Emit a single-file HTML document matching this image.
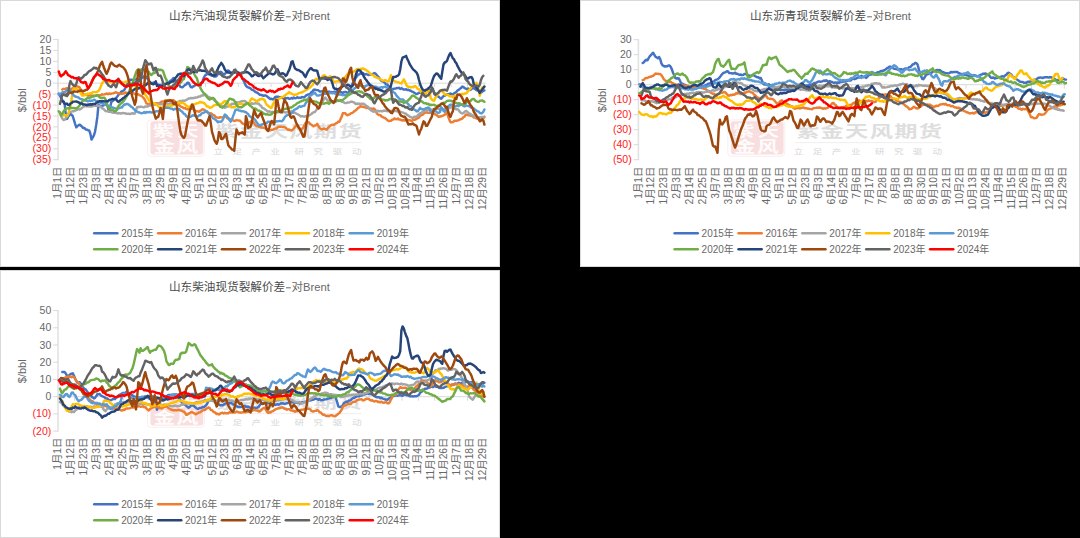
<!DOCTYPE html>
<html><head><meta charset="utf-8"><style>html,body{margin:0;padding:0;background:#000;}svg{display:block}body{font-family:"Liberation Sans",sans-serif;}text{font-family:"Liberation Sans","Noto Sans CJK SC",sans-serif;}</style></head><body>
<svg width="1080" height="538" viewBox="0 0 1080 538">
<rect width="1080" height="538" fill="#000"/>
<g transform="translate(0,0)">
<rect x="0.5" y="0.5" width="499" height="266" fill="#fff" stroke="#D9D9D9" stroke-width="1"/>
<rect x="150.4" y="121.3" width="52.8" height="33.2" rx="3" fill="#F8DEDE"/><rect x="147.4" y="119.9" width="57" height="36.4" rx="3.5" fill="none" stroke="#FAE9E9" stroke-width="0.8"/>
<g fill="#fff" opacity="0.9" font-size="15" font-weight="bold"><text transform="translate(152.4,135.6) scale(1.45,1)">紫</text><text transform="translate(177,135.6) scale(1.45,1)">天</text><text transform="translate(153.5,151.8) scale(1.45,1)">金</text><text transform="translate(176.5,151.8) scale(1.45,1)">风</text></g>
<text transform="translate(215.5,136.5) scale(1.5,1)" font-size="15.5" font-weight="bold" letter-spacing="0.9" fill="#DEDEDE">紫金天风期货</text>
<rect x="214.5" y="142.4" width="147" height="0.7" fill="#E6E6E6"/>
<text transform="translate(0,154) scale(1.45,1)" x="147.2 160.3 173.4 186.6 203.1 216.2 229.3 242.8" y="0" font-size="6.6" fill="#D6D6D6">立足产业研究驱动</text>
<text x="168.9" y="20.3" font-size="11.64" fill="#4a4a4a">山东汽油现货裂解价差</text>
<rect x="286.0" y="16.3" width="4.8" height="1" fill="#686868"/>
<text x="291.4" y="20.2" font-size="11.5" fill="#686868">对</text>
<text x="303.1" y="20.1" font-size="11.2" fill="#686868">Brent</text>
<path d="M58.0,39.0V160.2" stroke="#E2E2E2" stroke-width="1.6" fill="none"/>
<g font-size="10.5" text-anchor="end" fill="#686868"><text x="51.3" y="43.06">20</text><text x="51.3" y="54">15</text><text x="51.3" y="64.93">10</text><text x="51.3" y="75.86">5</text><text x="51.3" y="86.8">0</text></g>
<g font-size="10.5" text-anchor="end" fill="#FF2020"><text x="51.3" y="97.73">(5)</text><text x="51.3" y="108.67">(10)</text><text x="51.3" y="119.6">(15)</text><text x="51.3" y="130.54">(20)</text><text x="51.3" y="141.47">(25)</text><text x="51.3" y="152.41">(30)</text><text x="51.3" y="163.34">(35)</text></g>
<path d="M53.2,39.5H58.2M53.2,50.4H58.2M53.2,61.3H58.2M53.2,72.3H58.2M53.2,83.2H58.2M53.2,94.1H58.2M53.2,105.1H58.2M53.2,116.0H58.2M53.2,126.9H58.2M53.2,137.9H58.2M53.2,148.8H58.2M53.2,159.7H58.2M58.2,83.2H486.2M58.2,83.2V87.2M74.6,83.2V87.2M90.9,83.2V87.2M107.3,83.2V87.2M123.7,83.2V87.2M140.1,83.2V87.2M156.4,83.2V87.2M172.8,83.2V87.2M189.2,83.2V87.2M205.5,83.2V87.2M221.9,83.2V87.2M238.3,83.2V87.2M254.7,83.2V87.2M271.0,83.2V87.2M287.4,83.2V87.2M303.8,83.2V87.2M320.1,83.2V87.2M336.5,83.2V87.2M352.9,83.2V87.2M369.3,83.2V87.2M385.6,83.2V87.2M402.0,83.2V87.2M418.4,83.2V87.2M434.7,83.2V87.2M451.1,83.2V87.2M467.5,83.2V87.2M483.9,83.2V87.2" stroke="#D9D9D9" stroke-width="1" fill="none"/>
<text transform="translate(25.6,100.3) rotate(-90)" font-size="11" text-anchor="middle" fill="#686868">$/bbl</text>
<g font-size="10.3" text-anchor="end" fill="#686868">
<text transform="translate(61.18,166.6) rotate(-90)">1月1日</text>
<text transform="translate(74.05,166.6) rotate(-90)">1月12日</text>
<text transform="translate(86.91,166.6) rotate(-90)">1月23日</text>
<text transform="translate(99.77,166.6) rotate(-90)">2月3日</text>
<text transform="translate(112.64,166.6) rotate(-90)">2月14日</text>
<text transform="translate(125.50,166.6) rotate(-90)">2月25日</text>
<text transform="translate(138.37,166.6) rotate(-90)">3月7日</text>
<text transform="translate(151.23,166.6) rotate(-90)">3月18日</text>
<text transform="translate(164.09,166.6) rotate(-90)">3月29日</text>
<text transform="translate(176.96,166.6) rotate(-90)">4月9日</text>
<text transform="translate(189.82,166.6) rotate(-90)">4月20日</text>
<text transform="translate(202.68,166.6) rotate(-90)">5月1日</text>
<text transform="translate(215.55,166.6) rotate(-90)">5月12日</text>
<text transform="translate(228.41,166.6) rotate(-90)">5月23日</text>
<text transform="translate(241.27,166.6) rotate(-90)">6月3日</text>
<text transform="translate(254.14,166.6) rotate(-90)">6月14日</text>
<text transform="translate(267.00,166.6) rotate(-90)">6月25日</text>
<text transform="translate(279.86,166.6) rotate(-90)">7月6日</text>
<text transform="translate(292.73,166.6) rotate(-90)">7月17日</text>
<text transform="translate(305.59,166.6) rotate(-90)">7月28日</text>
<text transform="translate(318.45,166.6) rotate(-90)">8月8日</text>
<text transform="translate(331.32,166.6) rotate(-90)">8月19日</text>
<text transform="translate(344.18,166.6) rotate(-90)">8月30日</text>
<text transform="translate(357.04,166.6) rotate(-90)">9月10日</text>
<text transform="translate(369.91,166.6) rotate(-90)">9月21日</text>
<text transform="translate(382.77,166.6) rotate(-90)">10月2日</text>
<text transform="translate(395.63,166.6) rotate(-90)">10月13日</text>
<text transform="translate(408.50,166.6) rotate(-90)">10月24日</text>
<text transform="translate(421.36,166.6) rotate(-90)">11月4日</text>
<text transform="translate(434.22,166.6) rotate(-90)">11月15日</text>
<text transform="translate(447.09,166.6) rotate(-90)">11月26日</text>
<text transform="translate(459.95,166.6) rotate(-90)">12月7日</text>
<text transform="translate(472.81,166.6) rotate(-90)">12月18日</text>
<text transform="translate(485.68,166.6) rotate(-90)">12月29日</text>
</g>
<g fill="none" stroke-width="2.45" stroke-linejoin="round" stroke-linecap="round">
<path d="M58.8,93.6 60.0,95.7 61.1,98.1 62.3,100.1 63.5,102.1 64.6,103.9 65.8,114.3 67.0,118.9 68.1,116.6 69.3,115.3 70.5,114.2 71.6,114.6 72.8,116.3 74.0,120.2 75.2,124.1 76.3,127.3 77.5,126.0 78.7,125.2 79.8,124.7 81.0,125.7 82.2,126.9 83.3,128.1 84.5,127.9 85.7,129.5 86.9,129.6 88.0,130.2 89.2,130.4 90.4,133.9 91.5,139.5 92.7,137.5 93.9,135.4 95.0,131.8 96.2,124.9 97.4,116.4 98.5,104.6 99.7,105.8 100.9,106.3 102.1,106.1 103.2,105.5 104.4,104.9 105.6,104.5 106.7,103.6 107.9,107.6 109.1,111.6 110.2,107.1 111.4,101.8 112.6,101.1 113.7,100.1 114.9,99.0 116.1,98.1 117.3,96.5 118.4,94.8 119.6,93.8 120.8,92.1 121.9,91.4 123.1,90.7 124.3,89.9 125.4,88.0 126.6,85.7 127.8,83.2 128.9,81.8 130.1,79.8 131.3,79.6 132.5,79.9 133.6,79.8 134.8,79.6 136.0,79.6 137.1,78.9 138.3,79.4 139.5,79.3 140.6,78.0 141.8,78.1 143.0,77.4 144.2,76.2 145.3,75.8 146.5,77.9 147.7,78.9 148.8,80.5 150.0,82.3 151.2,83.7 152.3,83.2 153.5,82.4 154.7,82.4 155.8,83.3 157.0,84.5 158.2,84.7 159.4,85.0 160.5,85.3 161.7,84.7 162.9,84.9 164.0,85.0 165.2,83.8 166.4,83.6 167.5,82.9 168.7,82.3 169.9,81.3 171.0,80.4 172.2,79.6 173.4,78.0 174.6,79.5 175.7,80.5 176.9,80.9 178.1,83.0 179.2,85.0 180.4,86.8 181.6,87.2 182.7,87.2 183.9,86.0 185.1,84.8 186.2,84.6 187.4,82.8 188.6,82.7 189.8,85.0 190.9,87.1 192.1,87.4 193.3,86.3 194.4,86.0 195.6,84.8 196.8,84.8 197.9,85.1 199.1,85.5 200.3,86.0 201.5,83.1 202.6,81.0 203.8,77.8 205.0,75.5 206.1,74.7 207.3,72.9 208.5,74.4 209.6,74.5 210.8,75.1 212.0,75.8 213.1,75.9 214.3,76.6 215.5,76.6 216.7,75.9 217.8,74.3 219.0,72.9 220.2,71.8 221.3,71.9 222.5,73.5 223.7,74.6 224.8,74.0 226.0,72.7 227.2,71.1 228.3,70.4 229.5,71.4 230.7,72.8 231.9,72.6 233.0,73.2 234.2,71.9 235.4,72.2 236.5,71.6 237.7,72.5 238.9,72.9 240.0,74.9 241.2,75.7 242.4,78.2 243.5,80.4 244.7,83.1 245.9,85.6 247.1,86.9 248.2,87.5 249.4,87.8 250.6,88.4 251.7,89.7 252.9,90.1 254.1,90.6 255.2,91.8 256.4,92.5 257.6,92.8 258.8,94.0 259.9,94.8 261.1,95.0 262.3,95.2 263.4,95.8 264.6,95.5 265.8,95.4 266.9,96.3 268.1,97.2 269.3,98.2 270.4,99.1 271.6,98.8 272.8,99.4 274.0,98.7 275.1,97.1 276.3,96.6 277.5,96.7 278.6,96.8 279.8,97.5 281.0,97.1 282.1,97.8 283.3,98.3 284.5,97.5 285.6,98.3 286.8,98.3 288.0,97.9 289.2,98.9 290.3,98.6 291.5,98.0 292.7,98.5 293.8,97.5 295.0,98.2 296.2,98.1 297.3,97.2 298.5,97.9 299.7,97.7 300.9,97.7 302.0,96.9 303.2,97.3 304.4,97.1 305.5,96.0 306.7,95.1 307.9,94.5 309.0,94.4 310.2,93.8 311.4,92.2 312.5,91.6 313.7,89.8 314.9,89.6 316.1,90.0 317.2,90.1 318.4,90.3 319.6,91.5 320.7,91.5 321.9,91.4 323.1,90.9 324.2,91.5 325.4,92.1 326.6,92.0 327.7,92.1 328.9,91.5 330.1,92.2 331.3,91.9 332.4,92.8 333.6,91.9 334.8,91.8 335.9,92.2 337.1,90.9 338.3,90.8 339.4,91.1 340.6,92.2 341.8,92.3 342.9,92.9 344.1,92.1 345.3,92.0 346.5,92.3 347.6,92.7 348.8,92.4 350.0,90.1 351.1,87.3 352.3,84.0 353.5,81.7 354.6,79.6 355.8,77.7 357.0,76.2 358.2,74.4 359.3,74.4 360.5,73.2 361.7,73.8 362.8,72.9 364.0,74.0 365.2,74.5 366.3,74.0 367.5,74.7 368.7,75.1 369.8,74.1 371.0,74.6 372.2,74.1 373.4,73.6 374.5,73.0 375.7,73.7 376.9,75.2 378.0,76.5 379.2,77.9 380.4,79.7 381.5,81.0 382.7,81.4 383.9,82.0 385.0,83.1 386.2,84.5 387.4,84.5 388.6,86.2 389.7,86.7 390.9,88.2 392.1,89.1 393.2,89.2 394.4,88.6 395.6,88.6 396.7,88.0 397.9,88.1 399.1,87.8 400.2,88.9 401.4,88.2 402.6,88.9 403.8,89.6 404.9,89.5 406.1,89.2 407.3,90.1 408.4,89.7 409.6,90.5 410.8,90.8 411.9,91.6 413.1,91.9 414.3,92.8 415.5,93.5 416.6,94.1 417.8,93.6 419.0,92.7 420.1,92.8 421.3,92.3 422.5,91.6 423.6,91.6 424.8,90.9 426.0,90.7 427.1,90.3 428.3,90.0 429.5,90.3 430.7,90.2 431.8,89.9 433.0,90.2 434.2,92.6 435.3,93.5 436.5,95.4 437.7,96.2 438.8,96.9 440.0,97.9 441.2,98.8 442.3,97.4 443.5,96.0 444.7,95.6 445.9,95.1 447.0,94.3 448.2,94.6 449.4,93.8 450.5,93.4 451.7,94.5 452.9,94.4 454.0,93.3 455.2,92.7 456.4,91.9 457.5,90.4 458.7,90.0 459.9,88.7 461.1,87.9 462.2,86.6 463.4,87.0 464.6,88.1 465.7,88.5 466.9,89.2 468.1,88.5 469.2,89.4 470.4,89.9 471.6,88.8 472.8,88.1 473.9,88.1 475.1,89.1 476.3,90.0 477.4,90.6 478.6,90.9 479.8,91.9 480.9,92.8 482.1,91.8 483.3,90.7 484.4,90.4" stroke="#4472C4"/>
<path d="M62.3,89.6 63.5,88.8 64.6,89.2 65.8,88.7 67.0,88.2 68.1,88.8 69.3,88.7 70.5,89.1 71.6,88.7 72.8,88.4 74.0,87.1 75.2,87.1 76.3,86.2 77.5,86.5 78.7,86.6 79.8,87.8 81.0,89.9 82.2,92.7 83.3,94.0 84.5,94.7 85.7,94.8 86.9,95.0 88.0,95.4 89.2,95.2 90.4,95.0 91.5,95.8 92.7,95.6 93.9,95.6 95.0,95.8 96.2,95.3 97.4,95.3 98.5,95.3 99.7,95.2 100.9,95.3 102.1,94.3 103.2,94.6 104.4,94.4 105.6,94.0 106.7,93.4 107.9,94.2 109.1,93.4 110.2,94.0 111.4,93.6 112.6,93.4 113.7,93.2 114.9,92.6 116.1,92.3 117.3,92.8 118.4,93.2 119.6,93.2 120.8,93.9 121.9,93.7 123.1,93.4 124.3,93.4 125.4,92.4 126.6,92.9 127.8,92.9 128.9,93.0 130.1,92.3 131.3,92.5 132.5,92.6 133.6,93.1 134.8,94.1 136.0,94.4 137.1,94.6 138.3,94.2 139.5,95.2 140.6,95.6 141.8,95.9 143.0,97.4 144.2,98.7 145.3,100.7 146.5,103.4 147.7,103.8 148.8,104.2 150.0,103.9 151.2,104.5 152.3,103.6 153.5,104.4 154.7,104.2 155.8,103.5 157.0,103.1 158.2,103.5 159.4,103.3 160.5,102.4 161.7,101.6 162.9,101.4 164.0,101.5 165.2,100.3 166.4,100.9 167.5,100.1 168.7,100.1 169.9,100.0 171.0,100.9 172.2,100.9 173.4,100.2 174.6,101.1 175.7,102.9 176.9,104.1 178.1,104.0 179.2,105.4 180.4,106.4 181.6,106.7 182.7,107.4 183.9,108.2 185.1,108.2 186.2,108.8 187.4,109.3 188.6,108.8 189.8,108.4 190.9,107.8 192.1,108.9 193.3,108.9 194.4,110.2 195.6,111.2 196.8,111.2 197.9,111.4 199.1,111.7 200.3,110.8 201.5,110.1 202.6,109.3 203.8,109.6 205.0,110.4 206.1,111.3 207.3,112.4 208.5,112.8 209.6,113.2 210.8,113.3 212.0,114.0 213.1,114.9 214.3,115.4 215.5,116.8 216.7,117.3 217.8,117.7 219.0,117.8 220.2,117.2 221.3,117.4 222.5,117.2 223.7,116.8 224.8,116.3 226.0,116.6 227.2,118.3 228.3,118.6 229.5,118.8 230.7,119.5 231.9,119.4 233.0,120.3 234.2,121.0 235.4,120.6 236.5,120.1 237.7,120.4 238.9,120.4 240.0,120.6 241.2,122.2 242.4,123.4 243.5,124.0 244.7,124.3 245.9,123.8 247.1,124.5 248.2,124.1 249.4,122.2 250.6,121.9 251.7,120.5 252.9,121.6 254.1,123.1 255.2,124.7 256.4,125.9 257.6,125.9 258.8,126.7 259.9,126.4 261.1,127.5 262.3,127.5 263.4,127.7 264.6,128.1 265.8,128.5 266.9,129.7 268.1,129.6 269.3,130.3 270.4,130.3 271.6,129.7 272.8,129.7 274.0,129.0 275.1,128.6 276.3,128.5 277.5,127.6 278.6,126.7 279.8,126.7 281.0,126.8 282.1,126.9 283.3,126.9 284.5,127.2 285.6,127.7 286.8,128.9 288.0,129.9 289.2,129.5 290.3,130.3 291.5,130.5 292.7,129.8 293.8,128.5 295.0,126.9 296.2,125.7 297.3,125.9 298.5,127.7 299.7,128.9 300.9,130.4 302.0,128.9 303.2,127.6 304.4,125.2 305.5,123.1 306.7,122.4 307.9,122.1 309.0,122.5 310.2,124.2 311.4,124.6 312.5,125.7 313.7,126.3 314.9,125.4 316.1,125.0 317.2,123.9 318.4,126.0 319.6,127.8 320.7,129.0 321.9,129.3 323.1,128.8 324.2,128.6 325.4,129.1 326.6,129.7 327.7,128.2 328.9,127.0 330.1,125.9 331.3,125.1 332.4,124.8 333.6,124.8 334.8,124.2 335.9,123.4 337.1,122.8 338.3,121.6 339.4,121.7 340.6,118.9 341.8,116.4 342.9,113.1 344.1,113.2 345.3,113.3 346.5,114.8 347.6,115.3 348.8,114.6 350.0,114.1 351.1,113.2 352.3,112.9 353.5,112.1 354.6,110.8 355.8,110.3 357.0,109.3 358.2,107.6 359.3,107.5 360.5,106.1 361.7,106.7 362.8,106.6 364.0,107.3 365.2,106.6 366.3,108.1 367.5,107.7 368.7,108.3 369.8,108.7 371.0,108.5 372.2,109.1 373.4,108.5 374.5,108.9 375.7,110.5 376.9,113.4 378.0,114.5 379.2,115.1 380.4,115.1 381.5,116.5 382.7,117.0 383.9,117.7 385.0,118.1 386.2,119.0 387.4,120.2 388.6,120.9 389.7,120.9 390.9,120.8 392.1,119.6 393.2,119.5 394.4,118.5 395.6,119.0 396.7,119.2 397.9,118.5 399.1,119.6 400.2,119.5 401.4,120.3 402.6,120.6 403.8,119.9 404.9,120.6 406.1,119.6 407.3,119.5 408.4,120.2 409.6,120.2 410.8,120.6 411.9,121.2 413.1,119.9 414.3,119.8 415.5,119.6 416.6,118.6 417.8,118.3 419.0,117.5 420.1,116.0 421.3,115.1 422.5,114.9 423.6,113.8 424.8,112.7 426.0,112.5 427.1,112.3 428.3,112.8 429.5,112.6 430.7,112.8 431.8,113.2 433.0,112.4 434.2,113.7 435.3,114.5 436.5,114.9 437.7,116.1 438.8,116.9 440.0,116.5 441.2,116.3 442.3,115.8 443.5,115.3 444.7,114.7 445.9,113.8 447.0,112.4 448.2,116.5 449.4,119.9 450.5,122.2 451.7,122.2 452.9,122.1 454.0,121.0 455.2,120.7 456.4,120.9 457.5,120.5 458.7,120.1 459.9,119.5 461.1,119.0 462.2,118.6 463.4,117.2 464.6,116.7 465.7,114.7 466.9,114.4 468.1,115.3 469.2,114.9 470.4,115.7 471.6,115.9 472.8,116.4 473.9,117.6 475.1,117.2 476.3,118.3 477.4,118.7 478.6,118.0 479.8,118.7 480.9,118.1 482.1,118.3 483.3,117.8 484.4,117.3" stroke="#ED7D31"/>
<path d="M60.0,112.6 61.1,116.1 62.3,118.5 63.5,120.0 64.6,119.9 65.8,118.1 67.0,116.4 68.1,114.4 69.3,111.8 70.5,112.0 71.6,111.7 72.8,111.2 74.0,111.2 75.2,110.7 76.3,110.0 77.5,109.6 78.7,109.2 79.8,109.6 81.0,108.7 82.2,107.8 83.3,106.9 84.5,106.4 85.7,106.1 86.9,106.4 88.0,106.0 89.2,106.5 90.4,106.5 91.5,106.5 92.7,106.0 93.9,105.7 95.0,105.8 96.2,106.1 97.4,105.8 98.5,105.9 99.7,106.0 100.9,106.9 102.1,108.3 103.2,108.7 104.4,109.9 105.6,111.0 106.7,111.2 107.9,111.2 109.1,111.6 110.2,111.6 111.4,112.1 112.6,112.6 113.7,112.8 114.9,112.8 116.1,112.8 117.3,113.5 118.4,113.0 119.6,113.2 120.8,113.5 121.9,113.3 123.1,112.9 124.3,113.3 125.4,113.3 126.6,113.9 127.8,113.8 128.9,113.8 130.1,114.1 131.3,113.5 132.5,113.2 133.6,113.7 134.8,113.5 136.0,110.0 137.1,107.2 138.3,106.8 139.5,107.1 140.6,106.7 141.8,106.8 143.0,107.2 144.2,107.3 145.3,106.4 146.5,106.5 147.7,106.6 148.8,105.8 150.0,105.6 151.2,105.0 152.3,104.9 153.5,104.5 154.7,104.3 155.8,104.5 157.0,104.2 158.2,104.1 159.4,104.0 160.5,104.2 161.7,104.0 162.9,104.4 164.0,104.0 165.2,103.7 166.4,103.5 167.5,103.6 168.7,104.0 169.9,103.3 171.0,103.5 172.2,103.8 173.4,103.7 174.6,103.0 175.7,103.1 176.9,102.5 178.1,101.8 179.2,101.3 180.4,101.0 181.6,101.4 182.7,100.6 183.9,100.8 185.1,100.5 186.2,100.1 187.4,99.3 188.6,98.4 189.8,98.4 190.9,98.0 192.1,98.2 193.3,98.0 194.4,98.0 195.6,97.5 196.8,97.6 197.9,97.0 199.1,96.5 200.3,96.5 201.5,95.4 202.6,95.5 203.8,95.0 205.0,95.1 206.1,95.0 207.3,96.0 208.5,97.6 209.6,97.3 210.8,98.0 212.0,98.6 213.1,98.8 214.3,100.3 215.5,101.5 216.7,102.0 217.8,103.0 219.0,105.0 220.2,105.6 221.3,106.3 222.5,106.5 223.7,106.8 224.8,107.8 226.0,107.1 227.2,106.6 228.3,106.3 229.5,105.0 230.7,105.1 231.9,103.7 233.0,104.1 234.2,103.7 235.4,103.6 236.5,102.3 237.7,102.5 238.9,102.3 240.0,102.0 241.2,101.5 242.4,100.9 243.5,101.2 244.7,100.9 245.9,101.7 247.1,103.0 248.2,103.5 249.4,103.6 250.6,104.1 251.7,103.2 252.9,103.8 254.1,103.6 255.2,103.3 256.4,103.4 257.6,103.4 258.8,103.7 259.9,105.2 261.1,105.8 262.3,108.0 263.4,108.1 264.6,109.1 265.8,110.0 266.9,110.7 268.1,111.7 269.3,111.3 270.4,112.0 271.6,112.0 272.8,111.9 274.0,112.5 275.1,112.1 276.3,112.3 277.5,112.5 278.6,111.9 279.8,111.8 281.0,112.5 282.1,112.8 283.3,111.7 284.5,112.1 285.6,112.6 286.8,112.3 288.0,112.4 289.2,111.8 290.3,112.2 291.5,111.1 292.7,111.8 293.8,112.8 295.0,112.8 296.2,113.5 297.3,114.1 298.5,114.6 299.7,115.6 300.9,116.4 302.0,116.2 303.2,116.4 304.4,116.7 305.5,116.3 306.7,116.1 307.9,115.6 309.0,115.5 310.2,114.8 311.4,114.0 312.5,113.0 313.7,112.2 314.9,112.1 316.1,110.4 317.2,108.6 318.4,106.7 319.6,106.0 320.7,105.1 321.9,103.1 323.1,100.6 324.2,98.4 325.4,97.6 326.6,99.3 327.7,100.6 328.9,101.0 330.1,101.2 331.3,101.8 332.4,102.1 333.6,101.8 334.8,102.1 335.9,101.6 337.1,100.8 338.3,100.9 339.4,100.1 340.6,100.7 341.8,101.8 342.9,101.5 344.1,102.6 345.3,103.1 346.5,103.0 347.6,102.4 348.8,102.6 350.0,102.1 351.1,101.6 352.3,101.8 353.5,102.2 354.6,102.9 355.8,104.1 357.0,103.5 358.2,104.0 359.3,103.6 360.5,103.9 361.7,103.7 362.8,103.7 364.0,104.0 365.2,104.7 366.3,106.0 367.5,106.4 368.7,107.6 369.8,109.3 371.0,110.3 372.2,110.9 373.4,111.7 374.5,111.2 375.7,111.9 376.9,111.1 378.0,110.8 379.2,111.3 380.4,110.9 381.5,111.2 382.7,111.3 383.9,110.4 385.0,110.8 386.2,110.7 387.4,111.3 388.6,111.2 389.7,111.2 390.9,111.1 392.1,110.7 393.2,111.1 394.4,111.1 395.6,111.0 396.7,111.1 397.9,111.6 399.1,112.0 400.2,111.6 401.4,112.1 402.6,112.4 403.8,113.0 404.9,113.5 406.1,113.8 407.3,115.1 408.4,115.5 409.6,116.7 410.8,116.9 411.9,117.7 413.1,117.7 414.3,116.7 415.5,116.7 416.6,116.7 417.8,115.2 419.0,114.2 420.1,113.2 421.3,113.0 422.5,111.7 423.6,111.5 424.8,110.4 426.0,109.2 427.1,109.9 428.3,109.8 429.5,109.6 430.7,109.4 431.8,109.6 433.0,109.7 434.2,108.7 435.3,108.5 436.5,108.9 437.7,108.6 438.8,109.3 440.0,109.3 441.2,109.1 442.3,108.8 443.5,109.4 444.7,109.3 445.9,108.9 447.0,108.8 448.2,108.1 449.4,108.2 450.5,107.5 451.7,106.8 452.9,108.0 454.0,107.7 455.2,108.9 456.4,109.4 457.5,109.1 458.7,110.2 459.9,112.0 461.1,112.9 462.2,113.5 463.4,113.1 464.6,111.9 465.7,110.9 466.9,111.3 468.1,112.6 469.2,113.7 470.4,113.7 471.6,115.2 472.8,115.3 473.9,116.6 475.1,116.5 476.3,116.5 477.4,116.9 478.6,117.3 479.8,117.2 480.9,117.6 482.1,116.9 483.3,117.2 484.4,116.5" stroke="#A5A5A5"/>
<path d="M60.0,113.7 61.1,113.9 62.3,114.9 63.5,115.6 64.6,115.2 65.8,115.2 67.0,116.0 68.1,114.5 69.3,110.5 70.5,105.8 71.6,98.9 72.8,91.5 74.0,88.2 75.2,88.4 76.3,89.1 77.5,89.1 78.7,90.8 79.8,92.1 81.0,93.6 82.2,95.5 83.3,95.5 84.5,95.2 85.7,94.9 86.9,94.3 88.0,93.6 89.2,93.8 90.4,93.2 91.5,93.2 92.7,92.3 93.9,92.1 95.0,92.1 96.2,92.2 97.4,91.5 98.5,91.1 99.7,89.1 100.9,86.2 102.1,83.2 103.2,82.1 104.4,80.3 105.6,80.8 106.7,80.9 107.9,81.6 109.1,81.6 110.2,82.0 111.4,81.7 112.6,82.0 113.7,81.8 114.9,81.6 116.1,82.5 117.3,81.6 118.4,82.4 119.6,82.3 120.8,81.6 121.9,82.0 123.1,82.6 124.3,82.6 125.4,81.8 126.6,81.8 127.8,81.8 128.9,82.1 130.1,83.1 131.3,83.9 132.5,84.4 133.6,85.5 134.8,85.7 136.0,86.6 137.1,86.5 138.3,87.5 139.5,87.6 140.6,88.9 141.8,89.7 143.0,90.8 144.2,92.8 145.3,94.8 146.5,96.3 147.7,98.1 148.8,99.9 150.0,101.5 151.2,102.7 152.3,102.9 153.5,102.9 154.7,103.5 155.8,104.3 157.0,104.7 158.2,106.2 159.4,107.5 160.5,107.8 161.7,108.0 162.9,106.9 164.0,107.3 165.2,106.2 166.4,106.1 167.5,106.4 168.7,105.3 169.9,105.7 171.0,105.8 172.2,105.6 173.4,105.1 174.6,104.3 175.7,103.8 176.9,103.7 178.1,102.7 179.2,102.2 180.4,103.2 181.6,103.1 182.7,102.8 183.9,103.4 185.1,104.2 186.2,105.8 187.4,106.1 188.6,107.2 189.8,106.6 190.9,105.6 192.1,104.9 193.3,104.7 194.4,104.1 195.6,103.9 196.8,103.2 197.9,103.2 199.1,102.5 200.3,102.0 201.5,102.5 202.6,102.4 203.8,102.8 205.0,103.9 206.1,105.4 207.3,106.5 208.5,106.4 209.6,107.9 210.8,107.7 212.0,107.1 213.1,106.0 214.3,105.3 215.5,105.0 216.7,105.0 217.8,104.2 219.0,103.8 220.2,104.8 221.3,104.1 222.5,103.1 223.7,101.9 224.8,101.1 226.0,101.4 227.2,101.3 228.3,104.0 229.5,106.2 230.7,106.9 231.9,107.4 233.0,107.2 234.2,107.6 235.4,106.6 236.5,105.8 237.7,104.7 238.9,103.7 240.0,103.8 241.2,104.0 242.4,104.0 243.5,104.8 244.7,105.0 245.9,104.2 247.1,103.9 248.2,103.6 249.4,102.6 250.6,100.0 251.7,98.4 252.9,98.9 254.1,99.7 255.2,100.1 256.4,101.6 257.6,100.6 258.8,100.3 259.9,99.1 261.1,99.2 262.3,98.7 263.4,99.3 264.6,100.3 265.8,103.1 266.9,105.0 268.1,105.7 269.3,106.7 270.4,107.7 271.6,107.7 272.8,104.6 274.0,102.3 275.1,100.6 276.3,100.1 277.5,99.8 278.6,98.8 279.8,98.4 281.0,97.6 282.1,97.1 283.3,96.9 284.5,95.6 285.6,95.1 286.8,93.8 288.0,93.4 289.2,92.1 290.3,93.4 291.5,93.5 292.7,94.3 293.8,94.7 295.0,94.8 296.2,94.5 297.3,94.2 298.5,93.2 299.7,92.8 300.9,92.9 302.0,91.9 303.2,91.9 304.4,90.9 305.5,90.4 306.7,89.5 307.9,89.0 309.0,87.8 310.2,87.4 311.4,86.0 312.5,85.1 313.7,83.0 314.9,80.5 316.1,78.8 317.2,79.4 318.4,79.6 319.6,79.3 320.7,78.4 321.9,77.2 323.1,75.6 324.2,75.2 325.4,76.1 326.6,77.3 327.7,77.8 328.9,77.4 330.1,76.2 331.3,77.1 332.4,78.9 333.6,81.4 334.8,82.4 335.9,81.5 337.1,81.4 338.3,81.2 339.4,81.7 340.6,80.8 341.8,79.7 342.9,79.0 344.1,77.6 345.3,77.0 346.5,75.7 347.6,74.0 348.8,72.8 350.0,72.8 351.1,72.3 352.3,72.3 353.5,71.7 354.6,71.1 355.8,70.1 357.0,69.0 358.2,68.9 359.3,69.2 360.5,68.8 361.7,68.9 362.8,68.5 364.0,68.8 365.2,69.6 366.3,70.1 367.5,71.1 368.7,72.0 369.8,73.3 371.0,73.9 372.2,74.8 373.4,75.6 374.5,76.6 375.7,77.3 376.9,77.6 378.0,78.2 379.2,78.6 380.4,79.5 381.5,80.0 382.7,80.5 383.9,80.6 385.0,80.1 386.2,80.5 387.4,81.6 388.6,81.4 389.7,78.8 390.9,75.2 392.1,78.3 393.2,80.3 394.4,81.2 395.6,81.5 396.7,82.1 397.9,82.1 399.1,82.4 400.2,83.2 401.4,83.3 402.6,81.3 403.8,79.4 404.9,81.1 406.1,84.4 407.3,86.4 408.4,86.9 409.6,86.8 410.8,87.5 411.9,86.9 413.1,87.2 414.3,86.2 415.5,86.2 416.6,87.6 417.8,88.8 419.0,89.4 420.1,90.5 421.3,92.5 422.5,92.8 423.6,92.7 424.8,94.2 426.0,93.4 427.1,91.7 428.3,90.6 429.5,90.9 430.7,98.2 431.8,99.4 433.0,100.6 434.2,100.7 435.3,97.9 436.5,96.1 437.7,94.3 438.8,93.0 440.0,90.6 441.2,90.0 442.3,91.6 443.5,92.7 444.7,94.6 445.9,94.5 447.0,94.6 448.2,95.0 449.4,96.2 450.5,96.4 451.7,96.2 452.9,97.3 454.0,95.9 455.2,96.0 456.4,95.4 457.5,95.1 458.7,94.9 459.9,94.5 461.1,94.5 462.2,93.9 463.4,94.2 464.6,93.4 465.7,93.6 466.9,92.8 468.1,91.0 469.2,90.0 470.4,88.7 471.6,86.9 472.8,86.3 473.9,85.2 475.1,84.3 476.3,82.7 477.4,85.7 478.6,90.3 479.8,95.7 480.9,91.3 482.1,87.4 483.3,87.3 484.4,86.9" stroke="#FFC000"/>
<path d="M58.8,94.4 60.0,94.0 61.1,93.5 62.3,92.5 63.5,92.2 64.6,92.1 65.8,91.6 67.0,90.1 68.1,89.7 69.3,89.9 70.5,90.6 71.6,92.7 72.8,93.9 74.0,95.7 75.2,96.5 76.3,96.8 77.5,97.2 78.7,97.7 79.8,98.6 81.0,99.0 82.2,99.3 83.3,99.8 84.5,100.4 85.7,100.5 86.9,100.9 88.0,101.3 89.2,100.5 90.4,100.8 91.5,100.8 92.7,100.6 93.9,99.8 95.0,100.0 96.2,101.2 97.4,101.1 98.5,102.4 99.7,102.1 100.9,103.3 102.1,102.9 103.2,103.9 104.4,104.5 105.6,104.6 106.7,105.1 107.9,106.0 109.1,106.7 110.2,106.4 111.4,107.3 112.6,107.4 113.7,108.1 114.9,108.3 116.1,108.7 117.3,109.4 118.4,108.4 119.6,108.1 120.8,107.5 121.9,107.6 123.1,105.8 124.3,104.5 125.4,104.5 126.6,104.0 127.8,103.9 128.9,104.7 130.1,105.7 131.3,106.8 132.5,107.4 133.6,108.9 134.8,109.8 136.0,111.0 137.1,111.7 138.3,112.2 139.5,112.5 140.6,113.0 141.8,113.2 143.0,112.9 144.2,112.1 145.3,112.9 146.5,112.0 147.7,112.3 148.8,112.3 150.0,111.9 151.2,112.4 152.3,112.4 153.5,112.4 154.7,111.9 155.8,111.3 157.0,111.3 158.2,111.4 159.4,110.6 160.5,110.4 161.7,109.0 162.9,109.3 164.0,108.3 165.2,107.8 166.4,107.7 167.5,107.8 168.7,107.9 169.9,108.3 171.0,108.6 172.2,108.8 173.4,109.7 174.6,108.9 175.7,109.0 176.9,108.8 178.1,109.3 179.2,109.0 180.4,110.4 181.6,111.2 182.7,112.4 183.9,113.8 185.1,114.4 186.2,116.2 187.4,116.9 188.6,117.2 189.8,116.8 190.9,116.7 192.1,115.6 193.3,115.3 194.4,115.5 195.6,116.1 196.8,116.9 197.9,116.4 199.1,115.3 200.3,115.2 201.5,113.5 202.6,113.0 203.8,112.6 205.0,112.0 206.1,111.0 207.3,111.6 208.5,113.4 209.6,114.4 210.8,115.2 212.0,116.7 213.1,118.4 214.3,118.7 215.5,119.8 216.7,120.7 217.8,122.3 219.0,121.6 220.2,121.8 221.3,121.6 222.5,120.2 223.7,117.7 224.8,114.5 226.0,115.2 227.2,116.6 228.3,118.2 229.5,120.2 230.7,121.6 231.9,119.7 233.0,116.4 234.2,113.4 235.4,110.0 236.5,109.5 237.7,109.8 238.9,110.6 240.0,110.6 241.2,111.2 242.4,111.2 243.5,111.2 244.7,111.9 245.9,111.9 247.1,113.4 248.2,114.0 249.4,116.1 250.6,116.6 251.7,118.0 252.9,118.0 254.1,118.8 255.2,119.8 256.4,122.0 257.6,123.5 258.8,125.0 259.9,125.6 261.1,124.8 262.3,124.5 263.4,123.9 264.6,124.3 265.8,122.9 266.9,122.9 268.1,121.6 269.3,121.8 270.4,122.3 271.6,122.0 272.8,122.0 274.0,123.1 275.1,122.1 276.3,121.2 277.5,121.4 278.6,121.1 279.8,121.0 281.0,121.1 282.1,121.3 283.3,119.8 284.5,117.6 285.6,116.1 286.8,115.4 288.0,114.9 289.2,114.7 290.3,114.4 291.5,113.0 292.7,112.4 293.8,110.2 295.0,109.5 296.2,108.9 297.3,108.4 298.5,107.1 299.7,106.3 300.9,106.8 302.0,106.3 303.2,105.9 304.4,105.8 305.5,103.5 306.7,101.9 307.9,99.9 309.0,97.0 310.2,95.4 311.4,95.2 312.5,94.2 313.7,93.3 314.9,92.7 316.1,94.5 317.2,95.6 318.4,95.6 319.6,95.1 320.7,95.0 321.9,94.3 323.1,94.0 324.2,93.8 325.4,93.6 326.6,93.9 327.7,94.0 328.9,93.2 330.1,93.0 331.3,92.8 332.4,93.3 333.6,92.9 334.8,93.4 335.9,94.2 337.1,93.8 338.3,94.5 339.4,94.5 340.6,94.5 341.8,94.9 342.9,95.2 344.1,94.7 345.3,95.5 346.5,94.8 347.6,94.5 348.8,94.9 350.0,92.8 351.1,92.4 352.3,90.8 353.5,89.2 354.6,88.3 355.8,87.7 357.0,85.4 358.2,84.9 359.3,85.0 360.5,85.8 361.7,85.6 362.8,86.6 364.0,86.3 365.2,86.7 366.3,85.5 367.5,85.3 368.7,84.8 369.8,84.6 371.0,85.1 372.2,85.9 373.4,86.3 374.5,86.8 375.7,86.6 376.9,87.3 378.0,88.0 379.2,87.6 380.4,87.6 381.5,87.2 382.7,87.7 383.9,86.9 385.0,86.7 386.2,87.3 387.4,87.4 388.6,88.2 389.7,89.3 390.9,89.5 392.1,90.8 393.2,92.3 394.4,92.6 395.6,94.1 396.7,95.8 397.9,97.1 399.1,98.6 400.2,99.4 401.4,99.4 402.6,99.4 403.8,100.1 404.9,101.6 406.1,102.0 407.3,103.2 408.4,104.3 409.6,106.0 410.8,106.1 411.9,107.2 413.1,108.6 414.3,109.6 415.5,110.1 416.6,111.3 417.8,111.2 419.0,109.5 420.1,107.8 421.3,109.1 422.5,109.3 423.6,109.5 424.8,109.0 426.0,108.2 427.1,107.9 428.3,107.5 429.5,108.5 430.7,111.9 431.8,111.6 433.0,111.2 434.2,110.9 435.3,110.9 436.5,111.9 437.7,112.9 438.8,112.8 440.0,112.0 441.2,107.2 442.3,108.8 443.5,110.8 444.7,111.7 445.9,110.4 447.0,108.0 448.2,106.5 449.4,105.3 450.5,104.6 451.7,104.6 452.9,104.9 454.0,105.5 455.2,106.4 456.4,106.1 457.5,105.5 458.7,106.0 459.9,105.1 461.1,104.7 462.2,104.8 463.4,106.0 464.6,106.4 465.7,105.3 466.9,105.7 468.1,105.9 469.2,106.1 470.4,107.2 471.6,107.8 472.8,108.1 473.9,108.6 475.1,109.8 476.3,110.6 477.4,111.4 478.6,111.5 479.8,112.8 480.9,113.3 482.1,113.2 483.3,111.8 484.4,109.4" stroke="#5B9BD5"/>
<path d="M58.8,111.2 60.0,112.7 61.1,115.5 62.3,114.0 63.5,111.4 64.6,110.0 65.8,108.9 67.0,108.4 68.1,108.3 69.3,108.5 70.5,107.5 71.6,108.1 72.8,107.9 74.0,107.9 75.2,108.3 76.3,108.4 77.5,107.6 78.7,106.6 79.8,105.2 81.0,102.7 82.2,101.8 83.3,100.2 84.5,100.0 85.7,99.3 86.9,98.4 88.0,97.5 89.2,97.8 90.4,97.6 91.5,96.9 92.7,96.0 93.9,96.5 95.0,96.0 96.2,95.6 97.4,95.1 98.5,96.2 99.7,97.4 100.9,98.0 102.1,98.0 103.2,97.7 104.4,97.8 105.6,99.4 106.7,103.5 107.9,106.2 109.1,108.6 110.2,109.8 111.4,109.7 112.6,109.9 113.7,110.8 114.9,111.4 116.1,110.9 117.3,108.4 118.4,106.1 119.6,104.8 120.8,103.6 121.9,102.8 123.1,101.8 124.3,100.2 125.4,98.5 126.6,96.4 127.8,94.0 128.9,92.3 130.1,89.0 131.3,86.8 132.5,83.1 133.6,80.2 134.8,76.2 136.0,72.6 137.1,70.2 138.3,69.4 139.5,69.6 140.6,69.9 141.8,69.3 143.0,69.8 144.2,68.9 145.3,68.8 146.5,70.7 147.7,71.2 148.8,72.0 150.0,73.9 151.2,75.0 152.3,74.0 153.5,73.0 154.7,73.0 155.8,71.5 157.0,70.4 158.2,69.2 159.4,70.1 160.5,69.8 161.7,70.0 162.9,70.7 164.0,73.9 165.2,77.5 166.4,79.7 167.5,83.1 168.7,85.6 169.9,87.2 171.0,87.2 172.2,87.8 173.4,88.4 174.6,87.2 175.7,86.2 176.9,84.8 178.1,84.1 179.2,83.8 180.4,82.8 181.6,81.4 182.7,79.7 183.9,79.1 185.1,75.2 186.2,71.2 187.4,67.1 188.6,67.7 189.8,68.5 190.9,69.7 192.1,70.6 193.3,72.6 194.4,74.2 195.6,76.5 196.8,78.1 197.9,81.5 199.1,84.5 200.3,87.9 201.5,90.0 202.6,91.6 203.8,93.3 205.0,93.8 206.1,96.0 207.3,97.4 208.5,98.7 209.6,99.6 210.8,98.8 212.0,97.9 213.1,98.0 214.3,99.0 215.5,100.8 216.7,102.7 217.8,104.5 219.0,104.9 220.2,106.7 221.3,107.0 222.5,107.7 223.7,106.3 224.8,105.7 226.0,104.1 227.2,102.5 228.3,100.4 229.5,98.8 230.7,98.7 231.9,99.4 233.0,99.4 234.2,100.5 235.4,102.7 236.5,104.7 237.7,106.3 238.9,107.4 240.0,107.2 241.2,107.4 242.4,106.8 243.5,105.9 244.7,104.7 245.9,104.1 247.1,103.2 248.2,103.4 249.4,105.1 250.6,106.1 251.7,106.8 252.9,108.2 254.1,108.6 255.2,108.4 256.4,109.3 257.6,110.4 258.8,110.6 259.9,111.2 261.1,111.6 262.3,112.3 263.4,113.7 264.6,113.7 265.8,114.5 266.9,114.1 268.1,114.6 269.3,114.7 270.4,114.5 271.6,114.2 272.8,112.8 274.0,112.2 275.1,111.9 276.3,111.5 277.5,111.7 278.6,110.6 279.8,110.5 281.0,110.6 282.1,109.6 283.3,109.3 284.5,109.1 285.6,108.8 286.8,108.7 288.0,109.1 289.2,108.1 290.3,107.4 291.5,107.5 292.7,106.7 293.8,105.6 295.0,105.0 296.2,104.2 297.3,103.2 298.5,102.7 299.7,101.9 300.9,101.4 302.0,100.7 303.2,100.6 304.4,99.6 305.5,100.2 306.7,99.5 307.9,100.4 309.0,100.7 310.2,100.8 311.4,101.8 312.5,101.4 313.7,101.3 314.9,101.6 316.1,101.6 317.2,102.3 318.4,103.0 319.6,103.3 320.7,102.8 321.9,103.6 323.1,103.5 324.2,103.7 325.4,103.0 326.6,102.9 327.7,103.0 328.9,103.8 330.1,102.6 331.3,102.1 332.4,102.1 333.6,101.2 334.8,100.9 335.9,101.3 337.1,100.1 338.3,100.7 339.4,100.8 340.6,100.4 341.8,100.3 342.9,99.9 344.1,98.9 345.3,97.9 346.5,96.8 347.6,95.6 348.8,94.3 350.0,94.4 351.1,93.5 352.3,93.0 353.5,92.6 354.6,92.6 355.8,91.9 357.0,91.6 358.2,91.4 359.3,91.3 360.5,92.1 361.7,91.8 362.8,92.8 364.0,93.5 365.2,94.2 366.3,94.8 367.5,96.5 368.7,97.2 369.8,98.4 371.0,99.3 372.2,99.7 373.4,98.9 374.5,97.3 375.7,96.8 376.9,97.1 378.0,97.4 379.2,98.4 380.4,98.6 381.5,99.4 382.7,99.6 383.9,99.6 385.0,100.5 386.2,100.2 387.4,100.3 388.6,99.8 389.7,99.0 390.9,99.0 392.1,99.4 393.2,99.2 394.4,99.3 395.6,100.2 396.7,101.0 397.9,100.9 399.1,101.8 400.2,101.6 401.4,101.6 402.6,102.0 403.8,102.8 404.9,102.6 406.1,101.8 407.3,101.2 408.4,100.0 409.6,99.0 410.8,97.6 411.9,96.0 413.1,95.6 414.3,95.9 415.5,97.1 416.6,98.0 417.8,98.6 419.0,99.6 420.1,101.0 421.3,101.2 422.5,101.8 423.6,103.0 424.8,103.3 426.0,103.2 427.1,104.1 428.3,103.7 429.5,105.0 430.7,104.7 431.8,105.0 433.0,104.9 434.2,104.8 435.3,105.6 436.5,105.9 437.7,105.7 438.8,105.3 440.0,105.0 441.2,103.5 442.3,103.8 443.5,102.6 444.7,102.9 445.9,102.0 447.0,100.9 448.2,100.7 449.4,100.6 450.5,100.6 451.7,101.2 452.9,101.3 454.0,102.1 455.2,102.7 456.4,103.0 457.5,103.5 458.7,103.2 459.9,103.5 461.1,104.3 462.2,104.5 463.4,104.3 464.6,102.8 465.7,103.4 466.9,102.1 468.1,101.7 469.2,101.6 470.4,101.2 471.6,99.6 472.8,99.0 473.9,99.0 475.1,100.4 476.3,101.3 477.4,101.7 478.6,101.9 479.8,100.8 480.9,100.6 482.1,100.4 483.3,101.1 484.4,101.8" stroke="#70AD47"/>
<path d="M61.1,100.6 62.3,101.2 63.5,101.4 64.6,103.6 65.8,104.0 67.0,103.6 68.1,104.8 69.3,105.2 70.5,103.4 71.6,103.1 72.8,101.7 74.0,101.6 75.2,101.6 76.3,101.4 77.5,102.0 78.7,102.3 79.8,103.4 81.0,103.4 82.2,103.9 83.3,104.6 84.5,104.4 85.7,104.7 86.9,105.2 88.0,104.5 89.2,104.7 90.4,104.1 91.5,104.8 92.7,103.9 93.9,103.9 95.0,104.1 96.2,103.0 97.4,102.3 98.5,101.6 99.7,101.2 100.9,101.3 102.1,101.1 103.2,101.3 104.4,101.5 105.6,101.4 106.7,101.1 107.9,101.4 109.1,100.2 110.2,99.7 111.4,99.4 112.6,98.8 113.7,99.2 114.9,98.9 116.1,99.3 117.3,101.0 118.4,101.9 119.6,101.0 120.8,100.0 121.9,99.4 123.1,98.1 124.3,97.5 125.4,96.2 126.6,95.4 127.8,94.4 128.9,93.1 130.1,91.7 131.3,91.4 132.5,90.8 133.6,89.9 134.8,89.0 136.0,88.6 137.1,88.7 138.3,88.5 139.5,87.9 140.6,87.5 141.8,86.8 143.0,86.5 144.2,85.2 145.3,85.3 146.5,84.4 147.7,82.9 148.8,82.3 150.0,82.1 151.2,83.4 152.3,84.0 153.5,84.2 154.7,83.5 155.8,81.3 157.0,86.0 158.2,85.7 159.4,85.7 160.5,86.2 161.7,86.4 162.9,85.8 164.0,85.3 165.2,84.2 166.4,83.8 167.5,83.0 168.7,83.6 169.9,82.6 171.0,82.0 172.2,81.4 173.4,81.4 174.6,79.1 175.7,77.5 176.9,76.3 178.1,74.5 179.2,74.2 180.4,73.7 181.6,73.6 182.7,75.3 183.9,76.3 185.1,74.2 186.2,71.8 187.4,69.9 188.6,69.3 189.8,70.0 190.9,70.8 192.1,71.3 193.3,71.8 194.4,72.1 195.6,71.5 196.8,71.1 197.9,70.3 199.1,70.4 200.3,70.1 201.5,70.8 202.6,70.7 203.8,70.7 205.0,71.0 206.1,71.5 207.3,71.7 208.5,72.3 209.6,73.9 210.8,73.8 212.0,75.1 213.1,75.2 214.3,75.7 215.5,74.9 216.7,71.2 217.8,69.1 219.0,66.3 220.2,64.8 221.3,62.9 222.5,64.5 223.7,66.7 224.8,69.5 226.0,71.1 227.2,72.2 228.3,72.5 229.5,72.4 230.7,73.2 231.9,72.9 233.0,72.6 234.2,72.6 235.4,71.7 236.5,71.5 237.7,72.8 238.9,72.8 240.0,73.9 241.2,73.6 242.4,73.1 243.5,72.9 244.7,71.9 245.9,72.2 247.1,72.1 248.2,72.6 249.4,73.5 250.6,74.6 251.7,76.2 252.9,76.0 254.1,74.7 255.2,74.3 256.4,74.4 257.6,75.6 258.8,76.0 259.9,75.6 261.1,74.3 262.3,76.8 263.4,78.2 264.6,77.1 265.8,75.9 266.9,75.1 268.1,73.8 269.3,73.1 270.4,73.4 271.6,73.8 272.8,74.4 274.0,74.2 275.1,73.1 276.3,70.4 277.5,69.4 278.6,71.7 279.8,74.1 281.0,73.9 282.1,73.3 283.3,73.5 284.5,74.3 285.6,75.9 286.8,75.1 288.0,72.1 289.2,69.9 290.3,66.5 291.5,61.9 292.7,61.2 293.8,65.2 295.0,68.4 296.2,69.3 297.3,70.1 298.5,70.0 299.7,70.8 300.9,71.7 302.0,72.2 303.2,73.4 304.4,75.6 305.5,77.0 306.7,74.3 307.9,71.6 309.0,70.1 310.2,68.5 311.4,68.2 312.5,69.7 313.7,70.3 314.9,70.5 316.1,70.5 317.2,70.9 318.4,75.4 319.6,79.1 320.7,78.9 321.9,78.3 323.1,78.1 324.2,78.5 325.4,78.6 326.6,79.1 327.7,80.0 328.9,79.2 330.1,79.0 331.3,80.4 332.4,83.3 333.6,87.8 334.8,88.8 335.9,88.7 337.1,89.2 338.3,89.3 339.4,88.7 340.6,87.5 341.8,87.0 342.9,86.1 344.1,85.9 345.3,85.8 346.5,85.7 347.6,84.7 348.8,85.1 350.0,86.1 351.1,86.8 352.3,86.0 353.5,84.7 354.6,80.4 355.8,75.0 357.0,71.5 358.2,70.1 359.3,70.2 360.5,70.9 361.7,72.7 362.8,74.3 364.0,76.9 365.2,78.7 366.3,80.0 367.5,81.7 368.7,83.3 369.8,84.9 371.0,86.0 372.2,86.4 373.4,88.0 374.5,87.7 375.7,88.9 376.9,88.6 378.0,89.7 379.2,89.4 380.4,90.2 381.5,90.3 382.7,91.2 383.9,91.6 385.0,91.7 386.2,90.8 387.4,89.9 388.6,89.5 389.7,88.6 390.9,85.8 392.1,80.8 393.2,76.9 394.4,77.0 395.6,76.8 396.7,76.2 397.9,75.7 399.1,74.3 400.2,69.4 401.4,61.5 402.6,57.7 403.8,57.1 404.9,56.7 406.1,55.9 407.3,59.1 408.4,61.0 409.6,64.0 410.8,65.9 411.9,67.7 413.1,69.4 414.3,70.4 415.5,71.5 416.6,72.6 417.8,75.1 419.0,80.0 420.1,84.0 421.3,87.1 422.5,89.4 423.6,90.0 424.8,90.6 426.0,89.6 427.1,89.6 428.3,88.2 429.5,87.4 430.7,86.2 431.8,82.6 433.0,78.9 434.2,75.8 435.3,74.6 436.5,73.4 437.7,73.9 438.8,75.5 440.0,77.2 441.2,78.8 442.3,71.7 443.5,64.5 444.7,62.5 445.9,62.0 447.0,60.9 448.2,57.4 449.4,54.6 450.5,53.0 451.7,55.8 452.9,58.4 454.0,59.3 455.2,61.9 456.4,63.3 457.5,65.9 458.7,68.1 459.9,70.4 461.1,72.0 462.2,73.7 463.4,74.1 464.6,74.8 465.7,76.6 466.9,78.6 468.1,78.5 469.2,77.7 470.4,77.2 471.6,77.1 472.8,79.4 473.9,85.0 475.1,85.8 476.3,87.7 477.4,88.7 478.6,90.7 479.8,92.9 480.9,91.4 482.1,89.5 483.3,88.2 484.4,86.5" stroke="#264478"/>
<path d="M63.5,94.4 64.6,94.6 65.8,94.7 67.0,94.0 68.1,93.5 69.3,93.0 70.5,92.4 71.6,93.0 72.8,92.3 74.0,91.4 75.2,91.6 76.3,91.6 77.5,91.7 78.7,90.9 79.8,90.8 81.0,90.5 82.2,90.8 83.3,91.0 84.5,90.7 85.7,89.9 86.9,89.8 88.0,88.7 89.2,87.2 90.4,85.1 91.5,82.1 92.7,79.7 93.9,77.7 95.0,76.1 96.2,74.8 97.4,72.4 98.5,69.6 99.7,65.9 100.9,63.7 102.1,61.8 103.2,65.5 104.4,68.8 105.6,71.8 106.7,73.8 107.9,71.0 109.1,67.9 110.2,64.2 111.4,62.5 112.6,63.7 113.7,65.1 114.9,65.9 116.1,66.3 117.3,66.6 118.4,65.1 119.6,64.8 120.8,66.1 121.9,66.6 123.1,67.3 124.3,68.7 125.4,70.2 126.6,73.0 127.8,76.6 128.9,81.8 130.1,87.2 131.3,92.9 132.5,97.1 133.6,100.6 134.8,104.7 136.0,100.4 137.1,82.6 138.3,69.8 139.5,70.5 140.6,80.1 141.8,90.5 143.0,93.7 144.2,87.9 145.3,70.2 146.5,65.1 147.7,71.9 148.8,81.0 150.0,91.2 151.2,99.0 152.3,105.7 153.5,110.8 154.7,115.2 155.8,118.6 157.0,117.4 158.2,116.8 159.4,113.0 160.5,107.9 161.7,112.3 162.9,119.0 164.0,107.4 165.2,101.3 166.4,101.2 167.5,100.9 168.7,100.8 169.9,100.4 171.0,100.5 172.2,100.8 173.4,103.8 174.6,104.0 175.7,102.3 176.9,106.3 178.1,115.7 179.2,123.8 180.4,131.6 181.6,135.3 182.7,136.8 183.9,138.0 185.1,135.6 186.2,129.5 187.4,123.0 188.6,117.2 189.8,110.5 190.9,108.1 192.1,104.5 193.3,106.0 194.4,110.8 195.6,115.6 196.8,118.2 197.9,120.4 199.1,120.5 200.3,120.2 201.5,120.9 202.6,122.2 203.8,123.3 205.0,125.5 206.1,125.6 207.3,121.9 208.5,119.3 209.6,115.9 210.8,123.5 212.0,131.9 213.1,135.4 214.3,139.8 215.5,142.0 216.7,143.8 217.8,140.1 219.0,131.9 220.2,133.6 221.3,138.9 222.5,138.9 223.7,137.5 224.8,135.6 226.0,133.8 227.2,140.1 228.3,145.2 229.5,146.9 230.7,147.9 231.9,149.6 233.0,149.7 234.2,150.8 235.4,139.4 236.5,129.5 237.7,132.1 238.9,134.3 240.0,132.9 241.2,133.1 242.4,132.3 243.5,133.8 244.7,134.6 245.9,116.2 247.1,119.9 248.2,128.1 249.4,127.3 250.6,126.7 251.7,123.2 252.9,116.6 254.1,110.0 255.2,112.7 256.4,115.7 257.6,117.4 258.8,115.8 259.9,114.1 261.1,112.9 262.3,116.9 263.4,119.8 264.6,123.0 265.8,126.5 266.9,130.0 268.1,131.0 269.3,127.6 270.4,123.7 271.6,121.0 272.8,121.7 274.0,124.3 275.1,114.9 276.3,99.6 277.5,100.6 278.6,106.8 279.8,112.1 281.0,111.9 282.1,111.8 283.3,104.5 284.5,99.6 285.6,101.9 286.8,103.3 288.0,107.8 289.2,111.9 290.3,116.6 291.5,117.8 292.7,116.5 293.8,116.4 295.0,119.3 296.2,122.9 297.3,124.8 298.5,126.8 299.7,128.7 300.9,131.1 302.0,133.8 303.2,136.7 304.4,136.6 305.5,129.7 306.7,121.7 307.9,113.9 309.0,105.3 310.2,98.3 311.4,100.3 312.5,102.2 313.7,103.9 314.9,104.5 316.1,104.9 317.2,107.1 318.4,108.6 319.6,107.3 320.7,103.1 321.9,99.5 323.1,93.3 324.2,88.3 325.4,87.5 326.6,91.5 327.7,94.1 328.9,96.5 330.1,99.3 331.3,100.6 332.4,101.5 333.6,102.9 334.8,101.3 335.9,97.9 337.1,95.4 338.3,92.2 339.4,90.4 340.6,89.1 341.8,85.7 342.9,78.6 344.1,78.7 345.3,82.5 346.5,81.0 347.6,77.7 348.8,73.8 350.0,69.4 351.1,67.8 352.3,77.2 353.5,81.8 354.6,83.6 355.8,84.7 357.0,86.9 358.2,87.7 359.3,82.7 360.5,80.2 361.7,84.8 362.8,87.4 364.0,88.5 365.2,91.1 366.3,90.1 367.5,89.7 368.7,89.5 369.8,87.6 371.0,87.6 372.2,86.9 373.4,90.8 374.5,94.1 375.7,95.6 376.9,94.9 378.0,95.2 379.2,97.2 380.4,99.5 381.5,100.9 382.7,103.3 383.9,104.3 385.0,106.5 386.2,107.7 387.4,109.2 388.6,110.3 389.7,111.0 390.9,112.8 392.1,113.2 393.2,110.8 394.4,108.1 395.6,108.0 396.7,108.2 397.9,108.9 399.1,111.7 400.2,114.5 401.4,115.9 402.6,116.3 403.8,116.8 404.9,116.8 406.1,118.8 407.3,122.0 408.4,124.6 409.6,124.2 410.8,124.2 411.9,124.0 413.1,123.5 414.3,125.0 415.5,125.0 416.6,126.1 417.8,130.5 419.0,134.5 420.1,131.0 421.3,128.7 422.5,124.7 423.6,121.3 424.8,122.4 426.0,125.9 427.1,125.8 428.3,123.6 429.5,121.2 430.7,118.7 431.8,116.8 433.0,111.9 434.2,109.3 435.3,109.0 436.5,107.8 437.7,106.5 438.8,106.2 440.0,105.2 441.2,104.0 442.3,103.5 443.5,103.9 444.7,105.8 445.9,107.5 447.0,106.8 448.2,111.7 449.4,115.2 450.5,116.8 451.7,113.3 452.9,111.1 454.0,101.5 455.2,98.0 456.4,99.0 457.5,94.5 458.7,94.8 459.9,94.7 461.1,96.2 462.2,98.0 463.4,100.4 464.6,103.2 465.7,101.2 466.9,98.2 468.1,100.5 469.2,102.8 470.4,104.9 471.6,106.4 472.8,108.8 473.9,112.0 475.1,113.7 476.3,115.5 477.4,117.5 478.6,118.7 479.8,121.3 480.9,120.7 482.1,119.2 483.3,120.3 484.4,124.6" stroke="#9E480E"/>
<path d="M60.0,103.9 61.1,99.7 62.3,94.6 63.5,94.6 64.6,95.1 65.8,95.6 67.0,96.0 68.1,94.3 69.3,85.4 70.5,81.1 71.6,83.1 72.8,84.8 74.0,85.8 75.2,86.0 76.3,84.0 77.5,79.2 78.7,77.2 79.8,78.1 81.0,78.7 82.2,77.8 83.3,76.7 84.5,75.0 85.7,74.7 86.9,73.8 88.0,72.3 89.2,71.2 90.4,70.6 91.5,69.9 92.7,68.8 93.9,67.6 95.0,68.2 96.2,67.9 97.4,69.0 98.5,70.1 99.7,70.8 100.9,72.6 102.1,74.5 103.2,75.5 104.4,77.7 105.6,81.0 106.7,82.8 107.9,84.7 109.1,85.9 110.2,86.5 111.4,87.0 112.6,84.9 113.7,83.9 114.9,85.5 116.1,87.3 117.3,83.6 118.4,78.7 119.6,81.1 120.8,82.6 121.9,83.9 123.1,84.4 124.3,86.0 125.4,85.8 126.6,85.9 127.8,84.9 128.9,84.9 130.1,84.6 131.3,85.0 132.5,84.1 133.6,83.0 134.8,83.0 136.0,82.1 137.1,81.6 138.3,81.7 139.5,81.2 140.6,80.6 141.8,74.4 143.0,68.4 144.2,64.1 145.3,60.3 146.5,61.8 147.7,63.7 148.8,64.5 150.0,63.8 151.2,63.5 152.3,66.6 153.5,70.4 154.7,68.2 155.8,67.8 157.0,71.7 158.2,75.4 159.4,75.7 160.5,75.6 161.7,78.2 162.9,82.2 164.0,84.8 165.2,87.4 166.4,91.5 167.5,94.5 168.7,90.5 169.9,87.4 171.0,86.8 172.2,86.5 173.4,85.0 174.6,84.4 175.7,82.6 176.9,81.4 178.1,79.9 179.2,78.9 180.4,76.8 181.6,76.1 182.7,74.5 183.9,73.0 185.1,72.9 186.2,72.0 187.4,72.3 188.6,73.2 189.8,73.6 190.9,73.4 192.1,70.0 193.3,65.9 194.4,68.5 195.6,71.2 196.8,72.2 197.9,69.7 199.1,67.7 200.3,65.6 201.5,63.3 202.6,60.4 203.8,62.6 205.0,67.6 206.1,69.4 207.3,71.2 208.5,72.7 209.6,72.3 210.8,69.9 212.0,68.3 213.1,70.8 214.3,72.8 215.5,72.9 216.7,72.7 217.8,71.5 219.0,72.4 220.2,74.1 221.3,74.7 222.5,76.1 223.7,76.8 224.8,76.8 226.0,77.4 227.2,77.9 228.3,77.1 229.5,77.3 230.7,75.7 231.9,74.6 233.0,72.9 234.2,69.9 235.4,69.6 236.5,72.4 237.7,74.8 238.9,74.6 240.0,74.0 241.2,73.0 242.4,72.5 243.5,72.7 244.7,71.6 245.9,69.2 247.1,66.9 248.2,64.5 249.4,64.5 250.6,66.9 251.7,69.1 252.9,70.3 254.1,71.9 255.2,72.5 256.4,72.2 257.6,73.1 258.8,74.6 259.9,74.1 261.1,73.4 262.3,71.8 263.4,70.3 264.6,69.6 265.8,67.5 266.9,69.7 268.1,72.6 269.3,71.5 270.4,70.9 271.6,68.9 272.8,66.0 274.0,65.6 275.1,67.6 276.3,69.4 277.5,72.2 278.6,74.7 279.8,75.7 281.0,76.4 282.1,76.7 283.3,77.8 284.5,79.8 285.6,81.0 286.8,81.8 288.0,80.2 289.2,79.6 290.3,79.5 291.5,80.3 292.7,81.2 293.8,82.6 295.0,84.8 296.2,85.8 297.3,86.2 298.5,86.4 299.7,84.5 300.9,82.0 302.0,83.4 303.2,85.1 304.4,86.1 305.5,87.7 306.7,88.0 307.9,86.2 309.0,84.2 310.2,82.1 311.4,81.3 312.5,80.6 313.7,80.7 314.9,82.0 316.1,83.4 317.2,84.4 318.4,82.7 319.6,81.1 320.7,79.2 321.9,78.1 323.1,78.0 324.2,77.5 325.4,77.2 326.6,78.1 327.7,77.9 328.9,78.1 330.1,78.3 331.3,78.0 332.4,77.1 333.6,77.0 334.8,76.9 335.9,77.3 337.1,77.7 338.3,78.1 339.4,79.3 340.6,80.5 341.8,82.8 342.9,83.7 344.1,84.7 345.3,86.1 346.5,87.7 347.6,87.8 348.8,89.4 350.0,89.6 351.1,90.1 352.3,91.8 353.5,91.7 354.6,93.1 355.8,92.8 357.0,93.5 358.2,94.8 359.3,94.9 360.5,96.2 361.7,96.5 362.8,97.0 364.0,95.5 365.2,94.8 366.3,93.9 367.5,94.4 368.7,95.0 369.8,95.3 371.0,97.2 372.2,98.8 373.4,102.1 374.5,103.3 375.7,101.2 376.9,98.8 378.0,97.8 379.2,97.6 380.4,96.8 381.5,95.5 382.7,94.9 383.9,94.3 385.0,93.5 386.2,92.5 387.4,90.8 388.6,90.2 389.7,88.7 390.9,89.8 392.1,97.7 393.2,102.7 394.4,101.0 395.6,99.8 396.7,101.3 397.9,102.9 399.1,104.5 400.2,104.7 401.4,105.1 402.6,106.1 403.8,105.8 404.9,107.1 406.1,107.6 407.3,107.1 408.4,108.4 409.6,109.3 410.8,109.3 411.9,109.8 413.1,107.6 414.3,105.8 415.5,104.3 416.6,103.7 417.8,103.1 419.0,102.6 420.1,99.2 421.3,96.2 422.5,92.7 423.6,94.5 424.8,96.4 426.0,96.7 427.1,95.5 428.3,95.3 429.5,93.2 430.7,92.2 431.8,87.3 433.0,89.0 434.2,93.8 435.3,94.9 436.5,94.1 437.7,93.1 438.8,92.2 440.0,90.9 441.2,90.4 442.3,90.0 443.5,90.0 444.7,89.7 445.9,90.2 447.0,90.7 448.2,87.2 449.4,83.9 450.5,81.4 451.7,81.7 452.9,80.4 454.0,78.8 455.2,76.0 456.4,74.3 457.5,76.1 458.7,77.7 459.9,76.3 461.1,75.5 462.2,74.1 463.4,72.4 464.6,76.0 465.7,79.3 466.9,80.7 468.1,81.6 469.2,83.7 470.4,84.8 471.6,85.3 472.8,86.4 473.9,85.9 475.1,86.1 476.3,85.7 477.4,85.9 478.6,86.6 479.8,84.8 480.9,80.2 482.1,77.2 483.3,75.8" stroke="#636363"/>
<path d="M58.8,71.4 60.0,75.2 61.1,76.4 62.3,75.0 63.5,74.5 64.6,73.0 65.8,71.3 67.0,73.2 68.1,75.2 69.3,75.7 70.5,76.3 71.6,77.4 72.8,77.0 74.0,78.1 75.2,78.3 76.3,78.1 77.5,78.3 78.7,79.0 79.8,80.3 81.0,81.9 82.2,82.4 83.3,82.9 84.5,82.0 85.7,82.3 86.9,85.7 88.0,88.3 89.2,86.6 90.4,84.9 91.5,82.8 92.7,79.9 93.9,77.2 95.0,76.2 96.2,74.4 97.4,74.0 98.5,74.5 99.7,75.5 100.9,76.2 102.1,77.4 103.2,79.0 104.4,79.3 105.6,79.7 106.7,80.2 107.9,80.3 109.1,80.0 110.2,80.6 111.4,80.9 112.6,81.1 113.7,81.6 114.9,81.5 116.1,80.7 117.3,79.9 118.4,79.4 119.6,81.1 120.8,82.5 121.9,83.8 123.1,84.8 124.3,85.5 125.4,86.4 126.6,86.7 127.8,85.9 128.9,85.8 130.1,85.1 131.3,85.5 132.5,85.2 133.6,84.9 134.8,84.5 136.0,84.0 137.1,84.1 138.3,84.2 139.5,85.0 140.6,85.1 141.8,86.8 143.0,88.3 144.2,88.9 145.3,89.8 146.5,91.4 147.7,92.1 148.8,93.5 150.0,92.2 151.2,91.1 152.3,90.9 153.5,90.3 154.7,90.2 155.8,89.9 157.0,90.0 158.2,89.1 159.4,87.3 160.5,86.9 161.7,87.3 162.9,88.5 164.0,88.6 165.2,88.8 166.4,88.0 167.5,87.9 168.7,88.5 169.9,88.2 171.0,87.9 172.2,88.0 173.4,88.9 174.6,89.1 175.7,87.1 176.9,86.3 178.1,83.6 179.2,82.1 180.4,79.7 181.6,77.1 182.7,74.4 183.9,72.9 185.1,73.6 186.2,74.0 187.4,74.8 188.6,76.6 189.8,77.2 190.9,78.8 192.1,80.5 193.3,82.0 194.4,83.0 195.6,83.9 196.8,84.6 197.9,85.0 199.1,85.0 200.3,84.7 201.5,82.7 202.6,82.3 203.8,80.1 205.0,79.2 206.1,78.7 207.3,79.0 208.5,80.8 209.6,81.1 210.8,81.9 212.0,82.3 213.1,83.1 214.3,82.9 215.5,83.9 216.7,84.7 217.8,85.8 219.0,85.8 220.2,84.8 221.3,84.3 222.5,83.9 223.7,82.7 224.8,81.8 226.0,81.9 227.2,81.9 228.3,82.3 229.5,84.0 230.7,85.7 231.9,84.0 233.0,80.1 234.2,78.9 235.4,77.5 236.5,76.9 237.7,74.9 238.9,73.8 240.0,74.9 241.2,76.2 242.4,78.7 243.5,78.9 244.7,79.9 245.9,80.9 247.1,81.7 248.2,82.4 249.4,84.0 250.6,84.3 251.7,85.0 252.9,85.8 254.1,87.6 255.2,87.6 256.4,88.5 257.6,89.2 258.8,89.5 259.9,89.7 261.1,90.4 262.3,90.0 263.4,89.2 264.6,90.2 265.8,91.1 266.9,92.0 268.1,91.7 269.3,90.8 270.4,90.6 271.6,91.4 272.8,91.0 274.0,92.2 275.1,91.9 276.3,91.1 277.5,90.4 278.6,89.1 279.8,89.5 281.0,88.6 282.1,88.8 283.3,88.4 284.5,86.9 285.6,86.7 286.8,86.0 288.0,85.5 289.2,87.0 290.3,87.3 291.5,84.6 292.7,82.3" stroke="#FF0000"/>
</g>
<path d="M94.2,233.3H117.4" stroke="#4472C4" stroke-width="2.45" stroke-linecap="round"/>
<text x="121.2" y="237" font-size="10" fill="#686868">2015年</text>
<path d="M158.1,233.3H181.3" stroke="#ED7D31" stroke-width="2.45" stroke-linecap="round"/>
<text x="185.07" y="237" font-size="10" fill="#686868">2016年</text>
<path d="M221.9,233.3H245.1" stroke="#A5A5A5" stroke-width="2.45" stroke-linecap="round"/>
<text x="248.94" y="237" font-size="10" fill="#686868">2017年</text>
<path d="M285.8,233.3H309.0" stroke="#FFC000" stroke-width="2.45" stroke-linecap="round"/>
<text x="312.81" y="237" font-size="10" fill="#686868">2018年</text>
<path d="M349.7,233.3H372.9" stroke="#5B9BD5" stroke-width="2.45" stroke-linecap="round"/>
<text x="376.68" y="237" font-size="10" fill="#686868">2019年</text>
<path d="M94.2,249.3H117.4" stroke="#70AD47" stroke-width="2.45" stroke-linecap="round"/>
<text x="121.2" y="253" font-size="10" fill="#686868">2020年</text>
<path d="M158.1,249.3H181.3" stroke="#264478" stroke-width="2.45" stroke-linecap="round"/>
<text x="185.07" y="253" font-size="10" fill="#686868">2021年</text>
<path d="M221.9,249.3H245.1" stroke="#9E480E" stroke-width="2.45" stroke-linecap="round"/>
<text x="248.94" y="253" font-size="10" fill="#686868">2022年</text>
<path d="M285.8,249.3H309.0" stroke="#636363" stroke-width="2.45" stroke-linecap="round"/>
<text x="312.81" y="253" font-size="10" fill="#686868">2023年</text>
<path d="M349.7,249.3H372.9" stroke="#FF0000" stroke-width="2.45" stroke-linecap="round"/>
<text x="376.68" y="253" font-size="10" fill="#686868">2024年</text>
</g>
<g transform="translate(580.4,0)">
<rect x="0.1" y="0.5" width="499" height="266" fill="#fff" stroke="#D9D9D9" stroke-width="1"/>
<rect x="150.4" y="121.3" width="52.8" height="33.2" rx="3" fill="#F8DEDE"/><rect x="147.4" y="119.9" width="57" height="36.4" rx="3.5" fill="none" stroke="#FAE9E9" stroke-width="0.8"/>
<g fill="#fff" opacity="0.9" font-size="15" font-weight="bold"><text transform="translate(152.4,135.6) scale(1.45,1)">紫</text><text transform="translate(177,135.6) scale(1.45,1)">天</text><text transform="translate(153.5,151.8) scale(1.45,1)">金</text><text transform="translate(176.5,151.8) scale(1.45,1)">风</text></g>
<text transform="translate(215.5,136.5) scale(1.5,1)" font-size="15.5" font-weight="bold" letter-spacing="0.9" fill="#DEDEDE">紫金天风期货</text>
<rect x="214.5" y="142.4" width="147" height="0.7" fill="#E6E6E6"/>
<text transform="translate(0,154) scale(1.45,1)" x="147.2 160.3 173.4 186.6 203.1 216.2 229.3 242.8" y="0" font-size="6.6" fill="#D6D6D6">立足产业研究驱动</text>
<text x="169.6" y="20.3" font-size="11.64" fill="#4a4a4a">山东沥青现货裂解价差</text>
<rect x="286.7" y="16.3" width="4.8" height="1" fill="#686868"/>
<text x="292.1" y="20.2" font-size="11.5" fill="#686868">对</text>
<text x="303.8" y="20.1" font-size="11.2" fill="#686868">Brent</text>
<path d="M58.0,39.2V160.2" stroke="#E2E2E2" stroke-width="1.6" fill="none"/>
<g font-size="10.5" text-anchor="end" fill="#686868"><text x="51.3" y="43.3">30</text><text x="51.3" y="58.3">20</text><text x="51.3" y="73.3">10</text><text x="51.3" y="88.3">0</text></g>
<g font-size="10.5" text-anchor="end" fill="#FF2020"><text x="51.3" y="103.3">(10)</text><text x="51.3" y="118.3">(20)</text><text x="51.3" y="133.3">(30)</text><text x="51.3" y="148.3">(40)</text><text x="51.3" y="163.3">(50)</text></g>
<path d="M53.2,39.7H58.2M53.2,54.7H58.2M53.2,69.7H58.2M53.2,84.7H58.2M53.2,99.7H58.2M53.2,114.7H58.2M53.2,129.7H58.2M53.2,144.7H58.2M53.2,159.7H58.2M58.2,84.7H486.2M58.2,84.7V88.7M74.6,84.7V88.7M90.9,84.7V88.7M107.3,84.7V88.7M123.7,84.7V88.7M140.1,84.7V88.7M156.4,84.7V88.7M172.8,84.7V88.7M189.2,84.7V88.7M205.5,84.7V88.7M221.9,84.7V88.7M238.3,84.7V88.7M254.7,84.7V88.7M271.0,84.7V88.7M287.4,84.7V88.7M303.8,84.7V88.7M320.1,84.7V88.7M336.5,84.7V88.7M352.9,84.7V88.7M369.3,84.7V88.7M385.6,84.7V88.7M402.0,84.7V88.7M418.4,84.7V88.7M434.7,84.7V88.7M451.1,84.7V88.7M467.5,84.7V88.7M483.9,84.7V88.7" stroke="#D9D9D9" stroke-width="1" fill="none"/>
<text transform="translate(25.6,100.3) rotate(-90)" font-size="11" text-anchor="middle" fill="#686868">$/bbl</text>
<g font-size="10.3" text-anchor="end" fill="#686868">
<text transform="translate(61.18,166.6) rotate(-90)">1月1日</text>
<text transform="translate(74.05,166.6) rotate(-90)">1月12日</text>
<text transform="translate(86.91,166.6) rotate(-90)">1月23日</text>
<text transform="translate(99.77,166.6) rotate(-90)">2月3日</text>
<text transform="translate(112.64,166.6) rotate(-90)">2月14日</text>
<text transform="translate(125.50,166.6) rotate(-90)">2月25日</text>
<text transform="translate(138.37,166.6) rotate(-90)">3月7日</text>
<text transform="translate(151.23,166.6) rotate(-90)">3月18日</text>
<text transform="translate(164.09,166.6) rotate(-90)">3月29日</text>
<text transform="translate(176.96,166.6) rotate(-90)">4月9日</text>
<text transform="translate(189.82,166.6) rotate(-90)">4月20日</text>
<text transform="translate(202.68,166.6) rotate(-90)">5月1日</text>
<text transform="translate(215.55,166.6) rotate(-90)">5月12日</text>
<text transform="translate(228.41,166.6) rotate(-90)">5月23日</text>
<text transform="translate(241.27,166.6) rotate(-90)">6月3日</text>
<text transform="translate(254.14,166.6) rotate(-90)">6月14日</text>
<text transform="translate(267.00,166.6) rotate(-90)">6月25日</text>
<text transform="translate(279.86,166.6) rotate(-90)">7月6日</text>
<text transform="translate(292.73,166.6) rotate(-90)">7月17日</text>
<text transform="translate(305.59,166.6) rotate(-90)">7月28日</text>
<text transform="translate(318.45,166.6) rotate(-90)">8月8日</text>
<text transform="translate(331.32,166.6) rotate(-90)">8月19日</text>
<text transform="translate(344.18,166.6) rotate(-90)">8月30日</text>
<text transform="translate(357.04,166.6) rotate(-90)">9月10日</text>
<text transform="translate(369.91,166.6) rotate(-90)">9月21日</text>
<text transform="translate(382.77,166.6) rotate(-90)">10月2日</text>
<text transform="translate(395.63,166.6) rotate(-90)">10月13日</text>
<text transform="translate(408.50,166.6) rotate(-90)">10月24日</text>
<text transform="translate(421.36,166.6) rotate(-90)">11月4日</text>
<text transform="translate(434.22,166.6) rotate(-90)">11月15日</text>
<text transform="translate(447.09,166.6) rotate(-90)">11月26日</text>
<text transform="translate(459.95,166.6) rotate(-90)">12月7日</text>
<text transform="translate(472.81,166.6) rotate(-90)">12月18日</text>
<text transform="translate(485.68,166.6) rotate(-90)">12月29日</text>
</g>
<g fill="none" stroke-width="2.45" stroke-linejoin="round" stroke-linecap="round">
<path d="M62.3,63.0 63.5,62.2 64.6,60.7 65.8,59.8 67.0,60.3 68.1,58.4 69.3,56.4 70.5,55.2 71.6,53.7 72.8,52.8 74.0,55.0 75.2,56.9 76.3,57.4 77.5,58.4 78.7,57.0 79.8,59.0 81.0,63.3 82.2,65.4 83.3,66.0 84.5,66.5 85.7,66.3 86.9,66.3 88.0,65.5 89.2,65.5 90.4,67.1 91.5,69.4 92.7,73.0 93.9,75.3 95.0,78.1 96.2,78.5 97.4,78.3 98.5,78.5 99.7,81.1 100.9,83.8 102.1,83.6 103.2,84.5 104.4,84.6 105.6,85.6 106.7,85.8 107.9,86.3 109.1,86.8 110.2,87.2 111.4,86.7 112.6,87.4 113.7,86.7 114.9,87.5 116.1,86.8 117.3,87.3 118.4,87.3 119.6,86.7 120.8,86.2 121.9,86.5 123.1,86.3 124.3,85.9 125.4,85.0 126.6,84.7 127.8,83.6 128.9,83.7 130.1,83.0 131.3,82.9 132.5,81.7 133.6,81.4 134.8,80.2 136.0,79.6 137.1,79.4 138.3,78.3 139.5,77.1 140.6,75.6 141.8,74.1 143.0,72.9 144.2,72.5 145.3,72.1 146.5,71.3 147.7,71.5 148.8,73.1 150.0,73.1 151.2,73.3 152.3,73.6 153.5,73.3 154.7,72.7 155.8,73.9 157.0,73.8 158.2,74.5 159.4,74.7 160.5,74.5 161.7,75.2 162.9,74.8 164.0,74.0 165.2,73.9 166.4,74.6 167.5,75.2 168.7,75.5 169.9,76.2 171.0,75.6 172.2,75.0 173.4,75.3 174.6,76.1 175.7,76.7 176.9,77.3 178.1,77.3 179.2,78.4 180.4,77.9 181.6,80.8 182.7,83.7 183.9,84.5 185.1,84.2 186.2,85.1 187.4,84.6 188.6,84.3 189.8,85.4 190.9,85.4 192.1,86.7 193.3,86.5 194.4,87.1 195.6,87.8 196.8,88.9 197.9,89.5 199.1,89.2 200.3,90.2 201.5,90.1 202.6,90.0 203.8,90.2 205.0,89.6 206.1,90.0 207.3,89.4 208.5,89.1 209.6,89.4 210.8,89.1 212.0,88.4 213.1,89.2 214.3,88.8 215.5,88.3 216.7,88.4 217.8,88.2 219.0,87.1 220.2,86.8 221.3,87.0 222.5,86.6 223.7,86.6 224.8,85.8 226.0,85.5 227.2,85.4 228.3,85.7 229.5,84.3 230.7,85.0 231.9,84.2 233.0,83.6 234.2,82.9 235.4,82.9 236.5,82.4 237.7,81.6 238.9,81.5 240.0,81.7 241.2,81.6 242.4,81.1 243.5,80.5 244.7,81.0 245.9,80.3 247.1,81.3 248.2,81.5 249.4,81.1 250.6,81.6 251.7,82.0 252.9,82.7 254.1,82.8 255.2,82.4 256.4,83.0 257.6,82.5 258.8,82.7 259.9,82.1 261.1,82.0 262.3,81.8 263.4,81.3 264.6,81.7 265.8,81.3 266.9,80.7 268.1,80.6 269.3,80.4 270.4,80.5 271.6,79.2 272.8,78.7 274.0,79.2 275.1,78.8 276.3,78.2 277.5,77.5 278.6,77.6 279.8,77.1 281.0,75.8 282.1,76.6 283.3,77.1 284.5,76.9 285.6,77.9 286.8,77.1 288.0,75.4 289.2,74.5 290.3,74.4 291.5,74.4 292.7,74.0 293.8,74.1 295.0,73.4 296.2,72.9 297.3,72.2 298.5,72.2 299.7,71.5 300.9,71.0 302.0,71.0 303.2,70.5 304.4,70.0 305.5,69.3 306.7,68.1 307.9,67.6 309.0,66.6 310.2,66.7 311.4,67.8 312.5,68.0 313.7,68.8 314.9,68.9 316.1,68.9 317.2,69.6 318.4,69.5 319.6,69.2 320.7,69.3 321.9,69.6 323.1,69.8 324.2,68.7 325.4,68.5 326.6,69.0 327.7,68.2 328.9,67.1 330.1,66.9 331.3,65.6 332.4,64.2 333.6,64.2 334.8,62.8 335.9,63.2 337.1,64.4 338.3,68.7 339.4,73.7 340.6,76.1 341.8,78.8 342.9,79.2 344.1,77.6 345.3,75.5 346.5,74.4 347.6,74.0 348.8,73.8 350.0,73.0 351.1,72.8 352.3,71.7 353.5,71.3 354.6,70.9 355.8,70.2 357.0,70.0 358.2,70.4 359.3,70.0 360.5,70.9 361.7,72.0 362.8,72.2 364.0,72.8 365.2,73.1 366.3,73.1 367.5,73.4 368.7,73.2 369.8,72.5 371.0,72.0 372.2,72.2 373.4,72.0 374.5,72.0 375.7,71.9 376.9,72.0 378.0,72.9 379.2,73.4 380.4,73.6 381.5,74.7 382.7,74.0 383.9,74.8 385.0,74.5 386.2,75.3 387.4,75.4 388.6,76.5 389.7,76.1 390.9,76.1 392.1,76.1 393.2,75.2 394.4,75.5 395.6,75.8 396.7,76.2 397.9,76.3 399.1,75.4 400.2,74.7 401.4,74.6 402.6,73.6 403.8,73.9 404.9,73.5 406.1,74.0 407.3,74.4 408.4,74.9 409.6,76.7 410.8,77.9 411.9,77.7 413.1,77.4 414.3,78.6 415.5,78.1 416.6,78.1 417.8,77.0 419.0,77.3 420.1,77.1 421.3,76.4 422.5,76.3 423.6,76.7 424.8,75.3 426.0,74.7 427.1,73.2 428.3,72.7 429.5,73.5 430.7,74.2 431.8,76.2 433.0,77.0 434.2,78.0 435.3,78.8 436.5,79.5 437.7,80.2 438.8,81.2 440.0,81.8 441.2,81.9 442.3,81.9 443.5,82.9 444.7,82.6 445.9,82.9 447.0,81.8 448.2,81.8 449.4,81.8 450.5,81.1 451.7,80.7 452.9,80.4 454.0,79.7 455.2,79.7 456.4,79.2 457.5,78.0 458.7,77.8 459.9,77.4 461.1,77.6 462.2,78.1 463.4,77.5 464.6,77.2 465.7,77.2 466.9,77.3 468.1,77.6 469.2,77.3 470.4,77.2 471.6,77.8 472.8,77.7 473.9,78.8 475.1,79.6 476.3,79.9 477.4,80.2 478.6,80.0 479.8,80.0 480.9,79.4 482.1,78.1 483.3,78.9 484.4,79.5 485.6,79.6" stroke="#4472C4"/>
<path d="M62.3,80.1 63.5,79.9 64.6,78.4 65.8,77.9 67.0,77.9 68.1,77.4 69.3,76.7 70.5,76.7 71.6,76.1 72.8,75.8 74.0,74.7 75.2,73.5 76.3,73.9 77.5,73.8 78.7,74.1 79.8,74.0 81.0,75.2 82.2,77.0 83.3,79.1 84.5,80.2 85.7,81.1 86.9,81.2 88.0,82.0 89.2,82.1 90.4,81.8 91.5,83.0 92.7,83.1 93.9,84.3 95.0,84.3 96.2,84.7 97.4,85.1 98.5,85.3 99.7,85.3 100.9,85.0 102.1,84.9 103.2,85.6 104.4,85.6 105.6,86.1 106.7,86.3 107.9,85.9 109.1,86.4 110.2,87.0 111.4,87.0 112.6,87.8 113.7,86.7 114.9,87.2 116.1,87.6 117.3,87.7 118.4,87.4 119.6,87.4 120.8,88.0 121.9,88.0 123.1,88.7 124.3,88.7 125.4,89.1 126.6,90.2 127.8,91.1 128.9,91.6 130.1,92.5 131.3,93.2 132.5,93.8 133.6,93.8 134.8,94.8 136.0,95.8 137.1,94.6 138.3,94.1 139.5,93.5 140.6,91.9 141.8,92.7 143.0,92.4 144.2,91.9 145.3,92.7 146.5,94.2 147.7,95.3 148.8,95.7 150.0,94.9 151.2,95.2 152.3,94.5 153.5,94.7 154.7,94.4 155.8,93.1 157.0,93.6 158.2,93.0 159.4,93.4 160.5,94.1 161.7,93.8 162.9,93.2 164.0,92.4 165.2,92.8 166.4,91.8 167.5,91.6 168.7,91.3 169.9,91.7 171.0,92.5 172.2,92.6 173.4,94.4 174.6,95.1 175.7,96.3 176.9,97.6 178.1,97.7 179.2,99.1 180.4,99.3 181.6,98.3 182.7,97.4 183.9,96.0 185.1,96.1 186.2,96.3 187.4,98.4 188.6,98.6 189.8,98.8 190.9,99.0 192.1,99.0 193.3,99.7 194.4,101.1 195.6,102.6 196.8,103.4 197.9,103.2 199.1,102.3 200.3,100.8 201.5,100.3 202.6,101.8 203.8,102.1 205.0,102.4 206.1,103.5 207.3,104.2 208.5,105.1 209.6,105.5 210.8,106.8 212.0,106.5 213.1,108.2 214.3,108.7 215.5,108.4 216.7,107.9 217.8,107.9 219.0,108.4 220.2,108.2 221.3,107.9 222.5,107.5 223.7,107.8 224.8,108.4 226.0,108.2 227.2,108.7 228.3,108.6 229.5,109.0 230.7,109.1 231.9,109.2 233.0,108.1 234.2,108.1 235.4,107.9 236.5,107.6 237.7,107.8 238.9,107.5 240.0,107.8 241.2,108.0 242.4,108.8 243.5,108.3 244.7,108.6 245.9,108.3 247.1,107.9 248.2,107.2 249.4,106.0 250.6,104.9 251.7,103.3 252.9,102.9 254.1,104.2 255.2,105.0 256.4,106.6 257.6,107.3 258.8,107.8 259.9,108.1 261.1,107.4 262.3,107.4 263.4,107.0 264.6,107.0 265.8,105.8 266.9,106.0 268.1,105.9 269.3,105.0 270.4,105.0 271.6,104.5 272.8,103.1 274.0,102.6 275.1,102.2 276.3,101.3 277.5,101.0 278.6,100.3 279.8,101.3 281.0,101.7 282.1,101.5 283.3,101.5 284.5,101.7 285.6,101.0 286.8,101.4 288.0,100.4 289.2,100.9 290.3,101.0 291.5,101.0 292.7,101.6 293.8,102.1 295.0,101.9 296.2,100.3 297.3,98.9 298.5,98.3 299.7,97.3 300.9,95.9 302.0,94.4 303.2,94.6 304.4,94.7 305.5,94.3 306.7,94.7 307.9,95.5 309.0,96.5 310.2,96.3 311.4,98.1 312.5,98.6 313.7,98.8 314.9,99.6 316.1,100.4 317.2,101.1 318.4,101.4 319.6,101.6 320.7,102.7 321.9,103.2 323.1,104.0 324.2,104.9 325.4,106.1 326.6,106.6 327.7,107.6 328.9,109.2 330.1,109.1 331.3,108.6 332.4,107.6 333.6,106.8 334.8,107.7 335.9,108.3 337.1,108.6 338.3,107.9 339.4,106.8 340.6,106.3 341.8,105.1 342.9,104.6 344.1,104.9 345.3,104.8 346.5,104.4 347.6,104.7 348.8,104.7 350.0,104.8 351.1,105.8 352.3,106.4 353.5,107.5 354.6,106.4 355.8,105.8 357.0,106.0 358.2,105.7 359.3,104.7 360.5,104.4 361.7,104.3 362.8,103.9 364.0,104.4 365.2,103.7 366.3,105.1 367.5,105.3 368.7,105.1 369.8,105.7 371.0,106.3 372.2,105.9 373.4,106.9 374.5,107.4 375.7,107.4 376.9,108.1 378.0,107.8 379.2,107.9 380.4,108.7 381.5,110.3 382.7,110.4 383.9,111.1 385.0,111.4 386.2,112.2 387.4,112.5 388.6,113.2 389.7,113.1 390.9,113.2 392.1,112.8 393.2,113.5 394.4,113.0 395.6,112.1 396.7,112.2 397.9,112.2 399.1,112.7 400.2,112.8 401.4,113.2 402.6,113.1 403.8,112.3 404.9,112.8 406.1,112.0 407.3,112.3 408.4,111.3 409.6,110.2 410.8,108.5 411.9,107.6 413.1,105.8 414.3,105.3 415.5,104.9 416.6,105.5 417.8,106.1 419.0,106.2 420.1,105.5 421.3,105.8 422.5,105.4 423.6,105.4 424.8,105.3 426.0,104.9 427.1,104.2 428.3,104.4 429.5,104.3 430.7,104.3 431.8,105.4 433.0,105.4 434.2,105.8 435.3,106.8 436.5,106.9 437.7,108.3 438.8,108.8 440.0,108.6 441.2,109.8 442.3,108.8 443.5,109.1 444.7,109.3 445.9,108.5 447.0,109.7 448.2,111.9 449.4,114.2 450.5,117.2 451.7,117.1 452.9,117.8 454.0,118.3 455.2,118.1 456.4,117.6 457.5,115.6 458.7,114.1 459.9,114.3 461.1,114.9 462.2,114.6 463.4,114.4 464.6,113.6 465.7,112.1 466.9,110.3 468.1,109.4 469.2,108.9 470.4,108.3 471.6,108.0 472.8,107.2 473.9,106.5 475.1,106.5 476.3,106.8 477.4,106.3 478.6,105.4 479.8,105.2 480.9,105.1 482.1,104.4" stroke="#ED7D31"/>
<path d="M61.1,100.2 62.3,100.3 63.5,100.4 64.6,100.6 65.8,101.5 67.0,101.9 68.1,101.3 69.3,101.8 70.5,100.9 71.6,101.4 72.8,101.4 74.0,102.1 75.2,102.6 76.3,103.2 77.5,102.7 78.7,102.8 79.8,102.0 81.0,101.5 82.2,101.7 83.3,101.7 84.5,101.3 85.7,100.1 86.9,99.9 88.0,99.4 89.2,99.2 90.4,99.2 91.5,98.0 92.7,97.3 93.9,97.8 95.0,97.3 96.2,96.7 97.4,95.4 98.5,95.2 99.7,94.9 100.9,95.4 102.1,94.3 103.2,94.1 104.4,94.0 105.6,94.4 106.7,93.5 107.9,94.2 109.1,93.2 110.2,93.4 111.4,92.7 112.6,92.6 113.7,93.1 114.9,93.0 116.1,92.2 117.3,92.3 118.4,92.0 119.6,92.1 120.8,92.3 121.9,92.5 123.1,92.5 124.3,92.2 125.4,91.7 126.6,91.8 127.8,91.3 128.9,91.0 130.1,91.5 131.3,90.8 132.5,90.0 133.6,90.8 134.8,90.6 136.0,89.6 137.1,89.9 138.3,88.6 139.5,89.1 140.6,88.0 141.8,88.4 143.0,87.6 144.2,87.3 145.3,86.0 146.5,85.8 147.7,85.5 148.8,84.1 150.0,83.5 151.2,83.4 152.3,82.3 153.5,81.6 154.7,81.6 155.8,82.1 157.0,82.6 158.2,82.6 159.4,82.9 160.5,82.9 161.7,83.7 162.9,85.0 164.0,85.3 165.2,85.8 166.4,86.4 167.5,87.6 168.7,88.6 169.9,88.6 171.0,88.7 172.2,89.5 173.4,90.5 174.6,91.1 175.7,90.8 176.9,91.5 178.1,90.9 179.2,90.9 180.4,90.5 181.6,89.7 182.7,89.7 183.9,88.9 185.1,89.1 186.2,88.7 187.4,88.7 188.6,88.0 189.8,88.3 190.9,88.3 192.1,87.7 193.3,87.8 194.4,86.9 195.6,87.1 196.8,87.4 197.9,86.8 199.1,86.6 200.3,87.2 201.5,87.1 202.6,87.1 203.8,87.1 205.0,87.8 206.1,87.6 207.3,87.6 208.5,87.6 209.6,87.5 210.8,87.7 212.0,88.3 213.1,88.4 214.3,88.8 215.5,88.6 216.7,88.7 217.8,89.0 219.0,88.8 220.2,89.8 221.3,89.6 222.5,89.3 223.7,89.6 224.8,90.1 226.0,90.4 227.2,90.2 228.3,90.5 229.5,90.5 230.7,89.4 231.9,88.9 233.0,88.3 234.2,87.3 235.4,87.3 236.5,86.7 237.7,86.4 238.9,85.6 240.0,86.3 241.2,86.0 242.4,85.8 243.5,85.5 244.7,86.3 245.9,86.2 247.1,86.4 248.2,86.1 249.4,86.3 250.6,86.5 251.7,87.5 252.9,87.1 254.1,87.5 255.2,87.6 256.4,87.9 257.6,87.4 258.8,87.4 259.9,88.3 261.1,87.5 262.3,88.6 263.4,88.0 264.6,87.7 265.8,88.1 266.9,88.7 268.1,88.4 269.3,88.2 270.4,88.2 271.6,88.1 272.8,88.5 274.0,88.1 275.1,88.2 276.3,87.4 277.5,87.4 278.6,87.5 279.8,87.1 281.0,87.2 282.1,86.4 283.3,86.7 284.5,86.3 285.6,85.7 286.8,85.7 288.0,85.1 289.2,85.4 290.3,84.7 291.5,83.8 292.7,84.0 293.8,83.3 295.0,83.2 296.2,83.3 297.3,83.7 298.5,83.5 299.7,83.9 300.9,85.8 302.0,87.5 303.2,87.3 304.4,87.5 305.5,87.4 306.7,87.1 307.9,86.6 309.0,86.8 310.2,86.0 311.4,86.0 312.5,86.1 313.7,85.5 314.9,85.4 316.1,85.8 317.2,85.3 318.4,85.1 319.6,84.3 320.7,84.6 321.9,83.8 323.1,83.8 324.2,84.3 325.4,84.5 326.6,84.1 327.7,85.2 328.9,85.2 330.1,85.0 331.3,85.3 332.4,85.9 333.6,86.6 334.8,86.2 335.9,85.3 337.1,86.1 338.3,84.8 339.4,85.4 340.6,85.2 341.8,85.6 342.9,85.8 344.1,85.8 345.3,85.6 346.5,86.0 347.6,85.9 348.8,86.2 350.0,86.1 351.1,86.7 352.3,87.6 353.5,87.9 354.6,88.2 355.8,89.6 357.0,90.7 358.2,91.8 359.3,92.6 360.5,93.2 361.7,92.8 362.8,93.6 364.0,93.9 365.2,93.7 366.3,95.0 367.5,96.1 368.7,97.9 369.8,99.3 371.0,100.3 372.2,100.0 373.4,99.4 374.5,99.3 375.7,99.1 376.9,98.5 378.0,98.4 379.2,98.0 380.4,98.2 381.5,98.3 382.7,98.9 383.9,98.1 385.0,98.4 386.2,98.1 387.4,98.1 388.6,98.7 389.7,98.9 390.9,98.9 392.1,99.5 393.2,99.0 394.4,99.3 395.6,99.7 396.7,99.2 397.9,100.1 399.1,99.6 400.2,100.7 401.4,100.8 402.6,101.1 403.8,101.7 404.9,101.2 406.1,101.7 407.3,102.5 408.4,102.5 409.6,103.7 410.8,103.1 411.9,103.4 413.1,104.2 414.3,103.7 415.5,104.6 416.6,104.2 417.8,104.5 419.0,104.9 420.1,104.2 421.3,104.5 422.5,104.7 423.6,105.0 424.8,104.5 426.0,104.5 427.1,104.2 428.3,104.5 429.5,104.2 430.7,104.4 431.8,103.6 433.0,104.3 434.2,104.8 435.3,104.1 436.5,104.2 437.7,104.9 438.8,104.3 440.0,104.8 441.2,104.7 442.3,104.4 443.5,104.4 444.7,104.9 445.9,104.6 447.0,104.1 448.2,104.3 449.4,104.7 450.5,103.7 451.7,104.2 452.9,103.5 454.0,103.5 455.2,103.2 456.4,103.7 457.5,103.6 458.7,103.6 459.9,103.6 461.1,103.7 462.2,103.4 463.4,103.6 464.6,103.6 465.7,104.6 466.9,104.1 468.1,105.6 469.2,105.6 470.4,106.7 471.6,106.9 472.8,108.0 473.9,108.4 475.1,109.0 476.3,108.8 477.4,109.8 478.6,109.3 479.8,110.2 480.9,110.2 482.1,110.2 483.3,110.8" stroke="#A5A5A5"/>
<path d="M58.8,111.9 60.0,113.4 61.1,114.3 62.3,114.9 63.5,115.1 64.6,114.4 65.8,114.2 67.0,114.6 68.1,115.5 69.3,116.3 70.5,116.6 71.6,116.3 72.8,117.2 74.0,116.3 75.2,116.6 76.3,116.1 77.5,114.4 78.7,113.3 79.8,113.0 81.0,113.1 82.2,114.0 83.3,113.8 84.5,113.9 85.7,114.5 86.9,113.7 88.0,113.2 89.2,112.5 90.4,113.0 91.5,111.7 92.7,110.2 93.9,108.3 95.0,107.4 96.2,105.4 97.4,104.8 98.5,103.4 99.7,101.2 100.9,99.8 102.1,99.1 103.2,98.4 104.4,98.4 105.6,96.9 106.7,97.4 107.9,97.0 109.1,98.2 110.2,97.8 111.4,98.9 112.6,98.3 113.7,98.6 114.9,98.9 116.1,99.1 117.3,99.8 118.4,99.7 119.6,99.4 120.8,99.5 121.9,99.8 123.1,100.1 124.3,99.7 125.4,98.4 126.6,97.6 127.8,96.5 128.9,96.3 130.1,97.1 131.3,97.8 132.5,98.7 133.6,98.5 134.8,98.4 136.0,98.1 137.1,97.7 138.3,98.1 139.5,97.3 140.6,97.5 141.8,96.6 143.0,95.7 144.2,97.0 145.3,97.2 146.5,97.3 147.7,98.9 148.8,99.7 150.0,100.6 151.2,101.0 152.3,101.9 153.5,103.1 154.7,104.0 155.8,104.5 157.0,104.8 158.2,104.8 159.4,104.3 160.5,104.8 161.7,104.5 162.9,103.9 164.0,102.6 165.2,101.2 166.4,100.8 167.5,100.8 168.7,100.7 169.9,100.2 171.0,100.1 172.2,101.8 173.4,102.3 174.6,102.8 175.7,104.4 176.9,105.1 178.1,105.6 179.2,104.4 180.4,103.9 181.6,104.3 182.7,104.2 183.9,105.6 185.1,106.1 186.2,107.1 187.4,107.1 188.6,108.1 189.8,107.6 190.9,108.3 192.1,107.3 193.3,107.1 194.4,106.5 195.6,106.9 196.8,106.8 197.9,106.1 199.1,105.8 200.3,105.1 201.5,105.5 202.6,104.3 203.8,104.2 205.0,105.2 206.1,106.1 207.3,106.0 208.5,106.7 209.6,106.4 210.8,106.7 212.0,107.1 213.1,107.0 214.3,107.0 215.5,106.3 216.7,106.5 217.8,106.0 219.0,106.0 220.2,105.4 221.3,104.8 222.5,104.7 223.7,104.3 224.8,102.6 226.0,101.4 227.2,100.4 228.3,99.3 229.5,97.4 230.7,96.3 231.9,95.3 233.0,97.4 234.2,98.0 235.4,99.2 236.5,97.9 237.7,97.5 238.9,97.3 240.0,96.6 241.2,96.9 242.4,96.2 243.5,97.2 244.7,97.3 245.9,97.0 247.1,97.1 248.2,97.9 249.4,97.3 250.6,97.4 251.7,98.0 252.9,98.0 254.1,98.1 255.2,98.2 256.4,98.7 257.6,99.1 258.8,99.2 259.9,100.2 261.1,99.7 262.3,99.9 263.4,100.2 264.6,100.0 265.8,101.9 266.9,103.9 268.1,105.6 269.3,106.4 270.4,107.0 271.6,107.7 272.8,107.9 274.0,107.0 275.1,106.3 276.3,106.1 277.5,104.5 278.6,104.6 279.8,102.6 281.0,101.4 282.1,100.5 283.3,100.0 284.5,98.0 285.6,96.6 286.8,97.0 288.0,96.4 289.2,95.9 290.3,97.4 291.5,97.6 292.7,98.3 293.8,98.3 295.0,99.3 296.2,99.1 297.3,99.7 298.5,100.5 299.7,101.2 300.9,101.4 302.0,100.8 303.2,101.7 304.4,101.6 305.5,100.3 306.7,99.9 307.9,99.7 309.0,100.1 310.2,98.9 311.4,98.9 312.5,98.6 313.7,98.5 314.9,98.6 316.1,99.0 317.2,99.4 318.4,98.2 319.6,97.4 320.7,97.3 321.9,97.2 323.1,96.6 324.2,96.0 325.4,97.0 326.6,97.5 327.7,97.7 328.9,97.1 330.1,96.7 331.3,96.8 332.4,97.0 333.6,96.7 334.8,96.8 335.9,98.2 337.1,98.8 338.3,99.1 339.4,99.5 340.6,99.2 341.8,99.1 342.9,98.5 344.1,98.7 345.3,98.5 346.5,98.6 347.6,97.2 348.8,96.9 350.0,97.0 351.1,95.8 352.3,95.0 353.5,94.7 354.6,94.1 355.8,93.8 357.0,93.0 358.2,92.3 359.3,91.9 360.5,92.8 361.7,92.7 362.8,92.0 364.0,92.7 365.2,92.6 366.3,93.4 367.5,94.2 368.7,95.4 369.8,96.4 371.0,98.1 372.2,98.6 373.4,99.6 374.5,99.3 375.7,99.3 376.9,99.6 378.0,100.0 379.2,99.4 380.4,99.2 381.5,99.2 382.7,98.9 383.9,98.7 385.0,98.0 386.2,97.7 387.4,97.7 388.6,95.0 389.7,93.2 390.9,92.4 392.1,93.3 393.2,93.4 394.4,94.3 395.6,93.4 396.7,92.9 397.9,92.3 399.1,91.9 400.2,91.4 401.4,91.3 402.6,90.7 403.8,88.7 404.9,87.9 406.1,87.6 407.3,89.2 408.4,89.6 409.6,89.9 410.8,90.7 411.9,90.5 413.1,89.1 414.3,87.9 415.5,87.1 416.6,86.4 417.8,85.6 419.0,85.8 420.1,85.6 421.3,85.2 422.5,83.7 423.6,82.6 424.8,80.5 426.0,79.8 427.1,79.5 428.3,75.8 429.5,74.4 430.7,75.3 431.8,77.1 433.0,77.3 434.2,78.9 435.3,78.3 436.5,75.5 437.7,73.8 438.8,72.6 440.0,70.4 441.2,70.4 442.3,72.4 443.5,74.1 444.7,74.1 445.9,73.2 447.0,74.9 448.2,76.6 449.4,77.7 450.5,79.3 451.7,80.5 452.9,79.7 454.0,80.2 455.2,81.2 456.4,82.3 457.5,84.0 458.7,84.3 459.9,85.6 461.1,85.8 462.2,86.5 463.4,87.2 464.6,87.7 465.7,86.6 466.9,85.8 468.1,85.5 469.2,84.7 470.4,82.6 471.6,80.0 472.8,78.2 473.9,76.0 475.1,74.0 476.3,73.9 477.4,73.9 478.6,77.6 479.8,80.0 480.9,79.2 482.1,78.1" stroke="#FFC000"/>
<path d="M58.8,84.2 60.0,84.5 61.1,86.2 62.3,86.9 63.5,87.7 64.6,88.0 65.8,88.9 67.0,88.1 68.1,88.7 69.3,87.4 70.5,87.1 71.6,87.5 72.8,88.2 74.0,88.7 75.2,89.2 76.3,89.1 77.5,89.7 78.7,90.1 79.8,90.3 81.0,90.4 82.2,90.7 83.3,90.3 84.5,89.7 85.7,89.6 86.9,89.1 88.0,87.7 89.2,87.6 90.4,87.2 91.5,86.0 92.7,87.2 93.9,87.0 95.0,87.1 96.2,87.2 97.4,88.0 98.5,87.8 99.7,87.9 100.9,88.6 102.1,88.0 103.2,88.5 104.4,89.2 105.6,89.3 106.7,89.4 107.9,89.7 109.1,89.1 110.2,89.5 111.4,89.2 112.6,89.6 113.7,89.4 114.9,88.6 116.1,88.8 117.3,88.0 118.4,87.8 119.6,87.8 120.8,87.7 121.9,87.4 123.1,86.6 124.3,86.4 125.4,87.2 126.6,86.6 127.8,86.2 128.9,85.7 130.1,85.4 131.3,84.6 132.5,83.9 133.6,83.3 134.8,83.3 136.0,83.0 137.1,82.5 138.3,82.7 139.5,81.8 140.6,82.3 141.8,82.3 143.0,81.9 144.2,81.4 145.3,81.4 146.5,81.1 147.7,81.1 148.8,80.6 150.0,79.5 151.2,79.3 152.3,79.4 153.5,78.9 154.7,79.8 155.8,79.7 157.0,79.4 158.2,79.3 159.4,79.6 160.5,78.4 161.7,78.5 162.9,78.9 164.0,78.3 165.2,79.1 166.4,78.9 167.5,79.7 168.7,80.1 169.9,80.3 171.0,80.1 172.2,81.1 173.4,80.7 174.6,81.4 175.7,81.4 176.9,81.6 178.1,81.5 179.2,82.1 180.4,82.6 181.6,82.8 182.7,83.2 183.9,82.9 185.1,83.4 186.2,84.7 187.4,85.2 188.6,86.4 189.8,86.3 190.9,86.2 192.1,84.6 193.3,85.0 194.4,83.8 195.6,84.0 196.8,83.4 197.9,83.1 199.1,82.7 200.3,83.1 201.5,83.2 202.6,82.6 203.8,83.0 205.0,82.5 206.1,82.0 207.3,81.2 208.5,80.8 209.6,80.6 210.8,81.2 212.0,82.1 213.1,81.8 214.3,83.2 215.5,83.7 216.7,84.5 217.8,84.6 219.0,84.8 220.2,83.7 221.3,83.6 222.5,82.5 223.7,81.7 224.8,80.1 226.0,80.2 227.2,81.4 228.3,82.1 229.5,82.8 230.7,81.3 231.9,80.0 233.0,77.6 234.2,75.4 235.4,72.6 236.5,71.7 237.7,70.5 238.9,71.0 240.0,70.7 241.2,72.2 242.4,74.5 243.5,74.1 244.7,74.1 245.9,74.4 247.1,74.3 248.2,73.8 249.4,73.9 250.6,74.6 251.7,74.6 252.9,76.1 254.1,77.1 255.2,78.0 256.4,78.4 257.6,79.4 258.8,79.9 259.9,79.7 261.1,80.7 262.3,79.9 263.4,80.6 264.6,80.1 265.8,80.4 266.9,80.0 268.1,79.9 269.3,79.5 270.4,78.5 271.6,78.0 272.8,77.8 274.0,76.5 275.1,75.5 276.3,75.0 277.5,75.1 278.6,76.3 279.8,77.5 281.0,77.9 282.1,77.2 283.3,77.0 284.5,75.9 285.6,75.5 286.8,74.2 288.0,74.3 289.2,73.2 290.3,72.4 291.5,72.0 292.7,72.5 293.8,73.1 295.0,73.7 296.2,74.2 297.3,74.9 298.5,74.4 299.7,73.5 300.9,74.4 302.0,73.8 303.2,74.2 304.4,75.0 305.5,75.3 306.7,72.9 307.9,71.0 309.0,69.8 310.2,68.4 311.4,67.7 312.5,66.2 313.7,65.2 314.9,65.9 316.1,66.8 317.2,68.3 318.4,70.2 319.6,70.9 320.7,72.7 321.9,72.6 323.1,71.3 324.2,70.2 325.4,69.0 326.6,68.8 327.7,69.5 328.9,70.2 330.1,69.9 331.3,69.8 332.4,69.8 333.6,68.9 334.8,68.5 335.9,70.4 337.1,71.5 338.3,73.4 339.4,72.2 340.6,72.0 341.8,71.9 342.9,71.1 344.1,70.6 345.3,71.2 346.5,70.3 347.6,71.2 348.8,73.1 350.0,74.2 351.1,75.6 352.3,77.0 353.5,77.6 354.6,76.4 355.8,74.5 357.0,76.9 358.2,78.7 359.3,81.1 360.5,84.6 361.7,85.6 362.8,81.8 364.0,81.2 365.2,81.3 366.3,81.4 367.5,81.3 368.7,80.3 369.8,80.2 371.0,78.1 372.2,78.0 373.4,77.6 374.5,76.9 375.7,76.8 376.9,76.2 378.0,75.6 379.2,75.5 380.4,74.9 381.5,74.8 382.7,73.9 383.9,73.4 385.0,73.5 386.2,72.9 387.4,72.2 388.6,73.4 389.7,74.4 390.9,74.8 392.1,75.2 393.2,75.9 394.4,76.1 395.6,75.7 396.7,76.5 397.9,76.3 399.1,75.7 400.2,78.0 401.4,79.5 402.6,80.4 403.8,82.3 404.9,82.2 406.1,83.6 407.3,83.9 408.4,84.1 409.6,83.7 410.8,83.4 411.9,82.0 413.1,82.2 414.3,83.6 415.5,84.5 416.6,84.7 417.8,84.7 419.0,84.2 420.1,83.7 421.3,83.8 422.5,83.4 423.6,83.9 424.8,84.5 426.0,85.4 427.1,85.9 428.3,86.2 429.5,86.4 430.7,88.0 431.8,89.0 433.0,90.7 434.2,89.8 435.3,89.6 436.5,89.1 437.7,89.3 438.8,89.9 440.0,90.2 441.2,91.3 442.3,91.4 443.5,91.8 444.7,91.7 445.9,91.0 447.0,91.0 448.2,90.1 449.4,89.4 450.5,89.4 451.7,90.1 452.9,90.6 454.0,91.4 455.2,92.4 456.4,92.8 457.5,92.3 458.7,93.1 459.9,93.2 461.1,93.3 462.2,92.6 463.4,92.9 464.6,92.7 465.7,93.5 466.9,93.4 468.1,94.5 469.2,94.0 470.4,94.7 471.6,94.3 472.8,95.2 473.9,95.4 475.1,95.8 476.3,95.9 477.4,96.6 478.6,96.5 479.8,97.2 480.9,97.2 482.1,96.1 483.3,94.5 484.4,94.2" stroke="#5B9BD5"/>
<path d="M58.8,93.1 60.0,93.0 61.1,91.9 62.3,91.0 63.5,90.6 64.6,89.1 65.8,89.7 67.0,89.0 68.1,88.3 69.3,88.8 70.5,88.0 71.6,88.6 72.8,88.3 74.0,88.0 75.2,89.0 76.3,88.5 77.5,89.2 78.7,88.2 79.8,88.5 81.0,88.7 82.2,86.9 83.3,85.6 84.5,84.0 85.7,83.3 86.9,82.4 88.0,80.6 89.2,79.8 90.4,78.6 91.5,77.8 92.7,77.2 93.9,75.7 95.0,74.6 96.2,73.8 97.4,73.5 98.5,74.4 99.7,74.9 100.9,74.2 102.1,73.5 103.2,75.0 104.4,75.1 105.6,76.6 106.7,77.9 107.9,81.0 109.1,82.4 110.2,82.9 111.4,82.5 112.6,82.6 113.7,82.7 114.9,82.1 116.1,81.4 117.3,81.5 118.4,81.2 119.6,81.5 120.8,80.2 121.9,78.4 123.1,77.5 124.3,76.4 125.4,75.0 126.6,74.7 127.8,74.3 128.9,74.0 130.1,74.3 131.3,73.1 132.5,72.3 133.6,68.9 134.8,63.9 136.0,61.3 137.1,59.4 138.3,58.9 139.5,63.3 140.6,65.5 141.8,66.0 143.0,66.7 144.2,65.3 145.3,64.1 146.5,62.0 147.7,60.5 148.8,59.9 150.0,65.7 151.2,69.0 152.3,68.6 153.5,68.9 154.7,69.3 155.8,68.3 157.0,66.5 158.2,65.0 159.4,65.0 160.5,64.6 161.7,64.3 162.9,63.7 164.0,62.4 165.2,68.0 166.4,73.0 167.5,77.4 168.7,77.5 169.9,77.1 171.0,75.7 172.2,74.9 173.4,73.9 174.6,73.4 175.7,72.7 176.9,72.0 178.1,72.9 179.2,72.4 180.4,70.0 181.6,67.2 182.7,64.9 183.9,65.3 185.1,64.5 186.2,64.7 187.4,60.3 188.6,57.4 189.8,58.0 190.9,59.2 192.1,58.3 193.3,57.6 194.4,57.4 195.6,56.7 196.8,59.0 197.9,61.5 199.1,64.6 200.3,65.7 201.5,66.3 202.6,67.8 203.8,68.5 205.0,69.8 206.1,71.0 207.3,72.0 208.5,71.2 209.6,70.8 210.8,71.0 212.0,70.2 213.1,69.8 214.3,70.4 215.5,71.9 216.7,73.4 217.8,74.7 219.0,76.1 220.2,77.1 221.3,78.6 222.5,76.7 223.7,75.7 224.8,74.0 226.0,73.6 227.2,73.8 228.3,71.9 229.5,71.1 230.7,69.3 231.9,68.5 233.0,68.9 234.2,69.6 235.4,70.0 236.5,71.3 237.7,71.9 238.9,73.3 240.0,73.1 241.2,73.0 242.4,72.8 243.5,72.6 244.7,71.1 245.9,70.5 247.1,69.2 248.2,70.4 249.4,71.4 250.6,72.1 251.7,73.0 252.9,73.3 254.1,72.9 255.2,73.9 256.4,74.7 257.6,75.7 258.8,76.5 259.9,76.4 261.1,75.1 262.3,73.9 263.4,72.0 264.6,72.6 265.8,72.8 266.9,74.0 268.1,73.9 269.3,73.4 270.4,74.1 271.6,73.3 272.8,73.7 274.0,73.0 275.1,72.6 276.3,72.8 277.5,72.8 278.6,71.8 279.8,71.5 281.0,72.2 282.1,72.4 283.3,72.4 284.5,72.6 285.6,72.1 286.8,72.1 288.0,72.4 289.2,73.0 290.3,72.6 291.5,73.7 292.7,73.4 293.8,74.8 295.0,74.8 296.2,74.6 297.3,74.1 298.5,74.3 299.7,74.3 300.9,74.0 302.0,73.8 303.2,74.0 304.4,74.0 305.5,72.8 306.7,73.0 307.9,72.1 309.0,72.7 310.2,72.6 311.4,73.8 312.5,73.8 313.7,74.1 314.9,74.4 316.1,74.4 317.2,74.5 318.4,75.4 319.6,75.2 320.7,75.8 321.9,76.0 323.1,75.5 324.2,76.2 325.4,75.8 326.6,75.6 327.7,74.5 328.9,74.6 330.1,74.4 331.3,74.3 332.4,75.1 333.6,74.8 334.8,75.8 335.9,75.7 337.1,76.1 338.3,75.1 339.4,74.6 340.6,74.7 341.8,74.6 342.9,73.6 344.1,73.8 345.3,72.8 346.5,72.9 347.6,71.5 348.8,71.0 350.0,69.8 351.1,69.5 352.3,68.3 353.5,70.7 354.6,71.4 355.8,71.8 357.0,71.8 358.2,72.1 359.3,72.3 360.5,73.3 361.7,74.2 362.8,74.5 364.0,75.0 365.2,75.4 366.3,75.6 367.5,75.6 368.7,76.2 369.8,77.1 371.0,78.1 372.2,78.8 373.4,79.3 374.5,79.1 375.7,78.7 376.9,78.1 378.0,78.7 379.2,78.0 380.4,78.4 381.5,77.5 382.7,77.4 383.9,78.0 385.0,77.9 386.2,78.3 387.4,78.8 388.6,78.5 389.7,77.7 390.9,77.9 392.1,78.4 393.2,79.3 394.4,81.2 395.6,81.2 396.7,80.5 397.9,80.7 399.1,79.4 400.2,79.8 401.4,78.5 402.6,78.7 403.8,77.8 404.9,76.8 406.1,75.6 407.3,74.2 408.4,74.1 409.6,73.0 410.8,72.4 411.9,71.4 413.1,73.8 414.3,74.5 415.5,75.2 416.6,76.8 417.8,76.7 419.0,77.5 420.1,78.5 421.3,78.8 422.5,78.6 423.6,79.8 424.8,79.6 426.0,80.2 427.1,81.2 428.3,81.6 429.5,81.9 430.7,81.4 431.8,82.6 433.0,82.9 434.2,82.3 435.3,82.7 436.5,84.2 437.7,84.1 438.8,85.0 440.0,85.2 441.2,86.2 442.3,86.5 443.5,87.0 444.7,86.3 445.9,86.1 447.0,84.7 448.2,84.8 449.4,84.6 450.5,84.1 451.7,83.4 452.9,83.6 454.0,83.1 455.2,82.2 456.4,81.1 457.5,81.0 458.7,81.9 459.9,81.7 461.1,83.2 462.2,82.6 463.4,82.9 464.6,82.8 465.7,81.8 466.9,81.6 468.1,81.5 469.2,81.1 470.4,81.6 471.6,81.3 472.8,80.8 473.9,80.5 475.1,80.0 476.3,81.6 477.4,82.8 478.6,83.0 479.8,82.2 480.9,82.4 482.1,81.6 483.3,82.1 484.4,83.3 485.6,83.1" stroke="#70AD47"/>
<path d="M60.0,86.7 61.1,84.8 62.3,83.1 63.5,85.2 64.6,87.1 65.8,88.0 67.0,88.0 68.1,88.2 69.3,88.1 70.5,87.9 71.6,87.0 72.8,86.9 74.0,85.6 75.2,85.3 76.3,84.5 77.5,84.4 78.7,85.0 79.8,85.6 81.0,85.8 82.2,85.3 83.3,85.8 84.5,85.0 85.7,84.9 86.9,84.8 88.0,86.0 89.2,85.9 90.4,85.9 91.5,85.8 92.7,85.4 93.9,85.2 95.0,85.7 96.2,85.8 97.4,85.8 98.5,84.6 99.7,85.1 100.9,85.7 102.1,86.3 103.2,87.5 104.4,87.8 105.6,88.2 106.7,87.7 107.9,87.0 109.1,87.4 110.2,87.2 111.4,85.8 112.6,85.3 113.7,85.0 114.9,84.9 116.1,85.5 117.3,85.8 118.4,85.1 119.6,84.2 120.8,83.7 121.9,83.4 123.1,82.7 124.3,80.8 125.4,80.1 126.6,79.3 127.8,79.0 128.9,78.2 130.1,78.7 131.3,82.5 132.5,86.4 133.6,87.2 134.8,87.5 136.0,87.2 137.1,85.1 138.3,83.3 139.5,85.6 140.6,86.9 141.8,86.7 143.0,85.4 144.2,84.0 145.3,84.5 146.5,85.8 147.7,86.6 148.8,86.8 150.0,86.5 151.2,85.9 152.3,85.7 153.5,83.3 154.7,83.2 155.8,86.0 157.0,87.6 158.2,87.5 159.4,87.1 160.5,87.4 161.7,88.9 162.9,89.8 164.0,89.3 165.2,88.7 166.4,88.9 167.5,87.3 168.7,87.5 169.9,86.0 171.0,85.7 172.2,85.9 173.4,86.8 174.6,87.7 175.7,88.0 176.9,87.9 178.1,89.6 179.2,90.9 180.4,92.7 181.6,92.5 182.7,92.6 183.9,91.7 185.1,91.9 186.2,90.6 187.4,89.4 188.6,88.3 189.8,89.5 190.9,89.7 192.1,90.5 193.3,90.7 194.4,92.1 195.6,93.3 196.8,93.9 197.9,94.3 199.1,93.7 200.3,93.2 201.5,93.6 202.6,93.1 203.8,93.0 205.0,93.0 206.1,92.7 207.3,91.9 208.5,91.5 209.6,91.6 210.8,91.2 212.0,90.4 213.1,91.0 214.3,90.5 215.5,89.4 216.7,88.0 217.8,87.8 219.0,86.6 220.2,85.1 221.3,83.5 222.5,84.1 223.7,85.5 224.8,87.4 226.0,87.2 227.2,87.0 228.3,87.3 229.5,87.3 230.7,88.2 231.9,88.3 233.0,89.0 234.2,90.7 235.4,91.2 236.5,91.2 237.7,91.9 238.9,93.4 240.0,93.9 241.2,93.8 242.4,93.9 243.5,93.9 244.7,93.6 245.9,94.5 247.1,94.5 248.2,94.1 249.4,93.4 250.6,94.3 251.7,93.8 252.9,93.8 254.1,93.1 255.2,93.1 256.4,95.0 257.6,95.1 258.8,95.9 259.9,95.5 261.1,95.6 262.3,95.3 263.4,93.5 264.6,90.6 265.8,88.8 266.9,88.3 268.1,88.4 269.3,89.5 270.4,90.4 271.6,90.7 272.8,90.8 274.0,92.0 275.1,89.5 276.3,86.4 277.5,85.8 278.6,88.5 279.8,90.5 281.0,92.2 282.1,91.3 283.3,90.0 284.5,90.6 285.6,90.5 286.8,91.0 288.0,90.2 289.2,88.8 290.3,87.8 291.5,85.8 292.7,87.3 293.8,88.9 295.0,91.3 296.2,91.8 297.3,93.2 298.5,93.8 299.7,94.4 300.9,95.1 302.0,94.9 303.2,96.7 304.4,98.1 305.5,98.1 306.7,96.1 307.9,94.3 309.0,92.0 310.2,91.3 311.4,91.0 312.5,91.6 313.7,91.2 314.9,90.6 316.1,89.4 317.2,88.6 318.4,90.8 319.6,92.1 320.7,92.5 321.9,91.3 323.1,92.0 324.2,91.5 325.4,89.4 326.6,88.8 327.7,86.5 328.9,86.3 330.1,85.1 331.3,86.6 332.4,87.9 333.6,90.3 334.8,91.6 335.9,93.4 337.1,93.9 338.3,94.1 339.4,94.4 340.6,95.8 341.8,96.4 342.9,96.6 344.1,96.9 345.3,97.1 346.5,96.4 347.6,95.9 348.8,95.4 350.0,95.7 351.1,95.8 352.3,95.6 353.5,95.9 354.6,96.5 355.8,95.8 357.0,95.8 358.2,96.1 359.3,96.5 360.5,96.2 361.7,97.2 362.8,97.8 364.0,97.6 365.2,98.1 366.3,99.2 367.5,99.9 368.7,99.8 369.8,100.6 371.0,100.9 372.2,101.7 373.4,102.5 374.5,102.2 375.7,101.5 376.9,101.5 378.0,100.9 379.2,101.2 380.4,101.1 381.5,101.2 382.7,101.7 383.9,101.7 385.0,102.3 386.2,102.2 387.4,102.9 388.6,103.5 389.7,103.8 390.9,103.6 392.1,104.3 393.2,105.6 394.4,105.6 395.6,108.0 396.7,109.6 397.9,111.6 399.1,113.6 400.2,114.2 401.4,115.4 402.6,115.7 403.8,115.7 404.9,115.6 406.1,115.1 407.3,114.8 408.4,113.1 409.6,111.0 410.8,108.5 411.9,108.0 413.1,107.3 414.3,106.1 415.5,106.0 416.6,106.2 417.8,107.4 419.0,108.8 420.1,110.9 421.3,111.9 422.5,112.2 423.6,112.0 424.8,112.2 426.0,111.3 427.1,108.6 428.3,107.7 429.5,106.1 430.7,105.8 431.8,104.9 433.0,104.7 434.2,104.1 435.3,104.8 436.5,104.2 437.7,105.2 438.8,102.2 440.0,100.8 441.2,98.2 442.3,96.0 443.5,94.7 444.7,93.4 445.9,91.8 447.0,90.8 448.2,90.0 449.4,90.0 450.5,91.0 451.7,92.7 452.9,94.2 454.0,94.1 455.2,94.6 456.4,95.2 457.5,95.2 458.7,95.3 459.9,95.7 461.1,96.5 462.2,97.2 463.4,96.6 464.6,96.7 465.7,97.4 466.9,97.2 468.1,97.9 469.2,97.0 470.4,97.4 471.6,98.4 472.8,99.0 473.9,100.1 475.1,100.7 476.3,101.2 477.4,102.4 478.6,102.0 479.8,103.0 480.9,102.6 482.1,101.8 483.3,101.8" stroke="#264478"/>
<path d="M61.1,103.4 62.3,104.0 63.5,104.8 64.6,104.4 65.8,103.2 67.0,102.6 68.1,101.0 69.3,103.2 70.5,105.3 71.6,105.3 72.8,106.5 74.0,106.9 75.2,107.5 76.3,108.6 77.5,108.1 78.7,107.9 79.8,106.9 81.0,106.1 82.2,105.3 83.3,104.7 84.5,105.1 85.7,104.5 86.9,105.6 88.0,108.4 89.2,109.4 90.4,109.2 91.5,110.1 92.7,109.7 93.9,109.8 95.0,109.9 96.2,110.0 97.4,110.2 98.5,109.7 99.7,109.5 100.9,109.8 102.1,108.7 103.2,107.6 104.4,106.2 105.6,108.6 106.7,110.9 107.9,112.3 109.1,114.1 110.2,113.3 111.4,110.8 112.6,109.6 113.7,111.5 114.9,112.2 116.1,113.0 117.3,115.0 118.4,115.2 119.6,116.3 120.8,117.4 121.9,117.8 123.1,119.2 124.3,120.6 125.4,121.3 126.6,124.2 127.8,127.6 128.9,130.6 130.1,134.6 131.3,140.0 132.5,145.6 133.6,146.5 134.8,146.5 136.0,149.5 137.1,152.8 138.3,129.8 139.5,119.7 140.6,124.1 141.8,124.4 143.0,122.8 144.2,121.0 145.3,117.2 146.5,116.3 147.7,124.1 148.8,130.4 150.0,133.2 151.2,137.1 152.3,140.5 153.5,144.5 154.7,147.6 155.8,144.9 157.0,141.0 158.2,136.9 159.4,133.2 160.5,129.8 161.7,126.7 162.9,124.0 164.0,120.4 165.2,117.9 166.4,116.4 167.5,114.5 168.7,114.9 169.9,113.5 171.0,115.0 172.2,116.4 173.4,116.0 174.6,114.2 175.7,111.0 176.9,114.5 178.1,119.9 179.2,124.8 180.4,129.6 181.6,130.6 182.7,130.9 183.9,131.4 185.1,131.1 186.2,126.1 187.4,125.1 188.6,124.9 189.8,123.9 190.9,121.5 192.1,118.6 193.3,117.4 194.4,119.3 195.6,120.9 196.8,122.2 197.9,121.5 199.1,120.8 200.3,119.7 201.5,119.6 202.6,118.9 203.8,117.9 205.0,117.0 206.1,117.9 207.3,118.4 208.5,116.4 209.6,111.0 210.8,111.6 212.0,116.0 213.1,120.6 214.3,122.3 215.5,124.6 216.7,127.8 217.8,127.9 219.0,123.8 220.2,119.6 221.3,120.8 222.5,124.0 223.7,125.5 224.8,123.4 226.0,121.2 227.2,119.5 228.3,122.0 229.5,125.4 230.7,126.3 231.9,125.3 233.0,125.5 234.2,125.2 235.4,122.0 236.5,116.6 237.7,117.5 238.9,120.0 240.0,121.8 241.2,119.9 242.4,118.4 243.5,118.5 244.7,120.0 245.9,122.1 247.1,121.5 248.2,121.6 249.4,122.1 250.6,122.5 251.7,123.6 252.9,121.7 254.1,119.4 255.2,115.9 256.4,112.0 257.6,112.5 258.8,116.1 259.9,115.5 261.1,112.9 262.3,111.9 263.4,113.6 264.6,115.8 265.8,117.4 266.9,119.6 268.1,121.4 269.3,117.8 270.4,115.0 271.6,113.9 272.8,115.0 274.0,116.2 275.1,106.1 276.3,98.5 277.5,103.8 278.6,108.0 279.8,109.2 281.0,110.1 282.1,105.1 283.3,100.6 284.5,102.9 285.6,105.9 286.8,107.4 288.0,109.0 289.2,109.7 290.3,112.2 291.5,114.5 292.7,112.2 293.8,110.3 295.0,107.4 296.2,108.0 297.3,109.1 298.5,108.7 299.7,108.4 300.9,108.6 302.0,110.7 303.2,113.3 304.4,115.0 305.5,109.3 306.7,102.4 307.9,98.3 309.0,93.7 310.2,91.2 311.4,92.3 312.5,93.0 313.7,93.9 314.9,93.8 316.1,95.0 317.2,95.5 318.4,96.3 319.6,95.0 320.7,92.4 321.9,91.2 323.1,89.0 324.2,87.2 325.4,85.1 326.6,89.8 327.7,92.4 328.9,93.2 330.1,92.8 331.3,93.2 332.4,94.9 333.6,98.2 334.8,100.9 335.9,102.7 337.1,104.1 338.3,105.6 339.4,106.9 340.6,101.9 341.8,98.1 342.9,93.8 344.1,91.2 345.3,90.2 346.5,92.0 347.6,94.0 348.8,89.7 350.0,85.6 351.1,82.9 352.3,85.5 353.5,89.8 354.6,91.8 355.8,92.3 357.0,90.8 358.2,89.2 359.3,88.8 360.5,89.6 361.7,90.0 362.8,90.4 364.0,91.4 365.2,90.9 366.3,90.4 367.5,88.8 368.7,86.2 369.8,83.5 371.0,81.9 372.2,81.9 373.4,81.8 374.5,86.9 375.7,89.2 376.9,87.7 378.0,87.3 379.2,88.7 380.4,89.7 381.5,91.1 382.7,92.6 383.9,93.9 385.0,95.1 386.2,95.4 387.4,97.3 388.6,98.6 389.7,96.8 390.9,95.4 392.1,94.5 393.2,94.1 394.4,94.5 395.6,93.0 396.7,93.1 397.9,92.3 399.1,91.6 400.2,93.7 401.4,95.4 402.6,96.4 403.8,97.5 404.9,99.1 406.1,100.0 407.3,101.8 408.4,103.1 409.6,104.2 410.8,105.1 411.9,105.6 413.1,104.4 414.3,104.6 415.5,106.8 416.6,108.8 417.8,111.2 419.0,114.4 420.1,113.0 421.3,110.7 422.5,108.3 423.6,109.5 424.8,112.0 426.0,109.9 427.1,105.5 428.3,104.9 429.5,105.3 430.7,105.6 431.8,106.6 433.0,103.7 434.2,102.0 435.3,101.2 436.5,102.7 437.7,104.5 438.8,103.0 440.0,102.8 441.2,101.5 442.3,101.5 443.5,102.6 444.7,104.3 445.9,105.8 447.0,107.2 448.2,109.7 449.4,111.6 450.5,111.7 451.7,110.5 452.9,108.1 454.0,104.7 455.2,102.0 456.4,99.8 457.5,98.5 458.7,99.0 459.9,100.8 461.1,103.1 462.2,105.1 463.4,107.9 464.6,109.9 465.7,107.6 466.9,104.8 468.1,102.5 469.2,102.4 470.4,101.0 471.6,100.4 472.8,100.9 473.9,102.4 475.1,103.2 476.3,104.8 477.4,104.5 478.6,103.4 479.8,102.2 480.9,101.9 482.1,103.1 483.3,104.1 484.4,104.2" stroke="#9E480E"/>
<path d="M61.1,95.2 62.3,92.1 63.5,88.7 64.6,90.7 65.8,91.3 67.0,91.5 68.1,91.5 69.3,92.0 70.5,96.4 71.6,97.7 72.8,98.3 74.0,99.0 75.2,99.7 76.3,101.2 77.5,101.0 78.7,102.2 79.8,101.8 81.0,100.6 82.2,100.1 83.3,99.3 84.5,98.8 85.7,97.6 86.9,97.2 88.0,96.4 89.2,95.3 90.4,95.1 91.5,94.0 92.7,93.6 93.9,91.6 95.0,89.4 96.2,86.9 97.4,84.9 98.5,87.1 99.7,90.3 100.9,92.9 102.1,94.3 103.2,94.9 104.4,95.7 105.6,96.0 106.7,96.9 107.9,97.2 109.1,96.6 110.2,97.8 111.4,97.1 112.6,96.3 113.7,95.2 114.9,95.2 116.1,93.9 117.3,93.8 118.4,93.6 119.6,93.2 120.8,94.3 121.9,95.7 123.1,96.8 124.3,96.9 125.4,96.0 126.6,96.5 127.8,96.2 128.9,97.2 130.1,97.6 131.3,98.0 132.5,98.2 133.6,96.9 134.8,95.6 136.0,95.3 137.1,94.1 138.3,93.8 139.5,92.7 140.6,90.9 141.8,89.3 143.0,86.4 144.2,84.7 145.3,83.6 146.5,86.2 147.7,86.0 148.8,82.6 150.0,83.7 151.2,86.8 152.3,88.8 153.5,86.3 154.7,83.4 155.8,84.4 157.0,87.5 158.2,91.0 159.4,92.1 160.5,92.5 161.7,93.7 162.9,94.6 164.0,95.1 165.2,96.1 166.4,97.6 167.5,97.4 168.7,97.6 169.9,97.8 171.0,98.5 172.2,98.6 173.4,97.7 174.6,97.2 175.7,98.7 176.9,99.6 178.1,101.5 179.2,99.8 180.4,98.4 181.6,97.2 182.7,96.1 183.9,94.9 185.1,94.1 186.2,92.7 187.4,92.3 188.6,93.0 189.8,94.3 190.9,95.3 192.1,93.8 193.3,91.1 194.4,89.6 195.6,89.8 196.8,90.0 197.9,89.9 199.1,89.2 200.3,87.5 201.5,85.7 202.6,84.0 203.8,84.4 205.0,84.9 206.1,85.4 207.3,87.0 208.5,85.9 209.6,85.7 210.8,86.4 212.0,85.9 213.1,85.8 214.3,86.4 215.5,86.8 216.7,86.5 217.8,86.4 219.0,85.9 220.2,85.1 221.3,85.7 222.5,85.9 223.7,87.7 224.8,87.6 226.0,88.8 227.2,88.7 228.3,89.4 229.5,89.3 230.7,88.2 231.9,86.8 233.0,85.1 234.2,84.4 235.4,85.8 236.5,88.2 237.7,88.2 238.9,88.3 240.0,88.7 241.2,88.6 242.4,87.6 243.5,87.2 244.7,85.7 245.9,84.6 247.1,84.1 248.2,82.9 249.4,83.2 250.6,85.3 251.7,86.6 252.9,86.1 254.1,86.0 255.2,86.4 256.4,85.5 257.6,86.8 258.8,88.7 259.9,88.0 261.1,87.6 262.3,86.4 263.4,85.6 264.6,84.7 265.8,84.0 266.9,84.5 268.1,86.7 269.3,88.6 270.4,89.7 271.6,89.9 272.8,90.5 274.0,90.5 275.1,91.1 276.3,91.8 277.5,91.2 278.6,91.3 279.8,91.4 281.0,90.3 282.1,89.6 283.3,89.5 284.5,91.4 285.6,91.8 286.8,92.1 288.0,91.9 289.2,91.6 290.3,92.1 291.5,92.5 292.7,92.8 293.8,93.9 295.0,94.2 296.2,94.4 297.3,94.9 298.5,95.7 299.7,95.5 300.9,96.5 302.0,96.3 303.2,97.6 304.4,98.0 305.5,98.5 306.7,98.4 307.9,99.2 309.0,99.9 310.2,100.4 311.4,100.3 312.5,101.7 313.7,102.5 314.9,102.8 316.1,103.5 317.2,104.0 318.4,104.2 319.6,103.1 320.7,103.0 321.9,102.8 323.1,102.3 324.2,101.4 325.4,101.5 326.6,100.8 327.7,99.6 328.9,100.2 330.1,99.1 331.3,99.0 332.4,99.4 333.6,99.8 334.8,99.4 335.9,100.2 337.1,100.7 338.3,100.5 339.4,101.5 340.6,102.5 341.8,102.8 342.9,103.4 344.1,104.1 345.3,105.0 346.5,105.4 347.6,106.5 348.8,106.5 350.0,107.8 351.1,108.0 352.3,109.5 353.5,110.7 354.6,110.8 355.8,112.1 357.0,112.7 358.2,113.4 359.3,114.0 360.5,113.9 361.7,113.4 362.8,113.0 364.0,112.4 365.2,112.8 366.3,112.2 367.5,111.4 368.7,111.8 369.8,111.9 371.0,112.1 372.2,113.0 373.4,114.9 374.5,115.5 375.7,114.3 376.9,113.4 378.0,111.8 379.2,110.4 380.4,110.4 381.5,109.3 382.7,108.6 383.9,107.4 385.0,106.7 386.2,105.8 387.4,104.1 388.6,102.9 389.7,102.7 390.9,103.9 392.1,106.1 393.2,108.3 394.4,108.6 395.6,108.3 396.7,108.9 397.9,109.3 399.1,110.3 400.2,112.3 401.4,112.7 402.6,111.7 403.8,109.5 404.9,107.4 406.1,108.4 407.3,109.3 408.4,109.3 409.6,108.6 410.8,106.3 411.9,105.3 413.1,104.7 414.3,103.7 415.5,103.1 416.6,103.1 417.8,103.5 419.0,104.3 420.1,102.3 421.3,98.8 422.5,96.9 423.6,94.5 424.8,97.2 426.0,100.3 427.1,100.5 428.3,101.8 429.5,100.8 430.7,98.5 431.8,97.6 433.0,97.5 434.2,101.6 435.3,103.2 436.5,104.6 437.7,104.4 438.8,105.2 440.0,105.1 441.2,104.5 442.3,104.3 443.5,103.2 444.7,104.0 445.9,104.0 447.0,104.3 448.2,105.0 449.4,102.9 450.5,101.5 451.7,99.8 452.9,99.6 454.0,100.1 455.2,97.9 456.4,96.4 457.5,95.3 458.7,95.9 459.9,97.8 461.1,95.8 462.2,95.2 463.4,94.3 464.6,96.4 465.7,99.7 466.9,99.9 468.1,100.7 469.2,101.1 470.4,101.7 471.6,102.3 472.8,102.4 473.9,103.1 475.1,103.2 476.3,103.3 477.4,102.6 478.6,102.7 479.8,101.2 480.9,99.7 482.1,97.7 483.3,96.5" stroke="#636363"/>
<path d="M58.8,95.5 60.0,96.1 61.1,99.0 62.3,98.5 63.5,98.3 64.6,97.1 65.8,95.7 67.0,95.3 68.1,97.1 69.3,97.5 70.5,97.6 71.6,97.6 72.8,98.3 74.0,98.2 75.2,97.9 76.3,98.0 77.5,99.3 78.7,100.3 79.8,101.1 81.0,101.9 82.2,102.1 83.3,102.2 84.5,101.6 85.7,101.4 86.9,103.5 88.0,104.9 89.2,104.1 90.4,103.2 91.5,100.9 92.7,99.1 93.9,97.1 95.0,95.4 96.2,94.4 97.4,94.1 98.5,95.6 99.7,96.3 100.9,98.4 102.1,99.6 103.2,101.8 104.4,101.4 105.6,101.4 106.7,101.9 107.9,101.6 109.1,102.5 110.2,101.6 111.4,102.2 112.6,102.4 113.7,101.9 114.9,101.9 116.1,102.7 117.3,102.9 118.4,102.9 119.6,104.0 120.8,102.9 121.9,102.3 123.1,102.4 124.3,103.8 125.4,104.3 126.6,104.2 127.8,103.3 128.9,102.7 130.1,103.2 131.3,101.9 132.5,101.2 133.6,101.4 134.8,101.8 136.0,102.3 137.1,103.2 138.3,103.0 139.5,102.5 140.6,102.7 141.8,104.6 143.0,104.6 144.2,105.9 145.3,106.2 146.5,106.7 147.7,107.5 148.8,108.0 150.0,108.5 151.2,107.8 152.3,108.1 153.5,107.8 154.7,108.5 155.8,108.2 157.0,108.3 158.2,108.5 159.4,107.9 160.5,108.3 161.7,108.5 162.9,109.1 164.0,109.7 165.2,109.0 166.4,109.4 167.5,109.4 168.7,109.7 169.9,109.4 171.0,109.5 172.2,109.5 173.4,109.3 174.6,108.7 175.7,107.8 176.9,107.1 178.1,107.2 179.2,105.8 180.4,105.7 181.6,104.8 182.7,104.5 183.9,103.2 185.1,103.5 186.2,103.6 187.4,104.8 188.6,104.9 189.8,105.0 190.9,105.4 192.1,106.3 193.3,106.9 194.4,106.9 195.6,106.7 196.8,105.5 197.9,105.4 199.1,104.5 200.3,103.7 201.5,103.5 202.6,103.2 203.8,101.9 205.0,101.0 206.1,100.8 207.3,100.1 208.5,99.1 209.6,99.3 210.8,99.1 212.0,99.6 213.1,99.6 214.3,99.6 215.5,99.8 216.7,99.4 217.8,100.5 219.0,101.6 220.2,101.6 221.3,101.0 222.5,101.5 223.7,100.4 224.8,100.2 226.0,98.9 227.2,99.8 228.3,101.6 229.5,102.5 230.7,103.3 231.9,103.6 233.0,103.1 234.2,102.0 235.4,100.2 236.5,99.6 237.7,98.7 238.9,97.4 240.0,98.6 241.2,100.1 242.4,100.5 243.5,102.3 244.7,102.4 245.9,103.6 247.1,104.3 248.2,105.8 249.4,105.9 250.6,106.9 251.7,107.2 252.9,108.0 254.1,108.1 255.2,107.7 256.4,107.7 257.6,108.0 258.8,108.0 259.9,108.0 261.1,107.7 262.3,108.2 263.4,108.0 264.6,108.2 265.8,108.9 266.9,108.5 268.1,108.3 269.3,108.7 270.4,107.7 271.6,107.9 272.8,108.1 274.0,107.4 275.1,107.4 276.3,107.8 277.5,106.8 278.6,106.9 279.8,107.2 281.0,107.3 282.1,107.0 283.3,107.0 284.5,106.5 285.6,106.5 286.8,106.2 288.0,106.0 289.2,105.2 290.3,104.5 291.5,103.4" stroke="#FF0000"/>
</g>
<path d="M94.2,233.3H117.4" stroke="#4472C4" stroke-width="2.45" stroke-linecap="round"/>
<text x="121.2" y="237" font-size="10" fill="#686868">2015年</text>
<path d="M158.1,233.3H181.3" stroke="#ED7D31" stroke-width="2.45" stroke-linecap="round"/>
<text x="185.07" y="237" font-size="10" fill="#686868">2016年</text>
<path d="M221.9,233.3H245.1" stroke="#A5A5A5" stroke-width="2.45" stroke-linecap="round"/>
<text x="248.94" y="237" font-size="10" fill="#686868">2017年</text>
<path d="M285.8,233.3H309.0" stroke="#FFC000" stroke-width="2.45" stroke-linecap="round"/>
<text x="312.81" y="237" font-size="10" fill="#686868">2018年</text>
<path d="M349.7,233.3H372.9" stroke="#5B9BD5" stroke-width="2.45" stroke-linecap="round"/>
<text x="376.68" y="237" font-size="10" fill="#686868">2019年</text>
<path d="M94.2,249.3H117.4" stroke="#70AD47" stroke-width="2.45" stroke-linecap="round"/>
<text x="121.2" y="253" font-size="10" fill="#686868">2020年</text>
<path d="M158.1,249.3H181.3" stroke="#264478" stroke-width="2.45" stroke-linecap="round"/>
<text x="185.07" y="253" font-size="10" fill="#686868">2021年</text>
<path d="M221.9,249.3H245.1" stroke="#9E480E" stroke-width="2.45" stroke-linecap="round"/>
<text x="248.94" y="253" font-size="10" fill="#686868">2022年</text>
<path d="M285.8,249.3H309.0" stroke="#636363" stroke-width="2.45" stroke-linecap="round"/>
<text x="312.81" y="253" font-size="10" fill="#686868">2023年</text>
<path d="M349.7,249.3H372.9" stroke="#FF0000" stroke-width="2.45" stroke-linecap="round"/>
<text x="376.68" y="253" font-size="10" fill="#686868">2024年</text>
</g>
<g transform="translate(0,271)">
<rect x="0.5" y="-0.5" width="499" height="267" fill="#fff" stroke="#D9D9D9" stroke-width="1"/>
<clipPath id="wc3"><rect x="0" y="125.5" width="500" height="300"/></clipPath>
<g clip-path="url(#wc3)"><rect x="150.4" y="121.3" width="52.8" height="33.2" rx="3" fill="#F8DEDE"/><rect x="147.4" y="119.9" width="57" height="36.4" rx="3.5" fill="none" stroke="#FAE9E9" stroke-width="0.8"/>
<g fill="#fff" opacity="0.9" font-size="15" font-weight="bold"><text transform="translate(152.4,135.6) scale(1.45,1)">紫</text><text transform="translate(177,135.6) scale(1.45,1)">天</text><text transform="translate(153.5,151.8) scale(1.45,1)">金</text><text transform="translate(176.5,151.8) scale(1.45,1)">风</text></g>
<text transform="translate(215.5,136.5) scale(1.5,1)" font-size="15.5" font-weight="bold" letter-spacing="0.9" fill="#DEDEDE">紫金天风期货</text>
<rect x="214.5" y="142.4" width="147" height="0.7" fill="#E6E6E6"/>
<text transform="translate(0,154) scale(1.45,1)" x="147.2 160.3 173.4 186.6 203.1 216.2 229.3 242.8" y="0" font-size="6.6" fill="#D6D6D6">立足产业研究驱动</text></g>
<text x="168.9" y="20.3" font-size="11.64" fill="#4a4a4a">山东柴油现货裂解价差</text>
<rect x="286.0" y="16.3" width="4.8" height="1" fill="#686868"/>
<text x="291.4" y="20.2" font-size="11.5" fill="#686868">对</text>
<text x="303.1" y="20.1" font-size="11.2" fill="#686868">Brent</text>
<path d="M58.0,39.1V160.6" stroke="#E2E2E2" stroke-width="1.6" fill="none"/>
<g font-size="10.5" text-anchor="end" fill="#686868"><text x="51.3" y="43.2">50</text><text x="51.3" y="60.41">40</text><text x="51.3" y="77.63">30</text><text x="51.3" y="94.84">20</text><text x="51.3" y="112.06">10</text><text x="51.3" y="129.27">0</text></g>
<g font-size="10.5" text-anchor="end" fill="#FF2020"><text x="51.3" y="146.48">(10)</text><text x="51.3" y="163.7">(20)</text></g>
<path d="M53.2,39.6H58.2M53.2,56.8H58.2M53.2,74.0H58.2M53.2,91.2H58.2M53.2,108.5H58.2M53.2,125.7H58.2M53.2,142.9H58.2M53.2,160.1H58.2M58.2,125.7H486.2M58.2,125.7V129.7M74.6,125.7V129.7M90.9,125.7V129.7M107.3,125.7V129.7M123.7,125.7V129.7M140.1,125.7V129.7M156.4,125.7V129.7M172.8,125.7V129.7M189.2,125.7V129.7M205.5,125.7V129.7M221.9,125.7V129.7M238.3,125.7V129.7M254.7,125.7V129.7M271.0,125.7V129.7M287.4,125.7V129.7M303.8,125.7V129.7M320.1,125.7V129.7M336.5,125.7V129.7M352.9,125.7V129.7M369.3,125.7V129.7M385.6,125.7V129.7M402.0,125.7V129.7M418.4,125.7V129.7M434.7,125.7V129.7M451.1,125.7V129.7M467.5,125.7V129.7M483.9,125.7V129.7" stroke="#D9D9D9" stroke-width="1" fill="none"/>
<text transform="translate(25.6,100.3) rotate(-90)" font-size="11" text-anchor="middle" fill="#686868">$/bbl</text>
<g font-size="10.3" text-anchor="end" fill="#686868">
<text transform="translate(61.18,166.6) rotate(-90)">1月1日</text>
<text transform="translate(74.05,166.6) rotate(-90)">1月12日</text>
<text transform="translate(86.91,166.6) rotate(-90)">1月23日</text>
<text transform="translate(99.77,166.6) rotate(-90)">2月3日</text>
<text transform="translate(112.64,166.6) rotate(-90)">2月14日</text>
<text transform="translate(125.50,166.6) rotate(-90)">2月25日</text>
<text transform="translate(138.37,166.6) rotate(-90)">3月7日</text>
<text transform="translate(151.23,166.6) rotate(-90)">3月18日</text>
<text transform="translate(164.09,166.6) rotate(-90)">3月29日</text>
<text transform="translate(176.96,166.6) rotate(-90)">4月9日</text>
<text transform="translate(189.82,166.6) rotate(-90)">4月20日</text>
<text transform="translate(202.68,166.6) rotate(-90)">5月1日</text>
<text transform="translate(215.55,166.6) rotate(-90)">5月12日</text>
<text transform="translate(228.41,166.6) rotate(-90)">5月23日</text>
<text transform="translate(241.27,166.6) rotate(-90)">6月3日</text>
<text transform="translate(254.14,166.6) rotate(-90)">6月14日</text>
<text transform="translate(267.00,166.6) rotate(-90)">6月25日</text>
<text transform="translate(279.86,166.6) rotate(-90)">7月6日</text>
<text transform="translate(292.73,166.6) rotate(-90)">7月17日</text>
<text transform="translate(305.59,166.6) rotate(-90)">7月28日</text>
<text transform="translate(318.45,166.6) rotate(-90)">8月8日</text>
<text transform="translate(331.32,166.6) rotate(-90)">8月19日</text>
<text transform="translate(344.18,166.6) rotate(-90)">8月30日</text>
<text transform="translate(357.04,166.6) rotate(-90)">9月10日</text>
<text transform="translate(369.91,166.6) rotate(-90)">9月21日</text>
<text transform="translate(382.77,166.6) rotate(-90)">10月2日</text>
<text transform="translate(395.63,166.6) rotate(-90)">10月13日</text>
<text transform="translate(408.50,166.6) rotate(-90)">10月24日</text>
<text transform="translate(421.36,166.6) rotate(-90)">11月4日</text>
<text transform="translate(434.22,166.6) rotate(-90)">11月15日</text>
<text transform="translate(447.09,166.6) rotate(-90)">11月26日</text>
<text transform="translate(459.95,166.6) rotate(-90)">12月7日</text>
<text transform="translate(472.81,166.6) rotate(-90)">12月18日</text>
<text transform="translate(485.68,166.6) rotate(-90)">12月29日</text>
</g>
<g fill="none" stroke-width="2.45" stroke-linejoin="round" stroke-linecap="round">
<path d="M62.3,101.0 63.5,101.0 64.6,101.0 65.8,102.6 67.0,104.6 68.1,105.1 69.3,104.3 70.5,103.0 71.6,102.8 72.8,102.3 74.0,104.8 75.2,107.8 76.3,110.0 77.5,111.7 78.7,111.3 79.8,111.3 81.0,112.8 82.2,115.5 83.3,116.7 84.5,118.0 85.7,118.4 86.9,120.1 88.0,121.7 89.2,123.4 90.4,124.0 91.5,125.7 92.7,126.4 93.9,127.4 95.0,126.8 96.2,125.3 97.4,123.1 98.5,123.3 99.7,123.0 100.9,124.5 102.1,125.2 103.2,125.7 104.4,126.2 105.6,127.2 106.7,127.5 107.9,128.0 109.1,129.4 110.2,129.1 111.4,129.1 112.6,128.1 113.7,128.0 114.9,128.1 116.1,126.7 117.3,126.1 118.4,125.0 119.6,123.7 120.8,123.3 121.9,122.5 123.1,121.9 124.3,122.0 125.4,122.0 126.6,120.7 127.8,121.9 128.9,121.9 130.1,123.0 131.3,123.6 132.5,124.3 133.6,125.6 134.8,125.4 136.0,126.2 137.1,126.9 138.3,127.0 139.5,126.5 140.6,126.4 141.8,127.1 143.0,126.6 144.2,127.0 145.3,126.2 146.5,126.3 147.7,126.0 148.8,125.5 150.0,125.8 151.2,125.7 152.3,125.5 153.5,126.0 154.7,128.4 155.8,133.4 157.0,138.8 158.2,136.1 159.4,133.1 160.5,129.9 161.7,127.1 162.9,127.3 164.0,126.2 165.2,125.7 166.4,125.1 167.5,124.6 168.7,123.9 169.9,124.0 171.0,124.0 172.2,123.7 173.4,123.9 174.6,123.6 175.7,123.6 176.9,124.4 178.1,125.9 179.2,127.4 180.4,129.2 181.6,130.9 182.7,132.3 183.9,133.2 185.1,133.9 186.2,134.9 187.4,135.7 188.6,136.7 189.8,136.0 190.9,134.5 192.1,134.4 193.3,134.5 194.4,135.5 195.6,136.5 196.8,137.5 197.9,138.0 199.1,137.2 200.3,136.9 201.5,136.9 202.6,136.0 203.8,136.3 205.0,135.2 206.1,134.3 207.3,132.5 208.5,129.8 209.6,128.7 210.8,128.3 212.0,127.4 213.1,128.6 214.3,130.3 215.5,131.7 216.7,131.9 217.8,132.7 219.0,133.5 220.2,134.2 221.3,134.3 222.5,134.4 223.7,133.7 224.8,132.8 226.0,132.4 227.2,132.0 228.3,131.9 229.5,132.4 230.7,131.7 231.9,132.4 233.0,133.3 234.2,133.7 235.4,134.8 236.5,135.0 237.7,136.0 238.9,135.7 240.0,136.2 241.2,135.8 242.4,135.4 243.5,135.5 244.7,134.8 245.9,135.8 247.1,135.7 248.2,135.5 249.4,136.1 250.6,137.1 251.7,137.0 252.9,137.3 254.1,136.6 255.2,136.8 256.4,136.9 257.6,136.6 258.8,135.8 259.9,133.9 261.1,132.9 262.3,132.3 263.4,131.9 264.6,132.0 265.8,132.0 266.9,132.6 268.1,131.8 269.3,132.6 270.4,132.3 271.6,133.0 272.8,133.2 274.0,133.0 275.1,134.0 276.3,133.6 277.5,133.3 278.6,133.6 279.8,133.1 281.0,132.3 282.1,132.5 283.3,132.2 284.5,132.9 285.6,132.7 286.8,132.2 288.0,132.0 289.2,131.4 290.3,130.6 291.5,131.3 292.7,131.1 293.8,131.5 295.0,131.6 296.2,131.5 297.3,132.0 298.5,131.6 299.7,132.4 300.9,132.2 302.0,131.3 303.2,131.6 304.4,131.0 305.5,130.7 306.7,130.5 307.9,129.7 309.0,129.5 310.2,129.6 311.4,129.2 312.5,128.8 313.7,128.6 314.9,127.7 316.1,127.8 317.2,128.1 318.4,128.8 319.6,128.0 320.7,129.1 321.9,129.3 323.1,128.9 324.2,128.5 325.4,128.4 326.6,128.3 327.7,127.6 328.9,127.5 330.1,126.7 331.3,127.0 332.4,126.3 333.6,126.0 334.8,124.8 335.9,127.3 337.1,130.9 338.3,135.5 339.4,136.0 340.6,135.8 341.8,135.8 342.9,133.9 344.1,132.0 345.3,131.4 346.5,130.5 347.6,131.0 348.8,129.5 350.0,129.6 351.1,128.7 352.3,127.5 353.5,126.8 354.6,126.7 355.8,125.8 357.0,125.3 358.2,125.3 359.3,125.2 360.5,124.2 361.7,124.5 362.8,123.6 364.0,123.5 365.2,123.4 366.3,122.9 367.5,122.3 368.7,123.1 369.8,122.9 371.0,123.1 372.2,123.7 373.4,124.1 374.5,124.8 375.7,125.9 376.9,126.3 378.0,126.2 379.2,126.2 380.4,127.3 381.5,126.7 382.7,127.6 383.9,127.9 385.0,128.5 386.2,128.4 387.4,128.7 388.6,127.8 389.7,127.0 390.9,126.3 392.1,126.1 393.2,124.3 394.4,124.9 395.6,124.4 396.7,124.6 397.9,124.7 399.1,124.3 400.2,124.2 401.4,124.6 402.6,124.8 403.8,123.7 404.9,123.7 406.1,124.2 407.3,124.3 408.4,124.3 409.6,125.2 410.8,125.4 411.9,125.3 413.1,125.5 414.3,125.3 415.5,125.3 416.6,125.2 417.8,124.5 419.0,123.9 420.1,121.8 421.3,121.0 422.5,119.9 423.6,118.7 424.8,117.8 426.0,117.8 427.1,117.6 428.3,116.8 429.5,116.6 430.7,115.9 431.8,115.6 433.0,116.1 434.2,115.2 435.3,115.3 436.5,115.8 437.7,115.4 438.8,116.9 440.0,117.0 441.2,116.9 442.3,117.0 443.5,116.9 444.7,116.0 445.9,115.6 447.0,115.4 448.2,114.8 449.4,115.0 450.5,115.0 451.7,113.6 452.9,113.9 454.0,113.6 455.2,112.4 456.4,113.2 457.5,112.5 458.7,111.8 459.9,112.5 461.1,112.1 462.2,111.5 463.4,111.8 464.6,111.5 465.7,111.1 466.9,110.8 468.1,110.8 469.2,111.2 470.4,111.1 471.6,111.2 472.8,111.4 473.9,112.0 475.1,112.3 476.3,113.4 477.4,114.0 478.6,113.4 479.8,113.2 480.9,112.6 482.1,112.5 483.3,112.5 484.4,111.7" stroke="#4472C4"/>
<path d="M61.1,108.2 62.3,108.2 63.5,107.4 64.6,106.9 65.8,106.2 67.0,106.3 68.1,105.5 69.3,105.9 70.5,105.3 71.6,106.3 72.8,105.5 74.0,106.3 75.2,107.9 76.3,109.8 77.5,111.2 78.7,112.1 79.8,114.1 81.0,115.9 82.2,118.6 83.3,123.2 84.5,124.4 85.7,125.5 86.9,125.6 88.0,127.1 89.2,127.7 90.4,129.2 91.5,130.0 92.7,130.1 93.9,132.0 95.0,132.6 96.2,132.4 97.4,133.6 98.5,133.1 99.7,134.3 100.9,134.3 102.1,134.1 103.2,135.3 104.4,135.1 105.6,135.1 106.7,135.5 107.9,135.7 109.1,136.4 110.2,136.6 111.4,137.7 112.6,137.5 113.7,137.6 114.9,137.4 116.1,137.9 117.3,137.1 118.4,137.8 119.6,138.5 120.8,139.2 121.9,139.5 123.1,138.7 124.3,139.0 125.4,138.0 126.6,137.4 127.8,137.5 128.9,137.4 130.1,137.2 131.3,136.5 132.5,136.3 133.6,136.5 134.8,136.1 136.0,136.3 137.1,135.5 138.3,135.2 139.5,135.4 140.6,135.8 141.8,135.6 143.0,135.3 144.2,136.2 145.3,136.1 146.5,137.6 147.7,138.8 148.8,139.5 150.0,138.1 151.2,137.2 152.3,136.6 153.5,136.2 154.7,135.9 155.8,135.6 157.0,136.1 158.2,135.9 159.4,137.0 160.5,137.2 161.7,137.6 162.9,136.8 164.0,135.6 165.2,135.8 166.4,134.8 167.5,136.0 168.7,137.3 169.9,137.7 171.0,138.7 172.2,138.7 173.4,139.4 174.6,139.3 175.7,139.2 176.9,139.4 178.1,139.0 179.2,138.7 180.4,139.5 181.6,139.4 182.7,140.4 183.9,140.4 185.1,141.8 186.2,143.8 187.4,143.6 188.6,142.7 189.8,142.2 190.9,141.3 192.1,141.0 193.3,141.8 194.4,142.4 195.6,143.3 196.8,142.7 197.9,142.1 199.1,141.4 200.3,141.3 201.5,140.3 202.6,139.5 203.8,138.9 205.0,139.0 206.1,137.8 207.3,137.2 208.5,136.4 209.6,136.8 210.8,139.0 212.0,139.1 213.1,140.5 214.3,141.2 215.5,141.8 216.7,143.1 217.8,142.8 219.0,143.4 220.2,142.5 221.3,142.1 222.5,141.8 223.7,142.4 224.8,141.8 226.0,142.4 227.2,142.1 228.3,142.2 229.5,141.3 230.7,141.6 231.9,141.1 233.0,141.6 234.2,141.5 235.4,141.2 236.5,140.5 237.7,141.0 238.9,141.4 240.0,141.4 241.2,141.7 242.4,141.3 243.5,141.3 244.7,141.4 245.9,141.3 247.1,140.3 248.2,140.8 249.4,140.0 250.6,139.7 251.7,139.7 252.9,139.5 254.1,138.7 255.2,139.1 256.4,139.6 257.6,139.5 258.8,140.5 259.9,140.3 261.1,139.3 262.3,138.0 263.4,137.1 264.6,136.8 265.8,138.7 266.9,140.6 268.1,142.0 269.3,141.0 270.4,141.6 271.6,140.4 272.8,140.2 274.0,139.2 275.1,138.5 276.3,138.1 277.5,137.7 278.6,137.0 279.8,137.2 281.0,136.7 282.1,136.3 283.3,136.7 284.5,137.8 285.6,137.8 286.8,138.7 288.0,138.1 289.2,138.1 290.3,139.2 291.5,139.4 292.7,140.0 293.8,139.7 295.0,140.7 296.2,139.8 297.3,140.3 298.5,139.9 299.7,139.3 300.9,138.8 302.0,138.8 303.2,138.6 304.4,138.1 305.5,138.5 306.7,137.7 307.9,137.9 309.0,137.8 310.2,138.5 311.4,139.8 312.5,140.4 313.7,140.4 314.9,139.9 316.1,139.8 317.2,139.2 318.4,139.7 319.6,141.2 320.7,141.4 321.9,142.8 323.1,143.7 324.2,143.6 325.4,144.6 326.6,145.0 327.7,144.7 328.9,145.2 330.1,144.4 331.3,144.3 332.4,144.4 333.6,145.1 334.8,145.3 335.9,144.7 337.1,143.7 338.3,142.7 339.4,141.9 340.6,140.3 341.8,138.3 342.9,135.7 344.1,134.6 345.3,134.6 346.5,134.0 347.6,133.0 348.8,133.0 350.0,132.8 351.1,132.7 352.3,131.5 353.5,130.9 354.6,130.8 355.8,130.5 357.0,129.1 358.2,128.8 359.3,128.6 360.5,128.4 361.7,128.3 362.8,129.4 364.0,129.3 365.2,128.4 366.3,127.8 367.5,127.7 368.7,128.0 369.8,128.7 371.0,129.6 372.2,129.1 373.4,130.1 374.5,130.5 375.7,129.9 376.9,130.1 378.0,131.0 379.2,130.8 380.4,131.3 381.5,130.7 382.7,131.6 383.9,131.7 385.0,131.4 386.2,131.1 387.4,132.3 388.6,132.4 389.7,131.2 390.9,128.6 392.1,126.4 393.2,124.8 394.4,123.7 395.6,123.7 396.7,122.1 397.9,119.8 399.1,117.5 400.2,116.2 401.4,116.8 402.6,117.0 403.8,116.9 404.9,116.7 406.1,116.9 407.3,117.7 408.4,117.6 409.6,118.6 410.8,118.9 411.9,118.5 413.1,118.6 414.3,117.8 415.5,116.2 416.6,115.1 417.8,114.2 419.0,112.4 420.1,111.4 421.3,109.1 422.5,109.4 423.6,109.7 424.8,109.6 426.0,109.5 427.1,111.4 428.3,112.8 429.5,113.6 430.7,115.2 431.8,114.5 433.0,111.8 434.2,110.8 435.3,109.1 436.5,110.2 437.7,109.9 438.8,111.3 440.0,111.2 441.2,110.9 442.3,110.2 443.5,109.8 444.7,110.2 445.9,110.6 447.0,111.9 448.2,112.8 449.4,113.7 450.5,114.6 451.7,114.3 452.9,113.2 454.0,113.4 455.2,112.9 456.4,113.1 457.5,112.9 458.7,113.1 459.9,113.5 461.1,113.8 462.2,113.8 463.4,114.7 464.6,115.4 465.7,115.7 466.9,115.9 468.1,115.4 469.2,115.2 470.4,115.0 471.6,116.3 472.8,117.2 473.9,119.1 475.1,119.6 476.3,121.4 477.4,121.1 478.6,122.0 479.8,122.9 480.9,123.8 482.1,124.4 483.3,125.2 484.4,125.7" stroke="#ED7D31"/>
<path d="M60.0,131.1 61.1,131.6 62.3,133.2 63.5,134.7 64.6,135.9 65.8,136.9 67.0,138.2 68.1,139.3 69.3,140.6 70.5,140.3 71.6,141.2 72.8,140.5 74.0,141.1 75.2,139.5 76.3,138.8 77.5,137.5 78.7,137.0 79.8,135.3 81.0,135.2 82.2,135.5 83.3,135.6 84.5,135.0 85.7,135.7 86.9,135.3 88.0,136.0 89.2,136.2 90.4,135.7 91.5,136.0 92.7,136.1 93.9,135.4 95.0,136.1 96.2,135.3 97.4,135.3 98.5,135.2 99.7,135.1 100.9,135.7 102.1,135.0 103.2,137.8 104.4,139.4 105.6,140.1 106.7,138.4 107.9,137.4 109.1,137.5 110.2,136.6 111.4,136.4 112.6,135.4 113.7,134.3 114.9,133.5 116.1,133.3 117.3,132.3 118.4,132.4 119.6,132.2 120.8,131.5 121.9,131.3 123.1,131.6 124.3,131.0 125.4,131.5 126.6,131.6 127.8,131.4 128.9,132.3 130.1,131.4 131.3,132.4 132.5,131.5 133.6,132.7 134.8,132.2 136.0,132.0 137.1,132.6 138.3,132.8 139.5,132.5 140.6,132.7 141.8,133.0 143.0,132.7 144.2,132.8 145.3,133.3 146.5,133.1 147.7,133.6 148.8,133.2 150.0,133.6 151.2,133.5 152.3,133.2 153.5,133.4 154.7,133.7 155.8,133.6 157.0,133.8 158.2,133.8 159.4,133.8 160.5,133.3 161.7,134.0 162.9,134.1 164.0,133.5 165.2,134.1 166.4,133.7 167.5,133.7 168.7,133.8 169.9,134.8 171.0,135.1 172.2,135.3 173.4,135.0 174.6,134.7 175.7,134.6 176.9,135.2 178.1,135.2 179.2,135.1 180.4,134.5 181.6,133.8 182.7,133.8 183.9,132.3 185.1,133.2 186.2,132.7 187.4,132.5 188.6,132.6 189.8,132.2 190.9,132.3 192.1,132.6 193.3,132.2 194.4,132.3 195.6,131.6 196.8,131.1 197.9,131.2 199.1,131.3 200.3,130.7 201.5,130.8 202.6,130.5 203.8,129.7 205.0,128.9 206.1,129.4 207.3,129.0 208.5,129.9 209.6,128.9 210.8,129.8 212.0,129.7 213.1,130.2 214.3,130.2 215.5,130.3 216.7,130.0 217.8,129.8 219.0,129.8 220.2,129.7 221.3,129.3 222.5,129.1 223.7,128.8 224.8,129.0 226.0,129.2 227.2,129.6 228.3,128.9 229.5,129.6 230.7,129.7 231.9,129.5 233.0,130.2 234.2,130.8 235.4,131.0 236.5,130.7 237.7,130.0 238.9,129.7 240.0,129.4 241.2,129.0 242.4,128.9 243.5,129.0 244.7,128.7 245.9,128.1 247.1,128.4 248.2,128.2 249.4,127.6 250.6,127.6 251.7,127.5 252.9,127.3 254.1,128.0 255.2,128.1 256.4,128.0 257.6,128.8 258.8,128.4 259.9,128.4 261.1,128.8 262.3,129.0 263.4,129.0 264.6,129.4 265.8,130.0 266.9,130.2 268.1,129.8 269.3,130.7 270.4,130.6 271.6,129.8 272.8,129.8 274.0,130.1 275.1,129.9 276.3,129.7 277.5,128.9 278.6,129.4 279.8,128.9 281.0,128.9 282.1,128.3 283.3,128.2 284.5,127.9 285.6,127.7 286.8,128.2 288.0,127.4 289.2,127.8 290.3,128.1 291.5,128.6 292.7,129.3 293.8,130.4 295.0,130.7 296.2,130.8 297.3,131.3 298.5,131.6 299.7,131.2 300.9,131.8 302.0,132.3 303.2,131.9 304.4,131.5 305.5,131.5 306.7,130.9 307.9,130.2 309.0,129.6 310.2,127.9 311.4,127.3 312.5,126.8 313.7,125.5 314.9,125.4 316.1,124.2 317.2,123.6 318.4,123.3 319.6,123.3 320.7,123.1 321.9,122.4 323.1,122.4 324.2,121.8 325.4,121.7 326.6,121.8 327.7,122.3 328.9,123.2 330.1,123.1 331.3,123.2 332.4,123.5 333.6,123.7 334.8,124.0 335.9,123.9 337.1,124.1 338.3,124.3 339.4,125.2 340.6,125.8 341.8,125.9 342.9,125.7 344.1,125.5 345.3,125.4 346.5,124.4 347.6,124.8 348.8,123.5 350.0,124.3 351.1,124.0 352.3,123.7 353.5,123.6 354.6,123.9 355.8,123.4 357.0,123.7 358.2,123.7 359.3,122.6 360.5,123.3 361.7,122.7 362.8,123.0 364.0,122.0 365.2,122.5 366.3,121.8 367.5,121.7 368.7,121.1 369.8,120.5 371.0,120.5 372.2,120.5 373.4,119.4 374.5,118.9 375.7,118.8 376.9,118.1 378.0,117.1 379.2,117.1 380.4,116.4 381.5,116.6 382.7,116.0 383.9,115.5 385.0,114.8 386.2,114.2 387.4,113.9 388.6,113.8 389.7,112.9 390.9,113.0 392.1,112.5 393.2,112.6 394.4,113.3 395.6,112.6 396.7,112.6 397.9,112.8 399.1,113.1 400.2,113.3 401.4,112.5 402.6,113.4 403.8,113.3 404.9,113.4 406.1,113.7 407.3,114.2 408.4,114.8 409.6,114.4 410.8,114.3 411.9,114.1 413.1,113.8 414.3,113.3 415.5,111.9 416.6,110.7 417.8,110.4 419.0,111.1 420.1,111.0 421.3,111.8 422.5,111.3 423.6,111.4 424.8,111.1 426.0,110.5 427.1,109.4 428.3,108.9 429.5,108.3 430.7,105.9 431.8,104.8 433.0,102.5 434.2,101.3 435.3,99.3 436.5,99.1 437.7,99.0 438.8,97.7 440.0,98.1 441.2,97.4 442.3,97.6 443.5,97.1 444.7,97.5 445.9,97.7 447.0,98.9 448.2,99.6 449.4,98.8 450.5,98.9 451.7,98.8 452.9,97.9 454.0,98.1 455.2,98.3 456.4,99.2 457.5,100.8 458.7,102.3 459.9,103.1 461.1,105.6 462.2,107.8 463.4,111.0 464.6,113.4 465.7,115.2 466.9,117.7 468.1,121.4 469.2,125.7 470.4,126.9 471.6,127.9 472.8,128.6 473.9,127.0 475.1,124.9 476.3,123.9 477.4,124.4 478.6,124.0 479.8,123.1" stroke="#A5A5A5"/>
<path d="M60.0,126.1 61.1,129.0 62.3,130.0 63.5,132.9 64.6,135.7 65.8,137.9 67.0,139.7 68.1,139.9 69.3,140.2 70.5,138.0 71.6,135.4 72.8,133.3 74.0,133.4 75.2,133.3 76.3,133.0 77.5,132.7 78.7,133.4 79.8,133.9 81.0,134.7 82.2,134.9 83.3,135.1 84.5,134.9 85.7,135.9 86.9,135.5 88.0,135.8 89.2,135.7 90.4,136.3 91.5,136.7 92.7,136.8 93.9,136.8 95.0,136.5 96.2,136.2 97.4,135.6 98.5,135.9 99.7,135.3 100.9,134.4 102.1,134.1 103.2,131.7 104.4,129.6 105.6,129.7 106.7,130.0 107.9,130.1 109.1,130.4 110.2,132.1 111.4,132.6 112.6,133.8 113.7,134.7 114.9,134.8 116.1,134.8 117.3,135.2 118.4,135.5 119.6,135.5 120.8,135.6 121.9,135.5 123.1,135.4 124.3,135.1 125.4,134.3 126.6,134.7 127.8,133.2 128.9,133.7 130.1,132.9 131.3,132.0 132.5,131.6 133.6,132.0 134.8,131.0 136.0,131.2 137.1,130.6 138.3,130.4 139.5,130.4 140.6,131.2 141.8,130.8 143.0,132.0 144.2,132.0 145.3,131.9 146.5,133.0 147.7,132.9 148.8,133.7 150.0,134.5 151.2,135.5 152.3,135.0 153.5,134.0 154.7,134.7 155.8,133.5 157.0,133.3 158.2,134.0 159.4,133.7 160.5,134.4 161.7,134.4 162.9,135.0 164.0,134.5 165.2,134.2 166.4,133.7 167.5,133.4 168.7,133.1 169.9,132.5 171.0,132.4 172.2,131.8 173.4,131.6 174.6,131.0 175.7,130.9 176.9,130.4 178.1,129.4 179.2,129.0 180.4,129.6 181.6,129.9 182.7,130.4 183.9,130.4 185.1,131.3 186.2,130.9 187.4,132.0 188.6,131.6 189.8,131.9 190.9,131.9 192.1,132.6 193.3,132.3 194.4,132.6 195.6,132.7 196.8,132.0 197.9,132.2 199.1,131.2 200.3,131.9 201.5,131.1 202.6,130.9 203.8,130.8 205.0,130.2 206.1,129.9 207.3,129.0 208.5,128.5 209.6,128.5 210.8,127.0 212.0,126.6 213.1,126.9 214.3,125.9 215.5,125.8 216.7,125.5 217.8,124.9 219.0,125.0 220.2,125.4 221.3,124.8 222.5,123.3 223.7,123.8 224.8,123.1 226.0,123.2 227.2,123.1 228.3,123.8 229.5,124.2 230.7,125.2 231.9,125.5 233.0,125.3 234.2,126.3 235.4,126.3 236.5,126.1 237.7,125.3 238.9,125.4 240.0,124.6 241.2,124.4 242.4,124.2 243.5,123.0 244.7,122.7 245.9,122.6 247.1,123.1 248.2,122.4 249.4,122.6 250.6,123.0 251.7,123.2 252.9,123.4 254.1,124.2 255.2,124.1 256.4,124.8 257.6,124.5 258.8,125.5 259.9,125.6 261.1,126.2 262.3,126.4 263.4,127.8 264.6,127.6 265.8,128.7 266.9,128.6 268.1,128.2 269.3,129.4 270.4,129.3 271.6,128.7 272.8,128.4 274.0,129.0 275.1,128.2 276.3,128.0 277.5,127.6 278.6,127.3 279.8,127.5 281.0,127.9 282.1,127.9 283.3,128.3 284.5,127.4 285.6,126.9 286.8,125.2 288.0,125.1 289.2,123.7 290.3,123.1 291.5,121.8 292.7,120.5 293.8,120.1 295.0,118.4 296.2,118.7 297.3,117.7 298.5,117.1 299.7,117.1 300.9,116.8 302.0,117.2 303.2,116.5 304.4,116.5 305.5,117.5 306.7,117.0 307.9,116.5 309.0,115.0 310.2,114.1 311.4,112.3 312.5,111.7 313.7,110.2 314.9,110.1 316.1,109.1 317.2,109.7 318.4,109.8 319.6,109.6 320.7,110.2 321.9,110.7 323.1,110.5 324.2,110.9 325.4,111.0 326.6,111.1 327.7,111.4 328.9,111.3 330.1,110.8 331.3,110.8 332.4,111.2 333.6,111.3 334.8,111.1 335.9,110.7 337.1,111.0 338.3,110.3 339.4,110.1 340.6,109.3 341.8,108.4 342.9,108.4 344.1,107.8 345.3,107.5 346.5,107.5 347.6,106.5 348.8,103.7 350.0,102.0 351.1,101.7 352.3,101.0 353.5,100.9 354.6,101.3 355.8,100.6 357.0,99.4 358.2,98.1 359.3,97.4 360.5,98.4 361.7,98.3 362.8,99.0 364.0,100.4 365.2,101.8 366.3,102.7 367.5,102.9 368.7,104.3 369.8,106.5 371.0,107.9 372.2,108.3 373.4,109.0 374.5,109.5 375.7,109.6 376.9,109.5 378.0,108.7 379.2,108.0 380.4,107.2 381.5,107.4 382.7,105.8 383.9,105.5 385.0,104.8 386.2,103.7 387.4,102.3 388.6,101.9 389.7,100.3 390.9,100.3 392.1,99.5 393.2,99.1 394.4,99.1 395.6,98.6 396.7,98.2 397.9,98.6 399.1,98.1 400.2,97.5 401.4,96.6 402.6,95.7 403.8,95.5 404.9,96.5 406.1,97.5 407.3,98.9 408.4,100.4 409.6,101.0 410.8,101.1 411.9,101.8 413.1,101.4 414.3,101.7 415.5,101.4 416.6,100.6 417.8,100.2 419.0,99.9 420.1,100.7 421.3,101.5 422.5,101.9 423.6,102.3 424.8,100.5 426.0,98.5 427.1,97.0 428.3,98.0 429.5,99.4 430.7,102.2 431.8,102.0 433.0,101.3 434.2,101.5 435.3,101.3 436.5,100.0 437.7,99.5 438.8,100.1 440.0,102.1 441.2,102.9 442.3,105.0 443.5,106.4 444.7,109.1 445.9,110.9 447.0,112.8 448.2,114.7 449.4,115.9 450.5,117.9 451.7,118.2 452.9,117.9 454.0,118.7 455.2,118.1 456.4,117.3 457.5,115.8 458.7,114.5 459.9,114.6 461.1,115.5 462.2,116.5 463.4,116.7 464.6,117.5 465.7,117.9 466.9,118.6 468.1,118.8 469.2,117.2 470.4,116.4 471.6,116.0 472.8,114.2 473.9,113.6 475.1,112.3 476.3,111.5 477.4,114.6 478.6,119.3 479.8,125.1 480.9,122.8 482.1,121.9 483.3,121.0" stroke="#FFC000"/>
<path d="M60.0,123.7 61.1,124.7 62.3,125.9 63.5,126.0 64.6,124.3 65.8,123.3 67.0,123.0 68.1,124.8 69.3,125.9 70.5,124.4 71.6,121.6 72.8,121.4 74.0,123.5 75.2,124.1 76.3,126.7 77.5,128.8 78.7,130.2 79.8,129.4 81.0,128.9 82.2,128.0 83.3,126.4 84.5,125.9 85.7,124.6 86.9,126.3 88.0,128.5 89.2,130.0 90.4,130.6 91.5,131.9 92.7,132.2 93.9,131.7 95.0,132.2 96.2,131.9 97.4,131.9 98.5,132.9 99.7,132.4 100.9,133.5 102.1,134.0 103.2,133.1 104.4,133.4 105.6,133.9 106.7,133.3 107.9,134.9 109.1,135.9 110.2,137.8 111.4,138.1 112.6,137.3 113.7,136.0 114.9,135.0 116.1,135.1 117.3,133.6 118.4,132.8 119.6,131.9 120.8,129.9 121.9,125.9 123.1,122.8 124.3,122.7 125.4,123.2 126.6,122.7 127.8,123.0 128.9,124.4 130.1,125.4 131.3,126.2 132.5,127.5 133.6,127.1 134.8,127.0 136.0,126.9 137.1,127.3 138.3,127.2 139.5,126.6 140.6,126.6 141.8,125.8 143.0,125.6 144.2,125.4 145.3,125.1 146.5,125.8 147.7,126.5 148.8,127.2 150.0,128.2 151.2,128.7 152.3,128.6 153.5,127.7 154.7,128.3 155.8,127.7 157.0,128.1 158.2,127.7 159.4,127.6 160.5,127.3 161.7,126.6 162.9,126.7 164.0,126.3 165.2,126.1 166.4,126.4 167.5,125.7 168.7,125.1 169.9,125.4 171.0,124.4 172.2,123.8 173.4,123.6 174.6,123.2 175.7,123.2 176.9,123.4 178.1,123.5 179.2,123.3 180.4,123.2 181.6,123.2 182.7,123.9 183.9,124.2 185.1,124.7 186.2,124.7 187.4,124.9 188.6,123.5 189.8,123.4 190.9,122.9 192.1,122.9 193.3,123.0 194.4,123.0 195.6,122.9 196.8,123.6 197.9,123.4 199.1,123.9 200.3,123.0 201.5,123.6 202.6,123.5 203.8,122.3 205.0,121.4 206.1,116.8 207.3,117.0 208.5,117.6 209.6,117.1 210.8,117.6 212.0,117.8 213.1,118.3 214.3,118.7 215.5,118.5 216.7,118.3 217.8,118.9 219.0,119.0 220.2,119.0 221.3,118.2 222.5,117.5 223.7,117.1 224.8,116.3 226.0,115.3 227.2,115.4 228.3,114.1 229.5,113.1 230.7,112.6 231.9,112.2 233.0,111.0 234.2,110.3 235.4,110.4 236.5,110.2 237.7,109.6 238.9,109.2 240.0,109.9 241.2,110.7 242.4,112.3 243.5,112.5 244.7,113.8 245.9,113.6 247.1,114.1 248.2,114.2 249.4,115.2 250.6,115.8 251.7,116.6 252.9,117.5 254.1,117.1 255.2,118.3 256.4,118.0 257.6,118.8 258.8,119.6 259.9,119.4 261.1,119.5 262.3,119.7 263.4,119.7 264.6,119.8 265.8,120.1 266.9,120.3 268.1,119.2 269.3,117.4 270.4,115.2 271.6,111.9 272.8,110.6 274.0,111.2 275.1,111.8 276.3,112.2 277.5,111.1 278.6,110.2 279.8,108.6 281.0,109.2 282.1,111.4 283.3,112.3 284.5,112.3 285.6,110.9 286.8,109.7 288.0,109.3 289.2,108.6 290.3,107.7 291.5,107.3 292.7,106.1 293.8,105.0 295.0,104.0 296.2,103.9 297.3,102.2 298.5,102.5 299.7,103.3 300.9,104.4 302.0,104.5 303.2,105.6 304.4,105.6 305.5,106.0 306.7,102.0 307.9,98.4 309.0,99.6 310.2,101.0 311.4,100.0 312.5,98.8 313.7,97.2 314.9,96.5 316.1,97.6 317.2,99.8 318.4,100.0 319.6,100.0 320.7,100.9 321.9,99.7 323.1,98.2 324.2,97.8 325.4,98.7 326.6,98.8 327.7,99.3 328.9,99.3 330.1,99.6 331.3,100.3 332.4,100.8 333.6,101.3 334.8,101.4 335.9,101.1 337.1,102.3 338.3,102.6 339.4,103.1 340.6,103.3 341.8,104.4 342.9,104.3 344.1,102.9 345.3,101.0 346.5,102.0 347.6,102.4 348.8,103.6 350.0,104.1 351.1,104.0 352.3,103.8 353.5,103.7 354.6,103.7 355.8,101.5 357.0,100.3 358.2,99.2 359.3,99.6 360.5,101.3 361.7,101.4 362.8,102.0 364.0,101.7 365.2,102.6 366.3,102.8 367.5,103.4 368.7,102.4 369.8,101.8 371.0,101.9 372.2,102.3 373.4,103.0 374.5,104.0 375.7,103.6 376.9,103.3 378.0,103.2 379.2,102.9 380.4,102.7 381.5,102.0 382.7,100.6 383.9,100.0 385.0,99.7 386.2,99.6 387.4,100.4 388.6,101.8 389.7,103.3 390.9,105.0 392.1,104.5 393.2,104.0 394.4,103.2 395.6,103.4 396.7,103.8 397.9,103.4 399.1,104.5 400.2,104.6 401.4,105.9 402.6,105.8 403.8,105.4 404.9,105.5 406.1,105.8 407.3,105.1 408.4,105.5 409.6,106.2 410.8,105.7 411.9,107.1 413.1,107.3 414.3,107.9 415.5,107.6 416.6,107.4 417.8,107.2 419.0,106.9 420.1,106.9 421.3,106.7 422.5,106.1 423.6,105.9 424.8,106.0 426.0,106.1 427.1,105.6 428.3,104.5 429.5,104.2 430.7,104.5 431.8,105.7 433.0,105.6 434.2,105.6 435.3,106.6 436.5,107.1 437.7,107.6 438.8,108.5 440.0,108.5 441.2,109.2 442.3,107.9 443.5,107.7 444.7,106.8 445.9,106.2 447.0,106.7 448.2,106.6 449.4,107.3 450.5,107.5 451.7,108.3 452.9,108.2 454.0,108.5 455.2,108.8 456.4,108.4 457.5,108.3 458.7,108.1 459.9,108.4 461.1,108.6 462.2,108.9 463.4,108.4 464.6,109.2 465.7,109.3 466.9,110.2 468.1,110.6 469.2,111.4 470.4,111.7 471.6,112.7 472.8,112.3 473.9,113.1 475.1,112.9 476.3,113.6 477.4,113.3 478.6,114.4 479.8,114.6 480.9,115.0 482.1,115.5 483.3,115.0 484.4,115.4" stroke="#5B9BD5"/>
<path d="M60.0,117.6 61.1,120.7 62.3,122.1 63.5,120.3 64.6,118.7 65.8,118.3 67.0,117.1 68.1,115.7 69.3,115.1 70.5,115.8 71.6,116.4 72.8,117.1 74.0,117.7 75.2,117.2 76.3,117.4 77.5,116.6 78.7,116.0 79.8,116.2 81.0,114.9 82.2,114.2 83.3,113.5 84.5,113.1 85.7,112.8 86.9,111.4 88.0,111.4 89.2,110.7 90.4,109.4 91.5,109.1 92.7,108.9 93.9,108.7 95.0,108.4 96.2,107.5 97.4,107.9 98.5,108.2 99.7,109.7 100.9,110.5 102.1,109.6 103.2,109.8 104.4,109.4 105.6,109.5 106.7,111.6 107.9,112.5 109.1,114.9 110.2,115.3 111.4,117.3 112.6,117.9 113.7,116.1 114.9,114.8 116.1,114.2 117.3,112.6 118.4,111.4 119.6,110.3 120.8,108.4 121.9,107.3 123.1,106.3 124.3,104.5 125.4,103.5 126.6,103.7 127.8,103.6 128.9,102.7 130.1,102.0 131.3,99.5 132.5,97.1 133.6,93.4 134.8,88.2 136.0,82.5 137.1,78.1 138.3,79.4 139.5,81.6 140.6,77.3 141.8,79.8 143.0,79.9 144.2,78.8 145.3,78.1 146.5,76.7 147.7,76.0 148.8,79.5 150.0,81.7 151.2,80.0 152.3,79.9 153.5,79.2 154.7,78.8 155.8,78.9 157.0,77.0 158.2,74.8 159.4,74.7 160.5,75.1 161.7,76.1 162.9,78.0 164.0,79.8 165.2,83.6 166.4,90.1 167.5,91.8 168.7,94.0 169.9,93.7 171.0,92.6 172.2,92.8 173.4,92.7 174.6,90.1 175.7,88.8 176.9,88.9 178.1,88.3 179.2,88.1 180.4,83.1 181.6,81.7 182.7,82.2 183.9,81.7 185.1,81.7 186.2,80.6 187.4,76.2 188.6,72.0 189.8,72.9 190.9,74.0 192.1,74.5 193.3,74.1 194.4,73.3 195.6,74.3 196.8,77.2 197.9,79.0 199.1,81.5 200.3,84.1 201.5,85.5 202.6,87.0 203.8,88.7 205.0,89.8 206.1,91.7 207.3,92.7 208.5,94.4 209.6,94.2 210.8,94.1 212.0,93.2 213.1,95.5 214.3,96.8 215.5,98.2 216.7,98.9 217.8,100.3 219.0,100.8 220.2,102.4 221.3,101.8 222.5,102.7 223.7,102.8 224.8,104.4 226.0,104.7 227.2,105.3 228.3,106.2 229.5,107.1 230.7,107.1 231.9,108.1 233.0,109.0 234.2,110.2 235.4,110.6 236.5,112.4 237.7,113.6 238.9,115.2 240.0,116.3 241.2,115.3 242.4,115.1 243.5,113.8 244.7,113.4 245.9,113.4 247.1,114.6 248.2,114.6 249.4,114.6 250.6,114.7 251.7,115.8 252.9,116.7 254.1,118.3 255.2,118.9 256.4,119.2 257.6,119.7 258.8,120.8 259.9,120.6 261.1,121.2 262.3,120.9 263.4,120.6 264.6,119.9 265.8,120.8 266.9,120.2 268.1,120.6 269.3,120.9 270.4,121.1 271.6,120.5 272.8,121.3 274.0,120.4 275.1,120.4 276.3,120.7 277.5,120.4 278.6,120.4 279.8,119.2 281.0,119.4 282.1,119.6 283.3,120.0 284.5,120.0 285.6,120.8 286.8,121.5 288.0,121.9 289.2,121.5 290.3,121.9 291.5,121.9 292.7,122.7 293.8,123.4 295.0,123.7 296.2,123.5 297.3,124.1 298.5,124.5 299.7,124.4 300.9,124.8 302.0,123.9 303.2,124.4 304.4,123.6 305.5,123.7 306.7,123.3 307.9,122.2 309.0,122.3 310.2,122.3 311.4,122.3 312.5,122.2 313.7,122.6 314.9,122.3 316.1,122.4 317.2,123.2 318.4,122.8 319.6,123.2 320.7,124.1 321.9,123.6 323.1,124.1 324.2,124.4 325.4,124.1 326.6,124.0 327.7,125.0 328.9,125.0 330.1,125.1 331.3,124.9 332.4,125.4 333.6,125.4 334.8,125.8 335.9,125.6 337.1,125.5 338.3,124.6 339.4,124.3 340.6,124.4 341.8,124.3 342.9,123.4 344.1,123.3 345.3,123.0 346.5,121.7 347.6,120.9 348.8,120.9 350.0,119.5 351.1,118.8 352.3,117.8 353.5,117.1 354.6,116.1 355.8,115.1 357.0,113.4 358.2,113.5 359.3,113.7 360.5,114.5 361.7,115.7 362.8,116.6 364.0,118.1 365.2,118.8 366.3,119.2 367.5,119.8 368.7,118.7 369.8,118.5 371.0,118.6 372.2,118.8 373.4,118.9 374.5,119.3 375.7,119.8 376.9,119.8 378.0,120.7 379.2,121.0 380.4,121.5 381.5,121.2 382.7,122.4 383.9,122.6 385.0,122.6 386.2,123.5 387.4,123.7 388.6,124.0 389.7,124.1 390.9,124.1 392.1,123.6 393.2,123.9 394.4,123.2 395.6,122.2 396.7,121.7 397.9,121.6 399.1,121.2 400.2,121.3 401.4,120.9 402.6,121.5 403.8,122.0 404.9,121.1 406.1,119.8 407.3,118.7 408.4,118.4 409.6,116.9 410.8,116.7 411.9,116.7 413.1,117.9 414.3,118.4 415.5,118.7 416.6,119.2 417.8,119.8 419.0,119.5 420.1,119.2 421.3,119.4 422.5,118.5 423.6,119.7 424.8,120.5 426.0,121.7 427.1,121.9 428.3,122.1 429.5,122.9 430.7,123.3 431.8,123.6 433.0,124.4 434.2,124.4 435.3,125.3 436.5,126.0 437.7,127.2 438.8,127.9 440.0,128.8 441.2,130.0 442.3,130.8 443.5,130.2 444.7,130.0 445.9,129.4 447.0,128.2 448.2,127.9 449.4,128.1 450.5,127.6 451.7,126.1 452.9,125.2 454.0,122.8 455.2,120.4 456.4,117.8 457.5,116.3 458.7,116.0 459.9,117.6 461.1,119.5 462.2,119.6 463.4,119.8 464.6,120.7 465.7,121.8 466.9,122.4 468.1,122.7 469.2,123.1 470.4,122.3 471.6,122.4 472.8,122.3 473.9,122.1 475.1,122.5 476.3,123.8 477.4,124.5 478.6,125.7 479.8,125.1 480.9,126.0 482.1,127.7 483.3,129.1 484.4,130.4" stroke="#70AD47"/>
<path d="M60.0,127.6 61.1,129.1 62.3,131.1 63.5,134.0 64.6,134.5 65.8,136.3 67.0,136.7 68.1,137.4 69.3,137.9 70.5,137.4 71.6,138.1 72.8,136.6 74.0,136.9 75.2,135.4 76.3,136.6 77.5,136.7 78.7,137.1 79.8,137.5 81.0,137.6 82.2,136.8 83.3,137.2 84.5,136.3 85.7,137.1 86.9,138.0 88.0,138.6 89.2,139.3 90.4,139.7 91.5,139.5 92.7,140.0 93.9,140.3 95.0,140.3 96.2,141.2 97.4,141.4 98.5,142.2 99.7,143.6 100.9,144.4 102.1,146.6 103.2,145.7 104.4,144.7 105.6,144.8 106.7,144.0 107.9,142.8 109.1,142.7 110.2,141.8 111.4,141.1 112.6,140.7 113.7,140.5 114.9,140.2 116.1,138.9 117.3,138.7 118.4,138.6 119.6,136.4 120.8,134.0 121.9,133.1 123.1,132.8 124.3,131.6 125.4,131.4 126.6,130.3 127.8,129.4 128.9,129.2 130.1,130.1 131.3,130.0 132.5,131.1 133.6,131.6 134.8,132.2 136.0,131.0 137.1,130.6 138.3,129.3 139.5,128.7 140.6,128.4 141.8,128.5 143.0,128.0 144.2,127.7 145.3,126.3 146.5,126.3 147.7,124.7 148.8,125.5 150.0,127.6 151.2,128.5 152.3,130.6 153.5,129.5 154.7,128.1 155.8,127.5 157.0,126.6 158.2,126.9 159.4,127.4 160.5,128.4 161.7,128.3 162.9,129.6 164.0,129.2 165.2,128.4 166.4,127.8 167.5,128.5 168.7,128.1 169.9,127.5 171.0,127.3 172.2,126.9 173.4,127.1 174.6,126.5 175.7,126.2 176.9,126.1 178.1,126.4 179.2,126.3 180.4,125.7 181.6,125.9 182.7,126.2 183.9,125.7 185.1,126.1 186.2,125.2 187.4,124.6 188.6,124.6 189.8,124.9 190.9,124.1 192.1,123.7 193.3,124.5 194.4,125.0 195.6,124.7 196.8,125.6 197.9,126.0 199.1,125.9 200.3,125.9 201.5,126.3 202.6,125.8 203.8,125.6 205.0,124.9 206.1,122.3 207.3,122.1 208.5,122.2 209.6,121.9 210.8,120.9 212.0,121.3 213.1,119.7 214.3,119.6 215.5,119.3 216.7,118.2 217.8,117.2 219.0,116.4 220.2,114.7 221.3,115.0 222.5,117.1 223.7,118.4 224.8,119.1 226.0,119.8 227.2,120.3 228.3,120.2 229.5,120.9 230.7,119.9 231.9,119.5 233.0,117.6 234.2,116.7 235.4,116.2 236.5,114.7 237.7,114.2 238.9,114.0 240.0,112.8 241.2,113.6 242.4,113.4 243.5,114.2 244.7,114.4 245.9,115.3 247.1,115.5 248.2,116.6 249.4,116.2 250.6,117.2 251.7,117.7 252.9,119.1 254.1,119.6 255.2,120.3 256.4,122.1 257.6,122.0 258.8,122.3 259.9,122.7 261.1,123.9 262.3,123.5 263.4,123.2 264.6,123.5 265.8,123.7 266.9,123.2 268.1,122.5 269.3,122.3 270.4,122.9 271.6,124.0 272.8,124.1 274.0,124.0 275.1,124.7 276.3,124.3 277.5,123.7 278.6,123.1 279.8,122.4 281.0,122.4 282.1,121.7 283.3,121.5 284.5,121.2 285.6,120.7 286.8,121.2 288.0,120.8 289.2,119.9 290.3,120.0 291.5,118.5 292.7,118.5 293.8,120.0 295.0,119.6 296.2,121.2 297.3,121.2 298.5,122.1 299.7,121.7 300.9,122.5 302.0,122.7 303.2,122.6 304.4,121.4 305.5,119.6 306.7,118.3 307.9,117.1 309.0,116.7 310.2,116.3 311.4,116.1 312.5,116.2 313.7,115.6 314.9,115.0 316.1,115.1 317.2,115.3 318.4,115.5 319.6,115.0 320.7,114.1 321.9,113.8 323.1,113.8 324.2,113.5 325.4,112.9 326.6,112.5 327.7,112.1 328.9,111.3 330.1,111.8 331.3,112.1 332.4,112.8 333.6,113.8 334.8,115.0 335.9,115.2 337.1,116.7 338.3,117.4 339.4,118.2 340.6,118.4 341.8,117.9 342.9,118.1 344.1,118.0 345.3,117.1 346.5,117.2 347.6,116.6 348.8,115.6 350.0,116.0 351.1,115.6 352.3,115.3 353.5,114.2 354.6,112.8 355.8,110.2 357.0,107.4 358.2,104.5 359.3,104.6 360.5,104.5 361.7,105.5 362.8,106.1 364.0,107.6 365.2,109.2 366.3,111.2 367.5,112.7 368.7,113.8 369.8,115.7 371.0,117.5 372.2,118.8 373.4,116.7 374.5,115.9 375.7,114.7 376.9,114.0 378.0,113.5 379.2,112.6 380.4,110.8 381.5,110.4 382.7,108.8 383.9,107.6 385.0,105.6 386.2,104.7 387.4,103.0 388.6,98.9 389.7,93.4 390.9,89.6 392.1,85.5 393.2,86.7 394.4,87.0 395.6,86.9 396.7,86.3 397.9,86.0 399.1,83.6 400.2,80.4 401.4,59.7 402.6,55.4 403.8,57.4 404.9,61.1 406.1,64.6 407.3,67.1 408.4,72.2 409.6,78.9 410.8,83.9 411.9,87.5 413.1,87.6 414.3,85.8 415.5,85.4 416.6,84.8 417.8,84.6 419.0,86.3 420.1,89.6 421.3,91.4 422.5,92.0 423.6,93.8 424.8,96.6 426.0,100.6 427.1,102.9 428.3,104.8 429.5,104.5 430.7,103.2 431.8,97.9 433.0,93.1 434.2,91.0 435.3,89.7 436.5,88.7 437.7,89.2 438.8,89.5 440.0,90.1 441.2,91.8 442.3,92.7 443.5,84.9 444.7,79.9 445.9,79.7 447.0,80.8 448.2,79.7 449.4,78.7 450.5,78.6 451.7,81.1 452.9,83.3 454.0,85.2 455.2,86.8 456.4,88.7 457.5,89.7 458.7,89.7 459.9,90.6 461.1,91.7 462.2,92.8 463.4,94.3 464.6,95.1 465.7,94.3 466.9,94.1 468.1,92.7 469.2,92.8 470.4,92.5 471.6,93.1 472.8,93.8 473.9,94.6 475.1,95.4 476.3,96.5 477.4,97.9 478.6,99.0 479.8,99.5 480.9,102.0 482.1,101.6 483.3,101.1 484.4,101.7" stroke="#264478"/>
<path d="M61.1,107.0 62.3,107.1 63.5,108.0 64.6,108.3 65.8,109.5 67.0,110.6 68.1,112.6 69.3,114.4 70.5,114.7 71.6,115.7 72.8,116.3 74.0,117.5 75.2,117.1 76.3,116.8 77.5,116.5 78.7,116.5 79.8,118.3 81.0,118.9 82.2,120.8 83.3,122.0 84.5,122.9 85.7,124.1 86.9,125.2 88.0,125.4 89.2,124.2 90.4,123.7 91.5,123.7 92.7,122.0 93.9,121.2 95.0,120.4 96.2,120.5 97.4,119.9 98.5,119.1 99.7,117.8 100.9,117.2 102.1,115.4 103.2,118.1 104.4,120.4 105.6,121.0 106.7,119.7 107.9,119.3 109.1,118.7 110.2,118.6 111.4,117.6 112.6,116.4 113.7,116.5 114.9,116.5 116.1,117.4 117.3,116.8 118.4,116.7 119.6,116.0 120.8,114.5 121.9,113.2 123.1,111.0 124.3,112.0 125.4,113.4 126.6,115.8 127.8,121.1 128.9,124.4 130.1,129.4 131.3,132.9 132.5,135.3 133.6,128.1 134.8,130.4 136.0,138.4 137.1,127.0 138.3,111.2 139.5,112.2 140.6,117.8 141.8,114.1 143.0,109.9 144.2,104.7 145.3,101.2 146.5,105.8 147.7,109.9 148.8,113.7 150.0,119.4 151.2,126.2 152.3,133.2 153.5,130.2 154.7,124.3 155.8,128.1 157.0,133.2 158.2,132.1 159.4,131.6 160.5,128.5 161.7,123.6 162.9,118.2 164.0,114.4 165.2,110.7 166.4,108.0 167.5,108.9 168.7,109.2 169.9,107.3 171.0,105.2 172.2,104.4 173.4,106.7 174.6,106.8 175.7,104.7 176.9,107.4 178.1,113.5 179.2,117.2 180.4,121.4 181.6,123.2 182.7,125.4 183.9,127.4 185.1,122.4 186.2,118.2 187.4,115.4 188.6,115.1 189.8,114.1 190.9,113.2 192.1,111.5 193.3,112.3 194.4,116.5 195.6,121.1 196.8,124.6 197.9,124.6 199.1,123.5 200.3,122.7 201.5,123.1 202.6,121.9 203.8,121.6 205.0,121.0 206.1,119.9 207.3,119.1 208.5,118.9 209.6,118.4 210.8,121.4 212.0,124.7 213.1,127.3 214.3,128.5 215.5,131.8 216.7,135.5 217.8,133.5 219.0,127.3 220.2,127.5 221.3,129.2 222.5,130.5 223.7,129.6 224.8,129.1 226.0,127.9 227.2,131.5 228.3,134.5 229.5,136.7 230.7,138.6 231.9,140.0 233.0,140.7 234.2,138.1 235.4,133.0 236.5,128.2 237.7,129.9 238.9,132.2 240.0,132.9 241.2,132.1 242.4,134.2 243.5,137.1 244.7,139.9 245.9,139.8 247.1,139.0 248.2,138.8 249.4,140.2 250.6,141.5 251.7,137.4 252.9,132.4 254.1,127.7 255.2,128.9 256.4,130.1 257.6,131.5 258.8,130.0 259.9,129.2 261.1,131.6 262.3,133.1 263.4,132.9 264.6,131.9 265.8,131.9 266.9,137.2 268.1,138.5 269.3,136.0 270.4,132.4 271.6,133.1 272.8,135.1 274.0,130.8 275.1,126.3 276.3,116.1 277.5,118.4 278.6,124.0 279.8,123.5 281.0,122.8 282.1,121.3 283.3,119.6 284.5,119.2 285.6,122.2 286.8,124.3 288.0,127.5 289.2,130.3 290.3,133.7 291.5,136.8 292.7,135.5 293.8,133.8 295.0,135.0 296.2,136.5 297.3,138.3 298.5,139.4 299.7,140.3 300.9,141.9 302.0,143.2 303.2,144.6 304.4,145.1 305.5,139.9 306.7,134.1 307.9,123.9 309.0,118.0 310.2,115.1 311.4,115.0 312.5,116.4 313.7,116.8 314.9,118.3 316.1,118.3 317.2,118.7 318.4,120.1 319.6,119.1 320.7,114.2 321.9,110.1 323.1,106.9 324.2,104.2 325.4,103.3 326.6,106.5 327.7,108.8 328.9,109.1 330.1,109.4 331.3,112.3 332.4,114.2 333.6,114.4 334.8,113.6 335.9,112.9 337.1,111.2 338.3,109.0 339.4,106.9 340.6,101.9 341.8,95.6 342.9,91.2 344.1,90.5 345.3,91.8 346.5,92.5 347.6,87.8 348.8,83.5 350.0,81.1 351.1,79.0 352.3,84.7 353.5,89.5 354.6,89.2 355.8,88.9 357.0,90.0 358.2,90.2 359.3,91.4 360.5,88.8 361.7,88.9 362.8,88.7 364.0,89.8 365.2,88.4 366.3,86.8 367.5,88.6 368.7,87.7 369.8,82.4 371.0,81.4 372.2,80.4 373.4,82.1 374.5,85.7 375.7,89.8 376.9,88.0 378.0,85.9 379.2,88.2 380.4,90.2 381.5,91.7 382.7,93.4 383.9,94.7 385.0,95.6 386.2,97.5 387.4,99.6 388.6,101.0 389.7,101.4 390.9,99.2 392.1,98.3 393.2,96.7 394.4,95.7 395.6,94.5 396.7,93.5 397.9,92.9 399.1,93.8 400.2,94.7 401.4,94.9 402.6,95.5 403.8,96.5 404.9,96.7 406.1,96.7 407.3,97.9 408.4,99.1 409.6,98.4 410.8,98.1 411.9,98.7 413.1,97.7 414.3,97.7 415.5,97.9 416.6,97.7 417.8,98.8 419.0,101.4 420.1,101.8 421.3,98.7 422.5,96.3 423.6,92.5 424.8,90.5 426.0,91.0 427.1,92.2 428.3,91.7 429.5,90.8 430.7,89.1 431.8,86.2 433.0,84.6 434.2,82.8 435.3,82.5 436.5,84.4 437.7,85.6 438.8,86.5 440.0,86.7 441.2,85.5 442.3,85.9 443.5,87.8 444.7,89.7 445.9,91.6 447.0,93.3 448.2,95.5 449.4,98.0 450.5,97.7 451.7,96.8 452.9,94.5 454.0,91.5 455.2,87.9 456.4,85.2 457.5,84.5 458.7,84.8 459.9,86.6 461.1,87.8 462.2,90.6 463.4,93.6 464.6,96.1 465.7,98.1 466.9,98.6 468.1,98.7 469.2,100.9 470.4,102.6 471.6,105.0 472.8,108.8 473.9,111.5 475.1,114.5 476.3,118.1 477.4,120.1 478.6,121.3 479.8,121.7 480.9,120.4 482.1,119.0 483.3,121.0 484.4,125.7" stroke="#9E480E"/>
<path d="M60.0,108.0 61.1,109.6 62.3,110.1 63.5,111.6 64.6,109.8 65.8,108.8 67.0,108.1 68.1,107.9 69.3,110.2 70.5,112.0 71.6,112.7 72.8,113.5 74.0,113.4 75.2,113.7 76.3,114.5 77.5,115.5 78.7,116.2 79.8,116.4 81.0,115.2 82.2,113.6 83.3,112.8 84.5,110.7 85.7,108.7 86.9,106.2 88.0,104.2 89.2,102.6 90.4,100.6 91.5,98.6 92.7,96.7 93.9,95.8 95.0,94.2 96.2,94.2 97.4,94.6 98.5,94.9 99.7,94.8 100.9,96.0 102.1,100.7 103.2,101.2 104.4,102.7 105.6,105.0 106.7,107.6 107.9,108.7 109.1,110.3 110.2,110.4 111.4,108.2 112.6,105.8 113.7,106.5 114.9,106.3 116.1,105.3 117.3,101.8 118.4,98.3 119.6,102.0 120.8,104.1 121.9,104.7 123.1,104.2 124.3,105.1 125.4,105.6 126.6,106.0 127.8,107.0 128.9,107.3 130.1,106.9 131.3,108.2 132.5,108.9 133.6,109.7 134.8,107.6 136.0,106.5 137.1,106.0 138.3,105.3 139.5,105.2 140.6,101.6 141.8,99.1 143.0,95.9 144.2,92.9 145.3,89.8 146.5,89.9 147.7,90.9 148.8,91.0 150.0,91.7 151.2,91.1 152.3,93.7 153.5,96.1 154.7,97.9 155.8,98.9 157.0,100.6 158.2,104.5 159.4,105.9 160.5,107.3 161.7,106.5 162.9,106.9 164.0,108.5 165.2,111.9 166.4,115.4 167.5,118.6 168.7,116.8 169.9,115.5 171.0,114.5 172.2,112.9 173.4,112.5 174.6,112.8 175.7,112.4 176.9,111.8 178.1,110.8 179.2,110.0 180.4,109.0 181.6,107.3 182.7,106.7 183.9,106.2 185.1,104.9 186.2,103.3 187.4,103.8 188.6,104.1 189.8,105.3 190.9,105.9 192.1,103.5 193.3,100.3 194.4,101.4 195.6,103.4 196.8,104.4 197.9,102.7 199.1,102.5 200.3,100.7 201.5,99.9 202.6,98.6 203.8,99.1 205.0,101.7 206.1,103.0 207.3,104.0 208.5,105.6 209.6,104.9 210.8,103.7 212.0,102.8 213.1,102.7 214.3,104.0 215.5,105.1 216.7,105.2 217.8,105.9 219.0,107.2 220.2,107.6 221.3,108.9 222.5,108.6 223.7,109.5 224.8,110.0 226.0,111.0 227.2,111.2 228.3,110.3 229.5,110.7 230.7,110.1 231.9,108.7 233.0,107.6 234.2,105.6 235.4,108.0 236.5,109.6 237.7,111.6 238.9,110.8 240.0,110.8 241.2,110.8 242.4,110.9 243.5,110.4 244.7,109.2 245.9,109.1 247.1,107.5 248.2,107.2 249.4,109.1 250.6,110.6 251.7,111.8 252.9,113.1 254.1,114.7 255.2,115.1 256.4,116.6 257.6,117.0 258.8,117.8 259.9,117.9 261.1,117.9 262.3,117.6 263.4,117.2 264.6,117.2 265.8,116.5 266.9,117.9 268.1,118.6 269.3,119.8 270.4,120.7 271.6,120.9 272.8,121.0 274.0,121.2 275.1,120.8 276.3,120.4 277.5,120.9 278.6,120.1 279.8,119.9 281.0,120.4 282.1,120.7 283.3,120.5 284.5,120.5 285.6,119.4 286.8,118.5 288.0,117.4 289.2,116.0 290.3,114.7 291.5,112.8 292.7,112.7 293.8,114.1 295.0,116.8 296.2,115.2 297.3,112.7 298.5,111.8 299.7,110.2 300.9,112.1 302.0,113.6 303.2,115.6 304.4,117.3 305.5,114.6 306.7,113.6 307.9,112.1 309.0,111.1 310.2,111.3 311.4,111.5 312.5,112.4 313.7,112.0 314.9,111.7 316.1,111.5 317.2,110.3 318.4,110.7 319.6,110.5 320.7,110.9 321.9,110.8 323.1,110.8 324.2,109.7 325.4,108.7 326.6,107.9 327.7,108.1 328.9,108.6 330.1,109.5 331.3,108.8 332.4,109.0 333.6,108.9 334.8,107.9 335.9,109.1 337.1,109.3 338.3,109.7 339.4,110.0 340.6,110.6 341.8,112.3 342.9,112.3 344.1,113.4 345.3,113.1 346.5,114.0 347.6,113.8 348.8,113.3 350.0,114.7 351.1,116.0 352.3,116.5 353.5,118.3 354.6,119.0 355.8,119.2 357.0,119.9 358.2,121.0 359.3,120.8 360.5,120.2 361.7,120.8 362.8,119.7 364.0,118.9 365.2,117.4 366.3,116.2 367.5,117.6 368.7,117.8 369.8,118.4 371.0,119.9 372.2,122.6 373.4,123.9 374.5,125.0 375.7,123.2 376.9,121.9 378.0,120.7 379.2,120.2 380.4,119.4 381.5,118.8 382.7,117.6 383.9,116.8 385.0,116.2 386.2,115.3 387.4,114.1 388.6,113.3 389.7,112.5 390.9,113.7 392.1,117.5 393.2,120.1 394.4,118.9 395.6,118.7 396.7,118.7 397.9,120.6 399.1,121.4 400.2,122.1 401.4,121.7 402.6,122.7 403.8,122.3 404.9,121.6 406.1,121.0 407.3,122.7 408.4,124.2 409.6,123.7 410.8,122.0 411.9,121.4 413.1,120.3 414.3,120.9 415.5,120.4 416.6,119.0 417.8,117.7 419.0,116.6 420.1,113.8 421.3,112.1 422.5,111.9 423.6,113.0 424.8,113.9 426.0,114.0 427.1,114.2 428.3,115.0 429.5,114.7 430.7,111.9 431.8,108.1 433.0,109.1 434.2,111.5 435.3,113.9 436.5,114.4 437.7,115.6 438.8,116.0 440.0,115.9 441.2,114.6 442.3,113.5 443.5,112.9 444.7,112.2 445.9,111.9 447.0,111.7 448.2,109.8 449.4,108.3 450.5,106.9 451.7,106.5 452.9,106.1 454.0,105.8 455.2,103.8 456.4,100.8 457.5,101.6 458.7,103.2 459.9,103.2 461.1,102.2 462.2,100.9 463.4,102.6 464.6,104.8 465.7,108.9 466.9,110.2 468.1,111.5 469.2,113.0 470.4,113.7 471.6,114.3 472.8,115.0 473.9,116.1 475.1,116.7 476.3,116.2 477.4,117.3 478.6,116.7 479.8,114.2 480.9,112.9 482.1,111.3 483.3,111.3" stroke="#636363"/>
<path d="M58.8,109.3 60.0,111.0 61.1,113.2 62.3,113.6 63.5,112.4 64.6,112.4 65.8,111.9 67.0,111.8 68.1,112.3 69.3,113.9 70.5,114.4 71.6,114.2 72.8,114.7 74.0,114.7 75.2,115.7 76.3,116.0 77.5,115.7 78.7,117.1 79.8,117.6 81.0,117.7 82.2,118.4 83.3,119.6 84.5,121.7 85.7,122.4 86.9,123.3 88.0,123.0 89.2,122.4 90.4,122.1 91.5,121.5 92.7,120.2 93.9,118.2 95.0,117.1 96.2,118.0 97.4,118.7 98.5,119.0 99.7,117.9 100.9,118.3 102.1,119.7 103.2,121.6 104.4,121.8 105.6,123.0 106.7,123.7 107.9,123.9 109.1,124.4 110.2,125.2 111.4,124.6 112.6,124.9 113.7,125.5 114.9,125.9 116.1,126.1 117.3,125.6 118.4,124.9 119.6,125.3 120.8,125.0 121.9,124.4 123.1,124.3 124.3,124.9 125.4,124.1 126.6,123.8 127.8,123.0 128.9,123.6 130.1,122.7 131.3,121.4 132.5,120.9 133.6,121.2 134.8,120.4 136.0,119.4 137.1,119.1 138.3,118.1 139.5,117.3 140.6,117.6 141.8,117.6 143.0,118.2 144.2,119.3 145.3,119.0 146.5,119.5 147.7,119.5 148.8,120.3 150.0,121.0 151.2,120.8 152.3,120.5 153.5,120.6 154.7,121.1 155.8,121.8 157.0,121.8 158.2,122.3 159.4,122.3 160.5,123.0 161.7,124.3 162.9,124.0 164.0,125.1 165.2,125.6 166.4,125.7 167.5,125.9 168.7,126.3 169.9,127.0 171.0,127.6 172.2,126.8 173.4,127.2 174.6,126.6 175.7,126.5 176.9,125.4 178.1,124.6 179.2,124.1 180.4,122.5 181.6,122.4 182.7,121.9 183.9,121.4 185.1,121.0 186.2,122.0 187.4,122.9 188.6,122.7 189.8,123.6 190.9,125.0 192.1,124.8 193.3,125.9 194.4,126.5 195.6,126.5 196.8,126.3 197.9,127.0 199.1,127.2 200.3,125.8 201.5,126.0 202.6,125.4 203.8,124.4 205.0,123.7 206.1,122.3 207.3,122.2 208.5,121.7 209.6,120.9 210.8,121.6 212.0,122.1 213.1,122.6 214.3,123.0 215.5,122.7 216.7,123.8 217.8,124.4 219.0,123.2 220.2,121.6 221.3,120.3 222.5,119.0 223.7,119.6 224.8,118.5 226.0,118.7 227.2,118.5 228.3,119.8 229.5,119.8 230.7,120.0 231.9,119.5 233.0,118.2 234.2,115.8 235.4,114.7 236.5,113.1 237.7,112.7 238.9,111.4 240.0,111.1 241.2,111.6 242.4,112.7 243.5,112.9 244.7,114.7 245.9,115.5 247.1,115.8 248.2,117.3 249.4,117.8 250.6,118.7 251.7,119.6 252.9,120.7 254.1,121.8 255.2,122.4 256.4,123.3 257.6,123.1 258.8,123.6 259.9,124.3 261.1,125.1 262.3,124.5 263.4,124.4 264.6,124.0 265.8,124.3 266.9,124.2 268.1,125.8 269.3,125.9 270.4,126.7 271.6,126.5 272.8,125.8 274.0,126.3 275.1,125.6 276.3,125.5 277.5,125.6 278.6,125.3 279.8,125.2 281.0,125.3 282.1,125.4 283.3,124.9 284.5,124.7 285.6,124.8 286.8,124.3 288.0,124.5 289.2,124.4 290.3,125.1 291.5,121.6 292.7,119.9" stroke="#FF0000"/>
</g>
<path d="M94.2,233.3H117.4" stroke="#4472C4" stroke-width="2.45" stroke-linecap="round"/>
<text x="121.2" y="237" font-size="10" fill="#686868">2015年</text>
<path d="M158.1,233.3H181.3" stroke="#ED7D31" stroke-width="2.45" stroke-linecap="round"/>
<text x="185.07" y="237" font-size="10" fill="#686868">2016年</text>
<path d="M221.9,233.3H245.1" stroke="#A5A5A5" stroke-width="2.45" stroke-linecap="round"/>
<text x="248.94" y="237" font-size="10" fill="#686868">2017年</text>
<path d="M285.8,233.3H309.0" stroke="#FFC000" stroke-width="2.45" stroke-linecap="round"/>
<text x="312.81" y="237" font-size="10" fill="#686868">2018年</text>
<path d="M349.7,233.3H372.9" stroke="#5B9BD5" stroke-width="2.45" stroke-linecap="round"/>
<text x="376.68" y="237" font-size="10" fill="#686868">2019年</text>
<path d="M94.2,249.3H117.4" stroke="#70AD47" stroke-width="2.45" stroke-linecap="round"/>
<text x="121.2" y="253" font-size="10" fill="#686868">2020年</text>
<path d="M158.1,249.3H181.3" stroke="#264478" stroke-width="2.45" stroke-linecap="round"/>
<text x="185.07" y="253" font-size="10" fill="#686868">2021年</text>
<path d="M221.9,249.3H245.1" stroke="#9E480E" stroke-width="2.45" stroke-linecap="round"/>
<text x="248.94" y="253" font-size="10" fill="#686868">2022年</text>
<path d="M285.8,249.3H309.0" stroke="#636363" stroke-width="2.45" stroke-linecap="round"/>
<text x="312.81" y="253" font-size="10" fill="#686868">2023年</text>
<path d="M349.7,249.3H372.9" stroke="#FF0000" stroke-width="2.45" stroke-linecap="round"/>
<text x="376.68" y="253" font-size="10" fill="#686868">2024年</text>
</g>
</svg></body></html>
